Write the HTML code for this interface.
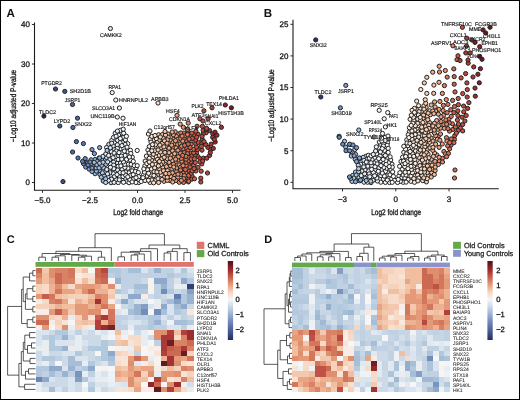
<!DOCTYPE html>
<html><head><meta charset="utf-8"><title>Figure</title>
<style>html,body{margin:0;padding:0;background:#fff;} svg text{font-family:"Liberation Sans", sans-serif;text-rendering:geometricPrecision;}</style>
</head><body>
<svg width="520" height="400" viewBox="0 0 520 400" font-family='"Liberation Sans", sans-serif' style="display:block;will-change:transform"><rect x="0.5" y="0.5" width="519" height="399" fill="#fff" stroke="#000" stroke-width="1"/>
<text x="6.60" y="17.00" font-size="11.6" font-weight="bold" fill="#111">A</text>
<g stroke="#222" stroke-width="1.0">
<circle cx="192.1" cy="176.2" r="2.1" fill="#d2624b"/>
<circle cx="113.5" cy="162.1" r="2.1" fill="#e5eef7"/>
<circle cx="133.6" cy="179.0" r="2.1" fill="#f8f9fa"/>
<circle cx="150.5" cy="155.5" r="2.1" fill="#fae5d3"/>
<circle cx="175.2" cy="162.2" r="2.1" fill="#ea9a75"/>
<circle cx="185.9" cy="180.3" r="2.1" fill="#da7055"/>
<circle cx="191.0" cy="141.5" r="2.1" fill="#dc7659"/>
<circle cx="179.1" cy="164.9" r="2.1" fill="#ec9e78"/>
<circle cx="126.4" cy="181.3" r="2.1" fill="#f5f8fa"/>
<circle cx="120.9" cy="133.5" r="2.1" fill="#ecf2f9"/>
<circle cx="125.9" cy="172.0" r="2.1" fill="#f7f9fa"/>
<circle cx="170.6" cy="165.8" r="2.1" fill="#eea883"/>
<circle cx="198.0" cy="134.2" r="2.1" fill="#c44c3b"/>
<circle cx="138.8" cy="182.5" r="2.1" fill="#fafafa"/>
<circle cx="172.3" cy="160.7" r="2.1" fill="#f2b592"/>
<circle cx="174.7" cy="143.5" r="2.1" fill="#efaa85"/>
<circle cx="114.5" cy="142.8" r="2.1" fill="#e8f0f8"/>
<circle cx="110.3" cy="163.8" r="2.1" fill="#e3ecf7"/>
<circle cx="150.0" cy="177.7" r="2.1" fill="#fbe9da"/>
<circle cx="120.9" cy="148.8" r="2.1" fill="#ecf2f8"/>
<circle cx="146.9" cy="176.0" r="2.1" fill="#fbe7d7"/>
<circle cx="158.5" cy="134.8" r="2.1" fill="#f7d0b5"/>
<circle cx="198.0" cy="156.6" r="2.1" fill="#c44b3b"/>
<circle cx="178.2" cy="134.0" r="2.1" fill="#efa985"/>
<circle cx="168.0" cy="134.0" r="2.1" fill="#f1b390"/>
<circle cx="117.6" cy="163.0" r="2.1" fill="#ecf2f9"/>
<circle cx="95.1" cy="173.7" r="2.1" fill="#96b7e1"/>
<circle cx="103.2" cy="181.0" r="2.1" fill="#96b7e1"/>
<circle cx="196.6" cy="152.6" r="2.1" fill="#cb5642"/>
<circle cx="117.6" cy="140.4" r="2.1" fill="#ecf2f9"/>
<circle cx="186.4" cy="177.5" r="2.1" fill="#db7458"/>
<circle cx="150.1" cy="182.4" r="2.1" fill="#fbe5d5"/>
<circle cx="129.2" cy="172.7" r="2.1" fill="#f7f8fa"/>
<circle cx="183.2" cy="148.9" r="2.1" fill="#dd7a5c"/>
<circle cx="110.4" cy="175.7" r="2.1" fill="#e3edf7"/>
<circle cx="138.4" cy="179.4" r="2.1" fill="#fbf6f3"/>
<circle cx="175.2" cy="131.8" r="2.1" fill="#e89470"/>
<circle cx="105.8" cy="164.4" r="2.1" fill="#a6c5e8"/>
<circle cx="123.3" cy="142.1" r="2.1" fill="#f5f7fa"/>
<circle cx="115.2" cy="133.2" r="2.1" fill="#e9f0f8"/>
<circle cx="102.7" cy="159.3" r="2.1" fill="#c0d7f0"/>
<circle cx="166.7" cy="146.4" r="2.1" fill="#f2b694"/>
<circle cx="189.2" cy="164.2" r="2.1" fill="#d6694f"/>
<circle cx="99.5" cy="170.5" r="2.1" fill="#97b7e1"/>
<circle cx="202.2" cy="139.2" r="2.1" fill="#bd4236"/>
<circle cx="173.3" cy="138.9" r="2.1" fill="#ec9f79"/>
<circle cx="195.7" cy="143.7" r="2.1" fill="#c74f3d"/>
<circle cx="120.5" cy="163.1" r="2.1" fill="#f0f5f9"/>
<circle cx="205.7" cy="144.5" r="2.1" fill="#c14839"/>
<circle cx="209.6" cy="130.6" r="2.1" fill="#a9322e"/>
<circle cx="118.2" cy="166.3" r="2.1" fill="#eaf1f8"/>
<circle cx="195.8" cy="171.0" r="2.1" fill="#c8523f"/>
<circle cx="179.1" cy="160.0" r="2.1" fill="#eb9b75"/>
<circle cx="149.1" cy="166.0" r="2.1" fill="#fcefe4"/>
<circle cx="206.1" cy="132.8" r="2.1" fill="#c04738"/>
<circle cx="128.3" cy="164.3" r="2.1" fill="#f8f9fa"/>
<circle cx="186.2" cy="172.3" r="2.1" fill="#df7e60"/>
<circle cx="183.8" cy="133.1" r="2.1" fill="#de7a5d"/>
<circle cx="167.3" cy="170.5" r="2.1" fill="#f4c09f"/>
<circle cx="215.2" cy="142.0" r="2.1" fill="#9d2a2b"/>
<circle cx="113.7" cy="165.1" r="2.1" fill="#e6eef8"/>
<circle cx="189.0" cy="178.5" r="2.1" fill="#d1614a"/>
<circle cx="155.4" cy="180.2" r="2.1" fill="#f9d8bf"/>
<circle cx="176.4" cy="136.4" r="2.1" fill="#eea57f"/>
<circle cx="177.5" cy="144.5" r="2.1" fill="#e89471"/>
<circle cx="123.7" cy="148.4" r="2.1" fill="#f4f7fa"/>
<circle cx="183.1" cy="173.1" r="2.1" fill="#e07f60"/>
<circle cx="95.0" cy="159.5" r="2.1" fill="#90b1de"/>
<circle cx="123.4" cy="137.5" r="2.1" fill="#f3f6f9"/>
<circle cx="91.2" cy="164.2" r="2.1" fill="#93b4df"/>
<circle cx="144.9" cy="165.8" r="2.1" fill="#fbf4ed"/>
<circle cx="116.2" cy="179.7" r="2.1" fill="#e8f0f8"/>
<circle cx="133.0" cy="168.1" r="2.1" fill="#f9f9fa"/>
<circle cx="127.9" cy="168.2" r="2.1" fill="#f3f6fa"/>
<circle cx="180.8" cy="174.5" r="2.1" fill="#e28666"/>
<circle cx="166.0" cy="161.4" r="2.1" fill="#f5c6a6"/>
<circle cx="122.1" cy="169.2" r="2.1" fill="#f6f8fa"/>
<circle cx="100.0" cy="174.5" r="2.1" fill="#94b5e0"/>
<circle cx="210.7" cy="149.6" r="2.1" fill="#b73b33"/>
<circle cx="120.1" cy="142.7" r="2.1" fill="#ecf2f9"/>
<circle cx="163.9" cy="177.1" r="2.1" fill="#f6c9aa"/>
<circle cx="129.0" cy="182.7" r="2.1" fill="#f4f7fa"/>
<circle cx="149.3" cy="146.6" r="2.1" fill="#fcf2ea"/>
<circle cx="158.8" cy="155.4" r="2.1" fill="#fae0cb"/>
<circle cx="141.2" cy="181.5" r="2.1" fill="#faf9f7"/>
<circle cx="107.9" cy="176.8" r="2.1" fill="#e2ecf7"/>
<circle cx="186.3" cy="165.6" r="2.1" fill="#dc7559"/>
<circle cx="171.9" cy="169.1" r="2.1" fill="#ec9d77"/>
<circle cx="209.6" cy="155.4" r="2.1" fill="#b33831"/>
<circle cx="105.4" cy="160.1" r="2.1" fill="#abc9eb"/>
<circle cx="213.3" cy="148.4" r="2.1" fill="#a32e2d"/>
<circle cx="153.8" cy="140.1" r="2.1" fill="#fbe5d4"/>
<circle cx="203.2" cy="133.6" r="2.1" fill="#ba3f35"/>
<circle cx="169.1" cy="162.4" r="2.1" fill="#efa985"/>
<circle cx="164.9" cy="164.3" r="2.1" fill="#f5c5a5"/>
<circle cx="162.3" cy="154.8" r="2.1" fill="#f6c7a8"/>
<circle cx="190.4" cy="153.3" r="2.1" fill="#cf5d47"/>
<circle cx="106.6" cy="157.5" r="2.1" fill="#c3d9f0"/>
<circle cx="162.8" cy="167.6" r="2.1" fill="#f5c3a3"/>
<circle cx="191.0" cy="161.9" r="2.1" fill="#d16049"/>
<circle cx="125.1" cy="155.4" r="2.1" fill="#f3f6fa"/>
<circle cx="131.2" cy="164.4" r="2.1" fill="#f8f9fa"/>
<circle cx="191.0" cy="135.8" r="2.1" fill="#d66950"/>
<circle cx="174.4" cy="174.8" r="2.1" fill="#ec9f79"/>
<circle cx="186.8" cy="148.1" r="2.1" fill="#dd785b"/>
<circle cx="143.6" cy="174.8" r="2.1" fill="#fbf6f2"/>
<circle cx="194.3" cy="135.7" r="2.1" fill="#cb5743"/>
<circle cx="158.1" cy="178.7" r="2.1" fill="#fadec9"/>
<circle cx="145.0" cy="180.5" r="2.1" fill="#fcf2e9"/>
<circle cx="109.7" cy="159.7" r="2.1" fill="#d0e1f3"/>
<circle cx="198.3" cy="142.4" r="2.1" fill="#c54c3b"/>
<circle cx="186.2" cy="162.3" r="2.1" fill="#d66950"/>
<circle cx="172.1" cy="142.1" r="2.1" fill="#ec9f79"/>
<circle cx="212.8" cy="133.9" r="2.1" fill="#a62f2d"/>
<circle cx="188.8" cy="160.4" r="2.1" fill="#db7357"/>
<circle cx="159.3" cy="140.2" r="2.1" fill="#f7cdb0"/>
<circle cx="118.6" cy="135.1" r="2.1" fill="#eff4f9"/>
<circle cx="156.3" cy="138.7" r="2.1" fill="#fadfcb"/>
<circle cx="181.8" cy="161.2" r="2.1" fill="#e48a68"/>
<circle cx="203.1" cy="130.2" r="2.1" fill="#c54c3b"/>
<circle cx="161.7" cy="158.9" r="2.1" fill="#f6c8aa"/>
<circle cx="124.9" cy="167.4" r="2.1" fill="#f5f8fa"/>
<circle cx="200.0" cy="158.7" r="2.1" fill="#c44b3b"/>
<circle cx="162.2" cy="134.7" r="2.1" fill="#f4c09e"/>
<circle cx="161.2" cy="147.9" r="2.1" fill="#f4bf9e"/>
<circle cx="109.7" cy="170.0" r="2.1" fill="#d5e4f4"/>
<circle cx="170.1" cy="139.9" r="2.1" fill="#f3ba98"/>
<circle cx="124.6" cy="164.4" r="2.1" fill="#f4f7fa"/>
<circle cx="126.5" cy="159.4" r="2.1" fill="#f2f6f9"/>
<circle cx="163.1" cy="138.2" r="2.1" fill="#f7ceb2"/>
<circle cx="180.2" cy="143.8" r="2.1" fill="#e28565"/>
<circle cx="136.3" cy="174.6" r="2.1" fill="#f9fafa"/>
<circle cx="159.6" cy="169.7" r="2.1" fill="#f7d1b6"/>
<circle cx="138.7" cy="176.6" r="2.1" fill="#fbf5f1"/>
<circle cx="151.8" cy="180.0" r="2.1" fill="#fbe6d5"/>
<circle cx="171.0" cy="136.9" r="2.1" fill="#efa883"/>
<circle cx="116.0" cy="156.7" r="2.1" fill="#eaf1f8"/>
<circle cx="173.4" cy="134.8" r="2.1" fill="#eb9b76"/>
<circle cx="119.4" cy="176.9" r="2.1" fill="#f0f5f9"/>
<circle cx="158.6" cy="174.3" r="2.1" fill="#f8d6bd"/>
<circle cx="105.7" cy="154.0" r="2.1" fill="#dbe7f5"/>
<circle cx="162.7" cy="162.4" r="2.1" fill="#f4bf9e"/>
<circle cx="127.8" cy="151.8" r="2.1" fill="#f8f9fa"/>
<circle cx="168.2" cy="137.2" r="2.1" fill="#f3bb99"/>
<circle cx="111.0" cy="182.7" r="2.1" fill="#c9dcf1"/>
<circle cx="117.3" cy="144.8" r="2.1" fill="#ebf2f8"/>
<circle cx="184.4" cy="152.5" r="2.1" fill="#d76a50"/>
<circle cx="160.4" cy="152.0" r="2.1" fill="#f8d5bb"/>
<circle cx="122.6" cy="179.6" r="2.1" fill="#f1f5f9"/>
<circle cx="111.8" cy="140.4" r="2.1" fill="#e8eff8"/>
<circle cx="206.3" cy="129.6" r="2.1" fill="#c44b3b"/>
<circle cx="188.7" cy="175.4" r="2.1" fill="#d76b51"/>
<circle cx="186.3" cy="140.7" r="2.1" fill="#d6684f"/>
<circle cx="181.3" cy="158.4" r="2.1" fill="#dd795c"/>
<circle cx="93.1" cy="166.9" r="2.1" fill="#92b3df"/>
<circle cx="178.3" cy="156.7" r="2.1" fill="#ea9a75"/>
<circle cx="135.9" cy="182.5" r="2.1" fill="#f7f9fa"/>
<circle cx="114.3" cy="149.2" r="2.1" fill="#e3edf7"/>
<circle cx="161.3" cy="174.9" r="2.1" fill="#f9dbc3"/>
<circle cx="177.4" cy="152.9" r="2.1" fill="#ec9f79"/>
<circle cx="101.3" cy="177.1" r="2.1" fill="#aac8ea"/>
<circle cx="113.5" cy="137.4" r="2.1" fill="#ebf1f8"/>
<circle cx="118.6" cy="155.7" r="2.1" fill="#e9f0f8"/>
<circle cx="160.5" cy="172.2" r="2.1" fill="#f7ceb2"/>
<circle cx="184.3" cy="175.6" r="2.1" fill="#e18464"/>
<circle cx="178.0" cy="139.1" r="2.1" fill="#eb9b75"/>
<circle cx="177.8" cy="177.1" r="2.1" fill="#eea47f"/>
<circle cx="145.2" cy="161.1" r="2.1" fill="#fcefe5"/>
<circle cx="173.5" cy="164.3" r="2.1" fill="#ec9e78"/>
<circle cx="132.3" cy="157.2" r="2.1" fill="#f9f9fa"/>
<circle cx="195.6" cy="140.0" r="2.1" fill="#cb5743"/>
<circle cx="108.8" cy="144.3" r="2.1" fill="#c7dbf1"/>
<circle cx="125.4" cy="139.9" r="2.1" fill="#f1f5f9"/>
<circle cx="183.5" cy="182.4" r="2.1" fill="#db7458"/>
<circle cx="195.9" cy="131.1" r="2.1" fill="#ce5b45"/>
<circle cx="167.5" cy="150.5" r="2.1" fill="#f4be9c"/>
<circle cx="151.4" cy="169.0" r="2.1" fill="#fae2ce"/>
<circle cx="187.9" cy="131.2" r="2.1" fill="#d76a51"/>
<circle cx="120.9" cy="165.9" r="2.1" fill="#f0f4f9"/>
<circle cx="155.2" cy="148.0" r="2.1" fill="#fae5d3"/>
<circle cx="202.0" cy="136.4" r="2.1" fill="#bf4537"/>
<circle cx="164.0" cy="181.3" r="2.1" fill="#f3ba97"/>
<circle cx="127.8" cy="143.7" r="2.1" fill="#f6f8fa"/>
<circle cx="104.5" cy="175.4" r="2.1" fill="#abc9eb"/>
<circle cx="154.6" cy="161.9" r="2.1" fill="#f9dbc4"/>
<circle cx="125.1" cy="144.5" r="2.1" fill="#edf3f9"/>
<circle cx="207.9" cy="147.4" r="2.1" fill="#aa322f"/>
<circle cx="167.8" cy="156.1" r="2.1" fill="#f0ad89"/>
<circle cx="106.6" cy="147.5" r="2.1" fill="#dbe8f5"/>
<circle cx="180.7" cy="138.5" r="2.1" fill="#e68e6c"/>
<circle cx="175.5" cy="140.7" r="2.1" fill="#eb9b75"/>
<circle cx="191.8" cy="133.1" r="2.1" fill="#cc5944"/>
<circle cx="167.3" cy="139.9" r="2.1" fill="#f2b693"/>
<circle cx="115.2" cy="171.3" r="2.1" fill="#e9f0f8"/>
<circle cx="113.2" cy="145.9" r="2.1" fill="#e6eff8"/>
<circle cx="125.3" cy="178.1" r="2.1" fill="#f5f8fa"/>
<circle cx="169.0" cy="148.1" r="2.1" fill="#f1b28f"/>
<circle cx="176.6" cy="171.6" r="2.1" fill="#e58c6a"/>
<circle cx="170.1" cy="180.5" r="2.1" fill="#f2b794"/>
<circle cx="111.5" cy="179.2" r="2.1" fill="#e3edf7"/>
<circle cx="108.4" cy="180.5" r="2.1" fill="#dae7f5"/>
<circle cx="97.7" cy="161.0" r="2.1" fill="#a5c4e8"/>
<circle cx="83.5" cy="163.7" r="2.1" fill="#6c8dc6"/>
<circle cx="129.8" cy="179.5" r="2.1" fill="#f7f9fa"/>
<circle cx="160.3" cy="137.0" r="2.1" fill="#f8d4b9"/>
<circle cx="166.4" cy="166.6" r="2.1" fill="#f0ad89"/>
<circle cx="173.3" cy="148.0" r="2.1" fill="#eda27c"/>
<circle cx="173.4" cy="156.2" r="2.1" fill="#eda37e"/>
<circle cx="123.0" cy="176.5" r="2.1" fill="#f3f6fa"/>
<circle cx="180.6" cy="167.2" r="2.1" fill="#e48a69"/>
<circle cx="123.7" cy="133.2" r="2.1" fill="#f4f7fa"/>
<circle cx="176.1" cy="147.9" r="2.1" fill="#eda27c"/>
<circle cx="136.0" cy="177.7" r="2.1" fill="#f9fafa"/>
<circle cx="197.5" cy="149.7" r="2.1" fill="#c34a3a"/>
<circle cx="85.7" cy="167.0" r="2.1" fill="#7596cc"/>
<circle cx="155.7" cy="164.6" r="2.1" fill="#fae2cf"/>
<circle cx="117.3" cy="148.4" r="2.1" fill="#ecf2f8"/>
<circle cx="175.9" cy="180.5" r="2.1" fill="#eb9c77"/>
<circle cx="125.6" cy="175.1" r="2.1" fill="#f3f6fa"/>
<circle cx="202.0" cy="150.2" r="2.1" fill="#c04738"/>
<circle cx="171.0" cy="154.9" r="2.1" fill="#eda37e"/>
<circle cx="171.0" cy="176.6" r="2.1" fill="#f1b390"/>
<circle cx="157.0" cy="142.6" r="2.1" fill="#f9dbc3"/>
<circle cx="105.6" cy="178.8" r="2.1" fill="#a6c5e8"/>
<circle cx="105.2" cy="172.3" r="2.1" fill="#e2ecf7"/>
<circle cx="154.7" cy="167.9" r="2.1" fill="#f9ddc6"/>
<circle cx="167.4" cy="158.8" r="2.1" fill="#f2b795"/>
<circle cx="132.2" cy="170.9" r="2.1" fill="#f7f9fa"/>
<circle cx="130.4" cy="175.5" r="2.1" fill="#f8f9fa"/>
<circle cx="188.0" cy="150.6" r="2.1" fill="#d16049"/>
<circle cx="96.3" cy="171.1" r="2.1" fill="#9abae3"/>
<circle cx="150.3" cy="139.2" r="2.1" fill="#fbeadc"/>
<circle cx="189.4" cy="171.1" r="2.1" fill="#cf5c47"/>
<circle cx="130.4" cy="150.3" r="2.1" fill="#f8f9fa"/>
<circle cx="130.8" cy="153.5" r="2.1" fill="#f6f8fa"/>
<circle cx="155.8" cy="156.7" r="2.1" fill="#f9ddc8"/>
<circle cx="111.4" cy="151.7" r="2.1" fill="#e6eff8"/>
<circle cx="146.8" cy="163.5" r="2.1" fill="#fcf2e9"/>
<circle cx="130.5" cy="160.0" r="2.1" fill="#f7f9fa"/>
<circle cx="113.1" cy="157.7" r="2.1" fill="#eef3f9"/>
<circle cx="95.9" cy="167.9" r="2.1" fill="#92b3df"/>
<circle cx="164.8" cy="149.6" r="2.1" fill="#f5c1a1"/>
<circle cx="98.9" cy="158.1" r="2.1" fill="#a6c4e8"/>
<circle cx="178.0" cy="174.2" r="2.1" fill="#e99773"/>
<circle cx="183.6" cy="178.7" r="2.1" fill="#e28666"/>
<circle cx="156.6" cy="152.6" r="2.1" fill="#f9dbc3"/>
<circle cx="117.6" cy="170.0" r="2.1" fill="#eaf1f8"/>
<circle cx="96.8" cy="164.8" r="2.1" fill="#9bbbe3"/>
<circle cx="162.3" cy="143.3" r="2.1" fill="#f6c7a8"/>
<circle cx="143.0" cy="177.7" r="2.1" fill="#fbf6f3"/>
<circle cx="153.6" cy="182.8" r="2.1" fill="#fae3d0"/>
<circle cx="191.2" cy="144.2" r="2.1" fill="#d6684f"/>
<circle cx="191.8" cy="156.0" r="2.1" fill="#ce5b46"/>
<circle cx="146.4" cy="156.1" r="2.1" fill="#fcf1e8"/>
<circle cx="120.3" cy="130.3" r="2.1" fill="#eff4f9"/>
<circle cx="171.7" cy="145.2" r="2.1" fill="#ec9e78"/>
<circle cx="147.9" cy="150.0" r="2.1" fill="#fbf5f0"/>
<circle cx="107.6" cy="161.9" r="2.1" fill="#d3e3f4"/>
<circle cx="188.4" cy="157.5" r="2.1" fill="#d96f54"/>
<circle cx="180.0" cy="148.3" r="2.1" fill="#dd795c"/>
<circle cx="118.2" cy="159.5" r="2.1" fill="#e7eff8"/>
<circle cx="187.5" cy="153.7" r="2.1" fill="#d76a51"/>
<circle cx="164.5" cy="140.9" r="2.1" fill="#f4c1a0"/>
<circle cx="129.4" cy="157.0" r="2.1" fill="#f7f8fa"/>
<circle cx="136.1" cy="167.8" r="2.1" fill="#fafafa"/>
<circle cx="215.0" cy="132.2" r="2.1" fill="#972529"/>
<circle cx="123.2" cy="129.2" r="2.1" fill="#eff4f9"/>
<circle cx="99.1" cy="167.9" r="2.1" fill="#a3c2e7"/>
<circle cx="201.8" cy="143.7" r="2.1" fill="#bf4538"/>
<circle cx="193.6" cy="165.5" r="2.1" fill="#d16049"/>
<circle cx="158.6" cy="182.5" r="2.1" fill="#f6cbae"/>
<circle cx="195.1" cy="155.3" r="2.1" fill="#c2493a"/>
<circle cx="114.1" cy="182.4" r="2.1" fill="#e7eff8"/>
<circle cx="107.1" cy="150.4" r="2.1" fill="#a6c5e8"/>
<circle cx="89.1" cy="169.1" r="2.1" fill="#7e9fd2"/>
<circle cx="191.2" cy="159.1" r="2.1" fill="#d2634b"/>
<circle cx="179.3" cy="182.3" r="2.1" fill="#e68f6d"/>
<circle cx="169.0" cy="152.7" r="2.1" fill="#f2b491"/>
<circle cx="91.0" cy="159.8" r="2.1" fill="#8baddb"/>
<circle cx="203.4" cy="158.2" r="2.1" fill="#be4537"/>
<circle cx="151.8" cy="136.3" r="2.1" fill="#fceee3"/>
<circle cx="173.8" cy="178.4" r="2.1" fill="#eea580"/>
<circle cx="126.4" cy="136.3" r="2.1" fill="#f6f8fa"/>
<circle cx="172.4" cy="172.8" r="2.1" fill="#efaa85"/>
<circle cx="201.8" cy="163.9" r="2.1" fill="#c95340"/>
<circle cx="119.9" cy="172.6" r="2.1" fill="#f0f5f9"/>
<circle cx="110.2" cy="172.8" r="2.1" fill="#e3edf7"/>
<circle cx="167.3" cy="180.4" r="2.1" fill="#f1b08d"/>
<circle cx="180.8" cy="132.9" r="2.1" fill="#da7257"/>
<circle cx="175.6" cy="159.2" r="2.1" fill="#ea9873"/>
<circle cx="132.1" cy="181.9" r="2.1" fill="#f9fafa"/>
<circle cx="148.4" cy="180.3" r="2.1" fill="#fbe7d7"/>
<circle cx="152.4" cy="157.6" r="2.1" fill="#fae3d1"/>
<circle cx="111.7" cy="143.2" r="2.1" fill="#d2e2f3"/>
<circle cx="193.7" cy="152.8" r="2.1" fill="#ce5c46"/>
<circle cx="186.0" cy="159.2" r="2.1" fill="#db7257"/>
<circle cx="134.3" cy="165.6" r="2.1" fill="#f8f9fa"/>
<circle cx="160.8" cy="164.6" r="2.1" fill="#f7ceb2"/>
<circle cx="176.5" cy="167.9" r="2.1" fill="#ea9a75"/>
<circle cx="127.0" cy="147.1" r="2.1" fill="#f2f5f9"/>
<circle cx="172.6" cy="150.8" r="2.1" fill="#eea782"/>
<circle cx="113.5" cy="173.7" r="2.1" fill="#e4edf7"/>
<circle cx="158.4" cy="165.9" r="2.1" fill="#f9d8bf"/>
<circle cx="151.4" cy="160.2" r="2.1" fill="#fae3d1"/>
<circle cx="120.3" cy="138.5" r="2.1" fill="#edf3f9"/>
<circle cx="105.7" cy="182.5" r="2.1" fill="#bdd5ef"/>
<circle cx="113.8" cy="168.7" r="2.1" fill="#e7eff8"/>
<circle cx="170.3" cy="158.2" r="2.1" fill="#f0ad89"/>
<circle cx="181.3" cy="180.4" r="2.1" fill="#e7926f"/>
<circle cx="92.0" cy="171.5" r="2.1" fill="#8eafdd"/>
<circle cx="149.3" cy="158.3" r="2.1" fill="#fbe9db"/>
<circle cx="155.0" cy="135.5" r="2.1" fill="#fae1cd"/>
<circle cx="206.8" cy="158.2" r="2.1" fill="#b73c33"/>
<circle cx="204.0" cy="141.6" r="2.1" fill="#c44c3b"/>
<circle cx="135.4" cy="171.5" r="2.1" fill="#f9fafa"/>
<circle cx="193.6" cy="149.2" r="2.1" fill="#cf5d47"/>
<circle cx="183.1" cy="165.6" r="2.1" fill="#e38867"/>
<circle cx="165.5" cy="135.0" r="2.1" fill="#f5c5a6"/>
<circle cx="162.0" cy="179.4" r="2.1" fill="#f5c6a6"/>
<circle cx="191.2" cy="173.2" r="2.1" fill="#cc5743"/>
<circle cx="169.0" cy="173.5" r="2.1" fill="#f1b08c"/>
<circle cx="102.9" cy="156.4" r="2.1" fill="#caddf2"/>
<circle cx="117.4" cy="131.1" r="2.1" fill="#eaf1f8"/>
<circle cx="163.5" cy="170.7" r="2.1" fill="#f5c4a5"/>
<circle cx="180.4" cy="153.2" r="2.1" fill="#e48b69"/>
<circle cx="144.4" cy="172.1" r="2.1" fill="#fbf3ec"/>
<circle cx="114.5" cy="176.5" r="2.1" fill="#e6eef8"/>
<circle cx="192.3" cy="138.3" r="2.1" fill="#ca5440"/>
<circle cx="133.3" cy="161.4" r="2.1" fill="#f8f9fa"/>
<circle cx="108.6" cy="155.5" r="2.1" fill="#e4edf7"/>
<circle cx="123.4" cy="161.9" r="2.1" fill="#eef3f9"/>
<circle cx="180.6" cy="170.0" r="2.1" fill="#dc765a"/>
<circle cx="216.9" cy="135.3" r="2.1" fill="#9d292b"/>
<circle cx="118.3" cy="182.6" r="2.1" fill="#edf2f9"/>
<circle cx="167.1" cy="143.2" r="2.1" fill="#f1b28e"/>
<circle cx="199.9" cy="161.8" r="2.1" fill="#c34a3a"/>
<circle cx="192.2" cy="170.7" r="2.1" fill="#d4654d"/>
<circle cx="185.4" cy="169.6" r="2.1" fill="#d76a51"/>
<circle cx="190.0" cy="167.0" r="2.1" fill="#d2614a"/>
<circle cx="94.2" cy="162.4" r="2.1" fill="#9ebde4"/>
<circle cx="133.2" cy="174.6" r="2.1" fill="#f9fafa"/>
<circle cx="152.3" cy="164.4" r="2.1" fill="#f9dcc6"/>
<circle cx="147.5" cy="169.7" r="2.1" fill="#fcede1"/>
<circle cx="151.0" cy="175.0" r="2.1" fill="#fbe6d5"/>
<circle cx="102.4" cy="172.8" r="2.1" fill="#a5c4e8"/>
<circle cx="173.8" cy="167.0" r="2.1" fill="#efaa85"/>
<circle cx="154.1" cy="171.8" r="2.1" fill="#fadec9"/>
<circle cx="191.7" cy="179.2" r="2.1" fill="#cc5743"/>
<circle cx="195.3" cy="162.5" r="2.1" fill="#ce5b46"/>
<circle cx="177.9" cy="150.3" r="2.1" fill="#e89370"/>
<circle cx="181.6" cy="146.2" r="2.1" fill="#e08162"/>
<circle cx="185.9" cy="156.4" r="2.1" fill="#db7458"/>
<circle cx="103.4" cy="167.5" r="2.1" fill="#afccec"/>
<circle cx="119.3" cy="179.8" r="2.1" fill="#e7eff8"/>
<circle cx="189.1" cy="139.1" r="2.1" fill="#d86d52"/>
<circle cx="155.4" cy="144.8" r="2.1" fill="#f9ddc6"/>
<circle cx="172.7" cy="182.0" r="2.1" fill="#f0ac88"/>
<circle cx="184.7" cy="145.3" r="2.1" fill="#d86d53"/>
<circle cx="110.4" cy="167.3" r="2.1" fill="#e9f0f8"/>
<circle cx="143.8" cy="168.9" r="2.1" fill="#fbf6f1"/>
<circle cx="182.6" cy="155.4" r="2.1" fill="#db7358"/>
<circle cx="85.0" cy="161.1" r="2.1" fill="#7798cd"/>
<circle cx="188.4" cy="181.9" r="2.1" fill="#df7d5f"/>
<circle cx="116.3" cy="151.1" r="2.1" fill="#e9f0f8"/>
<circle cx="151.0" cy="142.1" r="2.1" fill="#fbe8d9"/>
<circle cx="123.5" cy="182.3" r="2.1" fill="#f6f8fa"/>
<circle cx="114.1" cy="153.0" r="2.1" fill="#e8f0f8"/>
<circle cx="153.3" cy="154.2" r="2.1" fill="#f8d3b8"/>
<circle cx="156.9" cy="172.0" r="2.1" fill="#f8d6bd"/>
<circle cx="138.3" cy="172.5" r="2.1" fill="#faf9f9"/>
<circle cx="152.4" cy="147.9" r="2.1" fill="#fae1ce"/>
<circle cx="119.0" cy="152.6" r="2.1" fill="#e9f0f8"/>
<circle cx="174.6" cy="153.7" r="2.1" fill="#eea883"/>
<circle cx="194.3" cy="158.8" r="2.1" fill="#cf5d47"/>
<circle cx="107.5" cy="173.9" r="2.1" fill="#d8e6f5"/>
<circle cx="211.1" cy="144.2" r="2.1" fill="#af3630"/>
<circle cx="157.5" cy="159.4" r="2.1" fill="#f9dcc5"/>
<circle cx="110.3" cy="147.8" r="2.1" fill="#d5e4f4"/>
<circle cx="121.9" cy="145.6" r="2.1" fill="#f2f6f9"/>
<circle cx="167.2" cy="177.2" r="2.1" fill="#f4bf9d"/>
<circle cx="202.7" cy="161.0" r="2.1" fill="#c24939"/>
<circle cx="154.6" cy="150.7" r="2.1" fill="#f9dbc4"/>
<circle cx="87.5" cy="162.9" r="2.1" fill="#7495cb"/>
<circle cx="184.1" cy="138.6" r="2.1" fill="#de7b5d"/>
<circle cx="101.7" cy="165.2" r="2.1" fill="#a7c5e9"/>
<circle cx="182.8" cy="141.1" r="2.1" fill="#e99773"/>
<circle cx="121.3" cy="156.1" r="2.1" fill="#ebf1f8"/>
<circle cx="159.9" cy="145.1" r="2.1" fill="#f8d3b9"/>
<circle cx="165.8" cy="173.5" r="2.1" fill="#f4bc9a"/>
<circle cx="149.2" cy="153.0" r="2.1" fill="#fbeadc"/>
<circle cx="149.2" cy="162.0" r="2.1" fill="#fcede1"/>
<circle cx="201.4" cy="146.4" r="2.1" fill="#c54d3c"/>
<circle cx="190.1" cy="147.5" r="2.1" fill="#d2624b"/>
<circle cx="99.7" cy="163.1" r="2.1" fill="#b1cdec"/>
<circle cx="196.6" cy="147.1" r="2.1" fill="#c64e3c"/>
<circle cx="196.7" cy="137.2" r="2.1" fill="#c44b3b"/>
<circle cx="212.7" cy="137.3" r="2.1" fill="#a9322e"/>
<circle cx="116.1" cy="136.2" r="2.1" fill="#e9f0f8"/>
<circle cx="184.9" cy="135.8" r="2.1" fill="#dd795c"/>
<circle cx="163.9" cy="146.9" r="2.1" fill="#f5c5a5"/>
<circle cx="106.7" cy="169.5" r="2.1" fill="#d5e4f4"/>
<circle cx="121.8" cy="159.1" r="2.1" fill="#f0f4f9"/>
<circle cx="103.1" cy="162.2" r="2.1" fill="#afccec"/>
<circle cx="198.0" cy="167.3" r="2.1" fill="#c64d3c"/>
<circle cx="153.9" cy="175.5" r="2.1" fill="#fbe9db"/>
<circle cx="117.0" cy="174.6" r="2.1" fill="#e7eff8"/>
<circle cx="151.8" cy="150.8" r="2.1" fill="#fadfca"/>
<circle cx="187.5" cy="134.5" r="2.1" fill="#de7b5e"/>
<circle cx="123.1" cy="172.8" r="2.1" fill="#eff4f9"/>
<circle cx="148.6" cy="173.3" r="2.1" fill="#fbf3eb"/>
<circle cx="158.1" cy="149.9" r="2.1" fill="#f7ceb1"/>
<circle cx="159.4" cy="161.5" r="2.1" fill="#f6ccaf"/>
<circle cx="214.4" cy="139.4" r="2.1" fill="#b13731"/>
<circle cx="182.1" cy="136.1" r="2.1" fill="#e38867"/>
<circle cx="164.9" cy="152.4" r="2.1" fill="#f4bf9d"/>
<circle cx="127.8" cy="176.9" r="2.1" fill="#f7f9fa"/>
<circle cx="164.2" cy="157.3" r="2.1" fill="#f5c6a7"/>
<circle cx="152.5" cy="144.6" r="2.1" fill="#fbe7d8"/>
<circle cx="188.2" cy="144.1" r="2.1" fill="#d66950"/>
<circle cx="124.3" cy="151.1" r="2.1" fill="#f4f7fa"/>
<circle cx="210.3" cy="152.6" r="2.1" fill="#b23731"/>
<circle cx="194.1" cy="168.6" r="2.1" fill="#cd5a45"/>
</g>
<g stroke="#222" stroke-width="1.0">
<circle cx="76.4" cy="141.6" r="2.1" fill="#4c6cad"/>
<circle cx="83.4" cy="143.6" r="2.1" fill="#5577b6"/>
<circle cx="72.6" cy="152.0" r="2.1" fill="#4a69aa"/>
<circle cx="78.0" cy="158.0" r="2.1" fill="#5274b3"/>
<circle cx="82.6" cy="161.4" r="2.1" fill="#5b7dba"/>
<circle cx="85.2" cy="158.6" r="2.1" fill="#6084bf"/>
<circle cx="92.0" cy="149.6" r="2.1" fill="#7598cc"/>
<circle cx="94.4" cy="153.6" r="2.1" fill="#7a9ccd"/>
<circle cx="99.6" cy="147.6" r="2.1" fill="#88aad5"/>
<circle cx="99.6" cy="158.0" r="2.1" fill="#84a6d3"/>
<circle cx="63.0" cy="181.6" r="2.1" fill="#3b4f95"/>
<circle cx="88.0" cy="165.0" r="2.1" fill="#6a8dc4"/>
<circle cx="92.0" cy="168.0" r="2.1" fill="#7293c8"/>
<circle cx="90.0" cy="162.0" r="2.1" fill="#6f90c6"/>
<circle cx="201.2" cy="171.2" r="2.1" fill="#c4503f"/>
<circle cx="207.5" cy="173.0" r="2.1" fill="#bb4239"/>
<circle cx="194.5" cy="178.8" r="2.1" fill="#d0603f"/>
<circle cx="200.8" cy="178.2" r="2.1" fill="#c64c3c"/>
<circle cx="200.8" cy="182.0" r="2.1" fill="#c04438"/>
<circle cx="188.8" cy="181.2" r="2.1" fill="#d46c4c"/>
<circle cx="137.2" cy="150.5" r="2.1" fill="#fafafa"/>
<circle cx="137.2" cy="165.6" r="2.1" fill="#fafafa"/>
<circle cx="148.4" cy="134.0" r="2.1" fill="#fbe8dc"/>
<circle cx="212.0" cy="107.8" r="2.1" fill="#b83a35"/>
<circle cx="225.3" cy="105.0" r="2.1" fill="#9a2030"/>
<circle cx="231.4" cy="107.8" r="2.1" fill="#7a1520"/>
<circle cx="221.4" cy="127.3" r="2.1" fill="#a8283a"/>
<circle cx="203.9" cy="110.8" r="2.1" fill="#c0483c"/>
<circle cx="177.0" cy="115.3" r="2.1" fill="#eaa07a"/>
<circle cx="158.0" cy="103.0" r="2.1" fill="#fbe0cc"/>
<circle cx="180.2" cy="124.1" r="2.1" fill="#eda680"/>
<circle cx="188.2" cy="123.1" r="2.1" fill="#e08a66"/>
<circle cx="199.9" cy="118.8" r="2.1" fill="#c8543f"/>
<circle cx="203.0" cy="121.0" r="2.1" fill="#c24c3c"/>
<circle cx="208.1" cy="118.8" r="2.1" fill="#b8403a"/>
<circle cx="197.1" cy="126.3" r="2.1" fill="#cf5e46"/>
<circle cx="202.4" cy="126.3" r="2.1" fill="#c4503f"/>
<circle cx="206.6" cy="128.4" r="2.1" fill="#bd463c"/>
<circle cx="183.4" cy="127.3" r="2.1" fill="#e49270"/>
<circle cx="187.6" cy="129.4" r="2.1" fill="#df8664"/>
<circle cx="172.2" cy="132.0" r="2.1" fill="#f0b08c"/>
<circle cx="165.0" cy="131.5" r="2.1" fill="#f3c0a0"/>
<circle cx="150.0" cy="131.0" r="2.1" fill="#fbe6d8"/>
<circle cx="110.4" cy="28.5" r="2.1" fill="#d2e4f3"/>
<circle cx="55.5" cy="89.0" r="2.1" fill="#34478a"/>
<circle cx="64.8" cy="91.4" r="2.1" fill="#3e5595"/>
<circle cx="72.5" cy="104.5" r="2.1" fill="#4563a3"/>
<circle cx="43.9" cy="116.1" r="2.1" fill="#1d264c"/>
<circle cx="59.8" cy="126.0" r="2.1" fill="#3a5598"/>
<circle cx="77.5" cy="118.2" r="2.1" fill="#4b6aaa"/>
<circle cx="72.9" cy="127.5" r="2.1" fill="#4b6aaa"/>
<circle cx="112.2" cy="92.6" r="2.1" fill="#eef4fa"/>
<circle cx="115.8" cy="100.0" r="2.1" fill="#f4f7fa"/>
<circle cx="119.4" cy="108.0" r="2.1" fill="#f4f7fa"/>
<circle cx="117.3" cy="117.0" r="2.1" fill="#f6f8fa"/>
<circle cx="123.0" cy="118.2" r="2.1" fill="#f6f8fa"/>
</g>
<path d="M34.5 22.5 V190.3 H240.5" fill="none" stroke="#1a1a1a" stroke-width="1.1"/>
<line x1="31.9" y1="182.50" x2="34.5" y2="182.50" stroke="#1a1a1a" stroke-width="0.9"/>
<text x="29.90" y="185.35" font-size="8.0" text-anchor="end" fill="#111" stroke="#111" stroke-width="0.28">0</text>
<line x1="31.9" y1="143.00" x2="34.5" y2="143.00" stroke="#1a1a1a" stroke-width="0.9"/>
<text x="29.90" y="145.85" font-size="8.0" text-anchor="end" fill="#111" stroke="#111" stroke-width="0.28">10</text>
<line x1="31.9" y1="103.50" x2="34.5" y2="103.50" stroke="#1a1a1a" stroke-width="0.9"/>
<text x="29.90" y="106.35" font-size="8.0" text-anchor="end" fill="#111" stroke="#111" stroke-width="0.28">20</text>
<line x1="31.9" y1="64.00" x2="34.5" y2="64.00" stroke="#1a1a1a" stroke-width="0.9"/>
<text x="29.90" y="66.85" font-size="8.0" text-anchor="end" fill="#111" stroke="#111" stroke-width="0.28">30</text>
<line x1="31.9" y1="24.50" x2="34.5" y2="24.50" stroke="#1a1a1a" stroke-width="0.9"/>
<text x="29.90" y="27.35" font-size="8.0" text-anchor="end" fill="#111" stroke="#111" stroke-width="0.28">40</text>
<line x1="42.50" y1="190.3" x2="42.50" y2="192.9" stroke="#1a1a1a" stroke-width="0.9"/>
<text x="42.50" y="203.10" font-size="8.0" text-anchor="middle" fill="#111" stroke="#111" stroke-width="0.28">−5.0</text>
<line x1="90.00" y1="190.3" x2="90.00" y2="192.9" stroke="#1a1a1a" stroke-width="0.9"/>
<text x="90.00" y="203.10" font-size="8.0" text-anchor="middle" fill="#111" stroke="#111" stroke-width="0.28">−2.5</text>
<line x1="137.50" y1="190.3" x2="137.50" y2="192.9" stroke="#1a1a1a" stroke-width="0.9"/>
<text x="137.50" y="203.10" font-size="8.0" text-anchor="middle" fill="#111" stroke="#111" stroke-width="0.28">0.0</text>
<line x1="185.00" y1="190.3" x2="185.00" y2="192.9" stroke="#1a1a1a" stroke-width="0.9"/>
<text x="185.00" y="203.10" font-size="8.0" text-anchor="middle" fill="#111" stroke="#111" stroke-width="0.28">2.5</text>
<line x1="232.50" y1="190.3" x2="232.50" y2="192.9" stroke="#1a1a1a" stroke-width="0.9"/>
<text x="232.50" y="203.10" font-size="8.0" text-anchor="middle" fill="#111" stroke="#111" stroke-width="0.28">5.0</text>
<text x="138.20" y="215.20" font-size="8.2" text-anchor="middle" textLength="50.0" lengthAdjust="spacingAndGlyphs" fill="#111" stroke="#111" stroke-width="0.3">Log2 fold change</text>
<text transform="translate(16,106) rotate(-90)" x="0" y="0" font-size="8.2" text-anchor="middle" textLength="72.5" lengthAdjust="spacingAndGlyphs" fill="#111" stroke="#111" stroke-width="0.3">−Log10 adjusted P-value</text>
<text x="99.90" y="37.27" font-size="5.4" textLength="21.9" lengthAdjust="spacingAndGlyphs" fill="#222" stroke="#222" stroke-width="0.189">CAMKK2</text>
<text x="41.20" y="84.97" font-size="5.4" textLength="20.7" lengthAdjust="spacingAndGlyphs" fill="#222" stroke="#222" stroke-width="0.189">PTGDR2</text>
<text x="69.70" y="93.37" font-size="5.4" textLength="21.2" lengthAdjust="spacingAndGlyphs" fill="#222" stroke="#222" stroke-width="0.189">SH2D1B</text>
<text x="64.80" y="102.17" font-size="5.4" textLength="15.5" lengthAdjust="spacingAndGlyphs" fill="#222" stroke="#222" stroke-width="0.189">JSRP1</text>
<text x="39.00" y="113.67" font-size="5.4" textLength="17.0" lengthAdjust="spacingAndGlyphs" fill="#222" stroke="#222" stroke-width="0.189">TLDC2</text>
<text x="53.80" y="122.77" font-size="5.4" textLength="16.3" lengthAdjust="spacingAndGlyphs" fill="#222" stroke="#222" stroke-width="0.189">LYPD2</text>
<text x="74.60" y="125.97" font-size="5.4" textLength="17.3" lengthAdjust="spacingAndGlyphs" fill="#222" stroke="#222" stroke-width="0.189">SNX22</text>
<text x="108.40" y="88.97" font-size="5.4" textLength="12.7" lengthAdjust="spacingAndGlyphs" fill="#222" stroke="#222" stroke-width="0.189">RPA1</text>
<text x="119.00" y="101.97" font-size="5.4" textLength="29.0" lengthAdjust="spacingAndGlyphs" fill="#222" stroke="#222" stroke-width="0.189">HNRNPUL2</text>
<text x="92.00" y="109.97" font-size="5.4" textLength="23.2" lengthAdjust="spacingAndGlyphs" fill="#222" stroke="#222" stroke-width="0.189">SLCO3A1</text>
<text x="90.40" y="117.87" font-size="5.4" textLength="24.2" lengthAdjust="spacingAndGlyphs" fill="#222" stroke="#222" stroke-width="0.189">UNC119B</text>
<text x="118.80" y="125.57" font-size="5.4" textLength="17.5" lengthAdjust="spacingAndGlyphs" fill="#222" stroke="#222" stroke-width="0.189">HIF1AN</text>
<text x="151.00" y="101.37" font-size="5.4" textLength="17.6" lengthAdjust="spacingAndGlyphs" fill="#222" stroke="#222" stroke-width="0.189">APBB3</text>
<text x="218.70" y="100.27" font-size="5.4" textLength="20.1" lengthAdjust="spacingAndGlyphs" fill="#222" stroke="#222" stroke-width="0.189">PHLDA1</text>
<text x="206.20" y="105.57" font-size="5.4" textLength="15.8" lengthAdjust="spacingAndGlyphs" fill="#222" stroke="#222" stroke-width="0.189">TEX14</text>
<text x="218.30" y="114.87" font-size="5.4" textLength="25.4" lengthAdjust="spacingAndGlyphs" fill="#222" stroke="#222" stroke-width="0.189">HIST1H3B</text>
<text x="191.40" y="107.67" font-size="5.4" textLength="12.1" lengthAdjust="spacingAndGlyphs" fill="#222" stroke="#222" stroke-width="0.189">PLK2</text>
<text x="166.00" y="112.97" font-size="5.4" textLength="13.6" lengthAdjust="spacingAndGlyphs" fill="#222" stroke="#222" stroke-width="0.189">HSF4</text>
<text x="191.40" y="117.27" font-size="5.4" textLength="13.1" lengthAdjust="spacingAndGlyphs" fill="#222" stroke="#222" stroke-width="0.189">ATF3</text>
<text x="204.50" y="118.27" font-size="5.4" textLength="13.8" lengthAdjust="spacingAndGlyphs" fill="#222" stroke="#222" stroke-width="0.189">SNAI1</text>
<text x="169.00" y="121.47" font-size="5.4" textLength="21.0" lengthAdjust="spacingAndGlyphs" fill="#222" stroke="#222" stroke-width="0.189">CDKN1A</text>
<text x="205.00" y="124.97" font-size="5.4" textLength="16.4" lengthAdjust="spacingAndGlyphs" fill="#222" stroke="#222" stroke-width="0.189">CXCL2</text>
<text x="153.80" y="129.27" font-size="5.4" textLength="21.2" lengthAdjust="spacingAndGlyphs" fill="#222" stroke="#222" stroke-width="0.189">C12orf57</text>
<text x="184.40" y="129.97" font-size="5.4" textLength="13.6" lengthAdjust="spacingAndGlyphs" fill="#222" stroke="#222" stroke-width="0.189">KLF4</text>
<text x="263.80" y="17.00" font-size="11.6" font-weight="bold" fill="#111">B</text>
<g stroke="#222" stroke-width="1.0">
<circle cx="410.9" cy="181.3" r="2.1" fill="#fceee2"/>
<circle cx="438.0" cy="129.3" r="2.1" fill="#efa985"/>
<circle cx="464.9" cy="121.0" r="2.1" fill="#c44b3b"/>
<circle cx="374.7" cy="162.5" r="2.1" fill="#edf3f9"/>
<circle cx="368.4" cy="171.0" r="2.1" fill="#eaf1f8"/>
<circle cx="443.9" cy="151.5" r="2.1" fill="#e48b69"/>
<circle cx="428.5" cy="175.6" r="2.1" fill="#f6cbae"/>
<circle cx="466.9" cy="82.9" r="2.1" fill="#bf4638"/>
<circle cx="427.4" cy="116.3" r="2.1" fill="#f6c9ab"/>
<circle cx="410.0" cy="156.0" r="2.1" fill="#fbf7f4"/>
<circle cx="428.2" cy="131.7" r="2.1" fill="#f5c5a5"/>
<circle cx="410.1" cy="119.3" r="2.1" fill="#fcefe4"/>
<circle cx="409.3" cy="131.9" r="2.1" fill="#fcf0e6"/>
<circle cx="417.6" cy="167.7" r="2.1" fill="#fadec9"/>
<circle cx="417.6" cy="131.0" r="2.1" fill="#fbe8da"/>
<circle cx="467.3" cy="89.6" r="2.1" fill="#c14839"/>
<circle cx="367.8" cy="166.2" r="2.1" fill="#e7eff8"/>
<circle cx="383.1" cy="179.4" r="2.1" fill="#f0f4f9"/>
<circle cx="421.8" cy="111.2" r="2.1" fill="#f8d2b7"/>
<circle cx="352.7" cy="175.5" r="2.1" fill="#a2c1e6"/>
<circle cx="463.7" cy="111.8" r="2.1" fill="#c34b3a"/>
<circle cx="430.1" cy="161.7" r="2.1" fill="#f2b794"/>
<circle cx="401.0" cy="161.5" r="2.1" fill="#faf9f8"/>
<circle cx="433.7" cy="93.3" r="2.1" fill="#f3b895"/>
<circle cx="454.7" cy="135.7" r="2.1" fill="#cc5843"/>
<circle cx="452.4" cy="123.8" r="2.1" fill="#d86b51"/>
<circle cx="462.0" cy="117.2" r="2.1" fill="#c24939"/>
<circle cx="430.4" cy="114.7" r="2.1" fill="#f3bc99"/>
<circle cx="467.6" cy="108.4" r="2.1" fill="#b63b32"/>
<circle cx="381.8" cy="169.7" r="2.1" fill="#f1f5f9"/>
<circle cx="445.5" cy="153.8" r="2.1" fill="#e48a69"/>
<circle cx="446.5" cy="137.7" r="2.1" fill="#df7d5f"/>
<circle cx="429.7" cy="110.8" r="2.1" fill="#f6cbae"/>
<circle cx="427.4" cy="149.7" r="2.1" fill="#f6c8a9"/>
<circle cx="436.7" cy="154.9" r="2.1" fill="#eda27d"/>
<circle cx="454.4" cy="139.5" r="2.1" fill="#d16049"/>
<circle cx="410.4" cy="162.5" r="2.1" fill="#fbf4ef"/>
<circle cx="423.6" cy="115.1" r="2.1" fill="#f6cbad"/>
<circle cx="413.5" cy="149.2" r="2.1" fill="#fbe7d7"/>
<circle cx="376.7" cy="153.7" r="2.1" fill="#f6f8fa"/>
<circle cx="427.1" cy="161.5" r="2.1" fill="#f6cbad"/>
<circle cx="416.7" cy="101.1" r="2.1" fill="#fbe5d4"/>
<circle cx="421.2" cy="138.8" r="2.1" fill="#f9d9c1"/>
<circle cx="365.0" cy="169.9" r="2.1" fill="#eaf1f8"/>
<circle cx="438.4" cy="114.2" r="2.1" fill="#eda37e"/>
<circle cx="438.5" cy="135.8" r="2.1" fill="#ea9974"/>
<circle cx="414.8" cy="171.5" r="2.1" fill="#fcefe4"/>
<circle cx="387.8" cy="139.3" r="2.1" fill="#f8f9fa"/>
<circle cx="398.9" cy="175.9" r="2.1" fill="#fbf4ed"/>
<circle cx="431.3" cy="159.2" r="2.1" fill="#f5c6a6"/>
<circle cx="417.7" cy="148.8" r="2.1" fill="#f9dac1"/>
<circle cx="415.3" cy="137.4" r="2.1" fill="#fae0cb"/>
<circle cx="387.9" cy="172.8" r="2.1" fill="#f8f9fa"/>
<circle cx="442.4" cy="158.3" r="2.1" fill="#de7b5d"/>
<circle cx="355.5" cy="172.1" r="2.1" fill="#abc9ea"/>
<circle cx="366.8" cy="176.0" r="2.1" fill="#e6eef8"/>
<circle cx="431.6" cy="172.4" r="2.1" fill="#f3bb99"/>
<circle cx="439.0" cy="109.3" r="2.1" fill="#eea57f"/>
<circle cx="417.2" cy="128.3" r="2.1" fill="#fae3d0"/>
<circle cx="402.6" cy="157.2" r="2.1" fill="#faf8f7"/>
<circle cx="435.7" cy="111.0" r="2.1" fill="#efaa86"/>
<circle cx="418.9" cy="125.8" r="2.1" fill="#fae4d2"/>
<circle cx="417.6" cy="123.4" r="2.1" fill="#fae2cf"/>
<circle cx="387.2" cy="175.8" r="2.1" fill="#f8f9fa"/>
<circle cx="389.5" cy="182.5" r="2.1" fill="#f7f9fa"/>
<circle cx="448.8" cy="119.4" r="2.1" fill="#df7e60"/>
<circle cx="443.8" cy="124.7" r="2.1" fill="#e28666"/>
<circle cx="475.3" cy="96.2" r="2.1" fill="#a22d2c"/>
<circle cx="401.9" cy="177.6" r="2.1" fill="#fbf3ec"/>
<circle cx="454.2" cy="76.6" r="2.1" fill="#d2614a"/>
<circle cx="425.5" cy="111.5" r="2.1" fill="#f6c8aa"/>
<circle cx="403.8" cy="152.3" r="2.1" fill="#fbf3eb"/>
<circle cx="380.2" cy="145.4" r="2.1" fill="#eff4f9"/>
<circle cx="378.6" cy="174.0" r="2.1" fill="#f5f7fa"/>
<circle cx="477.9" cy="74.3" r="2.1" fill="#952429"/>
<circle cx="385.5" cy="171.3" r="2.1" fill="#f7f9fa"/>
<circle cx="389.2" cy="177.9" r="2.1" fill="#f8f9fa"/>
<circle cx="387.1" cy="158.3" r="2.1" fill="#f8f9fa"/>
<circle cx="390.7" cy="160.0" r="2.1" fill="#fafafa"/>
<circle cx="380.7" cy="176.0" r="2.1" fill="#eff4f9"/>
<circle cx="387.5" cy="142.6" r="2.1" fill="#f7f8fa"/>
<circle cx="385.4" cy="182.4" r="2.1" fill="#f7f8fa"/>
<circle cx="437.4" cy="139.2" r="2.1" fill="#efa884"/>
<circle cx="435.6" cy="135.6" r="2.1" fill="#eea580"/>
<circle cx="457.8" cy="110.8" r="2.1" fill="#c64e3c"/>
<circle cx="360.8" cy="167.1" r="2.1" fill="#cddff2"/>
<circle cx="444.4" cy="85.6" r="2.1" fill="#de7b5d"/>
<circle cx="452.9" cy="129.4" r="2.1" fill="#d3644c"/>
<circle cx="417.6" cy="170.6" r="2.1" fill="#fbe7d8"/>
<circle cx="416.6" cy="143.6" r="2.1" fill="#fae5d4"/>
<circle cx="407.0" cy="158.9" r="2.1" fill="#fbf7f4"/>
<circle cx="379.0" cy="147.9" r="2.1" fill="#f1f5f9"/>
<circle cx="383.3" cy="153.2" r="2.1" fill="#f4f7fa"/>
<circle cx="385.3" cy="137.3" r="2.1" fill="#f7f9fa"/>
<circle cx="432.6" cy="169.3" r="2.1" fill="#f0ad89"/>
<circle cx="392.0" cy="164.2" r="2.1" fill="#f9fafa"/>
<circle cx="410.9" cy="147.4" r="2.1" fill="#fbeadd"/>
<circle cx="356.7" cy="180.6" r="2.1" fill="#bdd4ef"/>
<circle cx="417.3" cy="109.3" r="2.1" fill="#fbe8da"/>
<circle cx="379.6" cy="179.3" r="2.1" fill="#f5f8fa"/>
<circle cx="413.9" cy="120.1" r="2.1" fill="#fbf3eb"/>
<circle cx="426.8" cy="93.4" r="2.1" fill="#f7cdb0"/>
<circle cx="359.0" cy="177.7" r="2.1" fill="#c8dcf1"/>
<circle cx="374.8" cy="158.2" r="2.1" fill="#f1f5f9"/>
<circle cx="371.7" cy="165.7" r="2.1" fill="#ecf2f8"/>
<circle cx="424.3" cy="165.0" r="2.1" fill="#f7cdb0"/>
<circle cx="423.3" cy="119.1" r="2.1" fill="#f9dac1"/>
<circle cx="458.2" cy="98.5" r="2.1" fill="#cc5844"/>
<circle cx="376.9" cy="160.6" r="2.1" fill="#f4f7fa"/>
<circle cx="376.1" cy="172.9" r="2.1" fill="#edf3f9"/>
<circle cx="387.3" cy="180.0" r="2.1" fill="#f9f9fa"/>
<circle cx="387.2" cy="145.3" r="2.1" fill="#f8f9fa"/>
<circle cx="435.5" cy="127.3" r="2.1" fill="#f4c09f"/>
<circle cx="440.7" cy="128.1" r="2.1" fill="#ea9874"/>
<circle cx="378.9" cy="167.9" r="2.1" fill="#f1f5f9"/>
<circle cx="384.6" cy="150.4" r="2.1" fill="#f7f9fa"/>
<circle cx="430.8" cy="130.6" r="2.1" fill="#f3b996"/>
<circle cx="408.1" cy="179.4" r="2.1" fill="#fbebdd"/>
<circle cx="377.1" cy="163.9" r="2.1" fill="#eff4f9"/>
<circle cx="426.1" cy="107.4" r="2.1" fill="#f5c4a5"/>
<circle cx="361.3" cy="175.6" r="2.1" fill="#e2ecf7"/>
<circle cx="442.4" cy="93.4" r="2.1" fill="#e7926f"/>
<circle cx="364.6" cy="173.8" r="2.1" fill="#e3ecf7"/>
<circle cx="428.1" cy="154.2" r="2.1" fill="#f5c6a6"/>
<circle cx="468.9" cy="102.6" r="2.1" fill="#bd4337"/>
<circle cx="424.3" cy="162.2" r="2.1" fill="#f7d0b4"/>
<circle cx="450.7" cy="109.7" r="2.1" fill="#d66950"/>
<circle cx="433.9" cy="85.1" r="2.1" fill="#f5c2a1"/>
<circle cx="421.9" cy="146.5" r="2.1" fill="#f6cbae"/>
<circle cx="439.1" cy="157.3" r="2.1" fill="#ec9f79"/>
<circle cx="414.9" cy="175.8" r="2.1" fill="#fae3d1"/>
<circle cx="375.2" cy="169.9" r="2.1" fill="#edf3f9"/>
<circle cx="462.6" cy="124.6" r="2.1" fill="#c04738"/>
<circle cx="383.3" cy="146.0" r="2.1" fill="#f7f8fa"/>
<circle cx="446.9" cy="141.0" r="2.1" fill="#e38766"/>
<circle cx="388.2" cy="148.4" r="2.1" fill="#f7f8fa"/>
<circle cx="419.7" cy="162.7" r="2.1" fill="#f8d6bc"/>
<circle cx="457.4" cy="120.0" r="2.1" fill="#c95440"/>
<circle cx="415.5" cy="147.1" r="2.1" fill="#fcf2ea"/>
<circle cx="414.4" cy="108.4" r="2.1" fill="#fae4d2"/>
<circle cx="421.6" cy="135.6" r="2.1" fill="#f9dec8"/>
<circle cx="417.6" cy="175.2" r="2.1" fill="#fae4d3"/>
<circle cx="391.7" cy="178.8" r="2.1" fill="#f9fafa"/>
<circle cx="434.3" cy="174.5" r="2.1" fill="#f3ba97"/>
<circle cx="415.5" cy="151.0" r="2.1" fill="#fbebde"/>
<circle cx="413.5" cy="127.7" r="2.1" fill="#fcf1e7"/>
<circle cx="419.3" cy="144.7" r="2.1" fill="#f9ddc7"/>
<circle cx="420.0" cy="165.7" r="2.1" fill="#f9ddc7"/>
<circle cx="365.8" cy="156.3" r="2.1" fill="#dfeaf6"/>
<circle cx="379.3" cy="142.0" r="2.1" fill="#f1f5f9"/>
<circle cx="403.2" cy="182.3" r="2.1" fill="#fbf7f5"/>
<circle cx="406.8" cy="139.8" r="2.1" fill="#fbf4ed"/>
<circle cx="408.6" cy="148.9" r="2.1" fill="#fbf3ed"/>
<circle cx="400.3" cy="181.4" r="2.1" fill="#fafafa"/>
<circle cx="427.5" cy="144.3" r="2.1" fill="#f4bd9b"/>
<circle cx="404.8" cy="177.9" r="2.1" fill="#fbf4ee"/>
<circle cx="412.7" cy="153.8" r="2.1" fill="#fcede0"/>
<circle cx="411.0" cy="176.0" r="2.1" fill="#fcefe4"/>
<circle cx="414.9" cy="130.0" r="2.1" fill="#fbeadc"/>
<circle cx="386.6" cy="168.2" r="2.1" fill="#f7f9fa"/>
<circle cx="426.4" cy="141.5" r="2.1" fill="#f4bf9d"/>
<circle cx="415.3" cy="125.7" r="2.1" fill="#fae5d3"/>
<circle cx="445.8" cy="119.9" r="2.1" fill="#de7c5e"/>
<circle cx="475.0" cy="88.1" r="2.1" fill="#a42e2d"/>
<circle cx="413.9" cy="178.6" r="2.1" fill="#fbeadc"/>
<circle cx="432.1" cy="165.2" r="2.1" fill="#f4bd9b"/>
<circle cx="412.1" cy="110.3" r="2.1" fill="#fbe7d7"/>
<circle cx="425.5" cy="126.5" r="2.1" fill="#f5c3a3"/>
<circle cx="422.0" cy="175.7" r="2.1" fill="#f9dcc5"/>
<circle cx="382.2" cy="148.6" r="2.1" fill="#f6f8fa"/>
<circle cx="428.9" cy="157.8" r="2.1" fill="#f5c6a7"/>
<circle cx="457.9" cy="115.5" r="2.1" fill="#c8513e"/>
<circle cx="448.4" cy="153.4" r="2.1" fill="#d76b51"/>
<circle cx="383.5" cy="162.5" r="2.1" fill="#f7f8fa"/>
<circle cx="390.9" cy="169.4" r="2.1" fill="#f9f9fa"/>
<circle cx="406.4" cy="153.8" r="2.1" fill="#fbeadc"/>
<circle cx="473.0" cy="77.0" r="2.1" fill="#b23731"/>
<circle cx="429.5" cy="122.5" r="2.1" fill="#f4bc9a"/>
<circle cx="363.7" cy="163.5" r="2.1" fill="#e7eff8"/>
<circle cx="407.8" cy="145.7" r="2.1" fill="#faf8f7"/>
<circle cx="420.1" cy="108.7" r="2.1" fill="#f9dbc3"/>
<circle cx="375.0" cy="166.8" r="2.1" fill="#f3f6fa"/>
<circle cx="425.4" cy="121.2" r="2.1" fill="#f9ddc7"/>
<circle cx="421.3" cy="154.1" r="2.1" fill="#f9d9c1"/>
<circle cx="424.9" cy="146.9" r="2.1" fill="#f9d9c1"/>
<circle cx="451.2" cy="116.4" r="2.1" fill="#da7055"/>
<circle cx="413.3" cy="141.6" r="2.1" fill="#fcf1e8"/>
<circle cx="439.9" cy="101.4" r="2.1" fill="#e7916e"/>
<circle cx="390.0" cy="174.8" r="2.1" fill="#f8f9fa"/>
<circle cx="409.4" cy="127.7" r="2.1" fill="#fbf6f2"/>
<circle cx="460.4" cy="128.2" r="2.1" fill="#ce5b45"/>
<circle cx="439.9" cy="140.2" r="2.1" fill="#ec9f7a"/>
<circle cx="415.6" cy="115.0" r="2.1" fill="#fbece0"/>
<circle cx="394.6" cy="180.3" r="2.1" fill="#fafafa"/>
<circle cx="447.9" cy="104.4" r="2.1" fill="#de7b5d"/>
<circle cx="436.7" cy="120.5" r="2.1" fill="#eda27c"/>
<circle cx="411.9" cy="131.0" r="2.1" fill="#fcefe5"/>
<circle cx="380.1" cy="155.9" r="2.1" fill="#f5f7fa"/>
<circle cx="424.3" cy="82.9" r="2.1" fill="#f7ccaf"/>
<circle cx="465.6" cy="73.6" r="2.1" fill="#c04638"/>
<circle cx="418.9" cy="134.1" r="2.1" fill="#fae3d1"/>
<circle cx="424.4" cy="143.4" r="2.1" fill="#f7ccaf"/>
<circle cx="455.4" cy="127.0" r="2.1" fill="#d1614a"/>
<circle cx="383.8" cy="167.4" r="2.1" fill="#f4f7fa"/>
<circle cx="402.2" cy="169.1" r="2.1" fill="#faf8f6"/>
<circle cx="414.9" cy="159.7" r="2.1" fill="#fadec9"/>
<circle cx="417.7" cy="119.0" r="2.1" fill="#fae2cf"/>
<circle cx="414.5" cy="182.3" r="2.1" fill="#fcede0"/>
<circle cx="446.3" cy="99.6" r="2.1" fill="#e48a69"/>
<circle cx="423.9" cy="105.8" r="2.1" fill="#f9dac2"/>
<circle cx="420.8" cy="120.4" r="2.1" fill="#fae3d1"/>
<circle cx="361.0" cy="161.2" r="2.1" fill="#e2ecf7"/>
<circle cx="418.6" cy="152.2" r="2.1" fill="#fadfca"/>
<circle cx="355.6" cy="154.4" r="2.1" fill="#c5daf1"/>
<circle cx="431.2" cy="138.2" r="2.1" fill="#f2b895"/>
<circle cx="361.9" cy="171.0" r="2.1" fill="#d5e4f4"/>
<circle cx="405.7" cy="156.5" r="2.1" fill="#fbf4ee"/>
<circle cx="412.4" cy="172.7" r="2.1" fill="#fcede1"/>
<circle cx="380.8" cy="182.2" r="2.1" fill="#f7f8fa"/>
<circle cx="424.4" cy="135.6" r="2.1" fill="#f9ddc7"/>
<circle cx="419.1" cy="111.7" r="2.1" fill="#f9d9c1"/>
<circle cx="392.2" cy="182.3" r="2.1" fill="#f9fafa"/>
<circle cx="439.4" cy="161.2" r="2.1" fill="#e38767"/>
<circle cx="380.4" cy="152.0" r="2.1" fill="#f5f7fa"/>
<circle cx="422.7" cy="180.6" r="2.1" fill="#f8d6bc"/>
<circle cx="445.3" cy="70.5" r="2.1" fill="#e7926f"/>
<circle cx="411.3" cy="169.5" r="2.1" fill="#fcf1e7"/>
<circle cx="412.0" cy="139.1" r="2.1" fill="#fbece0"/>
<circle cx="461.1" cy="77.9" r="2.1" fill="#c64e3c"/>
<circle cx="373.3" cy="172.5" r="2.1" fill="#e8f0f8"/>
<circle cx="402.2" cy="164.8" r="2.1" fill="#faf8f7"/>
<circle cx="352.0" cy="181.4" r="2.1" fill="#a7c6e9"/>
<circle cx="438.5" cy="125.7" r="2.1" fill="#f0ad89"/>
<circle cx="368.3" cy="155.3" r="2.1" fill="#e9f0f8"/>
<circle cx="384.3" cy="176.1" r="2.1" fill="#f6f8fa"/>
<circle cx="381.0" cy="165.6" r="2.1" fill="#f4f7fa"/>
<circle cx="431.2" cy="105.0" r="2.1" fill="#f1b18e"/>
<circle cx="449.5" cy="131.1" r="2.1" fill="#d86d53"/>
<circle cx="421.3" cy="169.0" r="2.1" fill="#fae1cd"/>
<circle cx="426.4" cy="181.9" r="2.1" fill="#f5c5a6"/>
<circle cx="417.1" cy="140.3" r="2.1" fill="#fbe5d4"/>
<circle cx="443.5" cy="115.4" r="2.1" fill="#e99672"/>
<circle cx="458.5" cy="124.0" r="2.1" fill="#cb5642"/>
<circle cx="368.9" cy="179.4" r="2.1" fill="#e9f0f8"/>
<circle cx="376.3" cy="146.9" r="2.1" fill="#f2f6f9"/>
<circle cx="435.1" cy="170.5" r="2.1" fill="#efaa85"/>
<circle cx="413.8" cy="156.3" r="2.1" fill="#fcf2e9"/>
<circle cx="435.0" cy="161.3" r="2.1" fill="#ec9e78"/>
<circle cx="451.2" cy="138.9" r="2.1" fill="#d66950"/>
<circle cx="369.1" cy="173.9" r="2.1" fill="#e6eef8"/>
<circle cx="388.5" cy="162.7" r="2.1" fill="#f8f9fa"/>
<circle cx="432.8" cy="111.0" r="2.1" fill="#f0ae8b"/>
<circle cx="358.6" cy="171.6" r="2.1" fill="#b7d1ed"/>
<circle cx="458.2" cy="130.5" r="2.1" fill="#c95340"/>
<circle cx="371.0" cy="182.6" r="2.1" fill="#ecf2f8"/>
<circle cx="429.7" cy="142.2" r="2.1" fill="#f5c5a5"/>
<circle cx="388.2" cy="152.4" r="2.1" fill="#f7f9fa"/>
<circle cx="428.7" cy="125.2" r="2.1" fill="#f5c4a5"/>
<circle cx="422.5" cy="157.3" r="2.1" fill="#f8d2b7"/>
<circle cx="408.2" cy="134.8" r="2.1" fill="#fbf7f3"/>
<circle cx="407.4" cy="165.2" r="2.1" fill="#fbf4ee"/>
<circle cx="412.9" cy="123.2" r="2.1" fill="#fcf1e8"/>
<circle cx="473.7" cy="66.9" r="2.1" fill="#ad342f"/>
<circle cx="365.1" cy="178.2" r="2.1" fill="#bdd5ef"/>
<circle cx="351.3" cy="156.0" r="2.1" fill="#a3c2e7"/>
<circle cx="403.0" cy="175.0" r="2.1" fill="#fbf6f2"/>
<circle cx="427.3" cy="172.7" r="2.1" fill="#f5c5a5"/>
<circle cx="359.9" cy="158.4" r="2.1" fill="#caddf2"/>
<circle cx="425.2" cy="132.4" r="2.1" fill="#f7d1b6"/>
<circle cx="407.0" cy="143.0" r="2.1" fill="#faf8f5"/>
<circle cx="385.2" cy="140.6" r="2.1" fill="#f7f9fa"/>
<circle cx="415.2" cy="134.5" r="2.1" fill="#fbe7d8"/>
<circle cx="434.3" cy="123.3" r="2.1" fill="#f3b997"/>
<circle cx="392.3" cy="167.1" r="2.1" fill="#f8f9fa"/>
<circle cx="356.1" cy="175.0" r="2.1" fill="#a9c7e9"/>
<circle cx="479.3" cy="82.8" r="2.1" fill="#891d25"/>
<circle cx="426.1" cy="152.4" r="2.1" fill="#f5c2a2"/>
<circle cx="380.8" cy="160.8" r="2.1" fill="#f1f5f9"/>
<circle cx="434.5" cy="153.0" r="2.1" fill="#f2b794"/>
<circle cx="410.1" cy="151.5" r="2.1" fill="#fbf5f0"/>
<circle cx="360.7" cy="164.2" r="2.1" fill="#dbe8f5"/>
<circle cx="353.8" cy="178.1" r="2.1" fill="#b0ccec"/>
<circle cx="423.7" cy="150.0" r="2.1" fill="#f9d9c1"/>
<circle cx="439.1" cy="147.4" r="2.1" fill="#e99773"/>
<circle cx="419.1" cy="157.4" r="2.1" fill="#fadec8"/>
<circle cx="358.2" cy="165.3" r="2.1" fill="#bbd3ee"/>
<circle cx="427.8" cy="119.7" r="2.1" fill="#f4be9d"/>
<circle cx="422.1" cy="130.7" r="2.1" fill="#f7d0b5"/>
<circle cx="414.5" cy="112.4" r="2.1" fill="#fcede1"/>
<circle cx="427.2" cy="178.6" r="2.1" fill="#f9d9c0"/>
<circle cx="458.4" cy="104.7" r="2.1" fill="#c9523f"/>
<circle cx="425.7" cy="103.3" r="2.1" fill="#f7cdb0"/>
<circle cx="434.4" cy="132.9" r="2.1" fill="#f0ac88"/>
<circle cx="418.4" cy="115.0" r="2.1" fill="#fcede0"/>
<circle cx="438.4" cy="164.5" r="2.1" fill="#e99773"/>
<circle cx="366.7" cy="159.4" r="2.1" fill="#e8f0f8"/>
<circle cx="420.2" cy="117.4" r="2.1" fill="#fadfcb"/>
<circle cx="447.1" cy="112.7" r="2.1" fill="#dc7559"/>
<circle cx="362.4" cy="180.0" r="2.1" fill="#cbdef2"/>
<circle cx="411.8" cy="135.6" r="2.1" fill="#fbeadd"/>
<circle cx="451.0" cy="145.1" r="2.1" fill="#d4654d"/>
<circle cx="446.6" cy="156.6" r="2.1" fill="#da7156"/>
<circle cx="399.9" cy="172.7" r="2.1" fill="#fbf6f1"/>
<circle cx="358.6" cy="168.7" r="2.1" fill="#b2ceec"/>
<circle cx="439.5" cy="72.0" r="2.1" fill="#e68e6c"/>
<circle cx="434.6" cy="101.9" r="2.1" fill="#f0ae8a"/>
<circle cx="385.9" cy="160.8" r="2.1" fill="#f7f9fa"/>
<circle cx="449.6" cy="148.8" r="2.1" fill="#d86b52"/>
<circle cx="372.0" cy="159.7" r="2.1" fill="#ecf2f8"/>
<circle cx="404.8" cy="166.6" r="2.1" fill="#fbf6f2"/>
<circle cx="428.5" cy="139.7" r="2.1" fill="#f4bf9e"/>
<circle cx="421.7" cy="127.1" r="2.1" fill="#f9dbc4"/>
<circle cx="413.7" cy="165.9" r="2.1" fill="#fcf0e7"/>
<circle cx="418.8" cy="178.1" r="2.1" fill="#fadec9"/>
<circle cx="378.3" cy="171.3" r="2.1" fill="#f2f6f9"/>
<circle cx="440.5" cy="134.0" r="2.1" fill="#e6906e"/>
<circle cx="371.0" cy="162.8" r="2.1" fill="#e9f0f8"/>
<circle cx="405.6" cy="149.2" r="2.1" fill="#fbf5f0"/>
<circle cx="377.4" cy="181.0" r="2.1" fill="#eff4f9"/>
<circle cx="423.4" cy="140.7" r="2.1" fill="#f8d7be"/>
<circle cx="439.0" cy="82.3" r="2.1" fill="#f0ad89"/>
<circle cx="406.0" cy="175.0" r="2.1" fill="#fbf7f3"/>
<circle cx="383.1" cy="159.4" r="2.1" fill="#f7f8fa"/>
<circle cx="424.0" cy="109.1" r="2.1" fill="#f8d6bd"/>
<circle cx="364.0" cy="182.2" r="2.1" fill="#e3ecf7"/>
<circle cx="425.3" cy="158.7" r="2.1" fill="#f7cfb3"/>
<circle cx="369.3" cy="158.2" r="2.1" fill="#eaf1f8"/>
<circle cx="413.4" cy="117.3" r="2.1" fill="#fcede1"/>
<circle cx="376.9" cy="178.0" r="2.1" fill="#f2f5f9"/>
<circle cx="432.9" cy="126.0" r="2.1" fill="#f4bf9e"/>
<circle cx="430.0" cy="147.9" r="2.1" fill="#f6c7a8"/>
<circle cx="345.7" cy="147.1" r="2.1" fill="#8eb0dd"/>
<circle cx="454.2" cy="84.2" r="2.1" fill="#d05f49"/>
<circle cx="367.5" cy="182.2" r="2.1" fill="#eef3f9"/>
<circle cx="425.9" cy="138.7" r="2.1" fill="#f7cfb3"/>
<circle cx="423.8" cy="177.9" r="2.1" fill="#f7cdb0"/>
<circle cx="453.9" cy="142.7" r="2.1" fill="#d66950"/>
<circle cx="441.0" cy="116.8" r="2.1" fill="#ec9e78"/>
<circle cx="443.4" cy="105.4" r="2.1" fill="#dd785b"/>
<circle cx="389.2" cy="166.6" r="2.1" fill="#f8f9fa"/>
<circle cx="452.6" cy="100.4" r="2.1" fill="#d76a51"/>
<circle cx="429.0" cy="128.4" r="2.1" fill="#f4be9c"/>
<circle cx="392.7" cy="171.9" r="2.1" fill="#fafafa"/>
<circle cx="434.2" cy="130.1" r="2.1" fill="#eea883"/>
<circle cx="371.0" cy="155.9" r="2.1" fill="#ecf2f8"/>
<circle cx="397.6" cy="182.5" r="2.1" fill="#faf8f6"/>
<circle cx="447.7" cy="145.9" r="2.1" fill="#db7257"/>
<circle cx="435.1" cy="106.9" r="2.1" fill="#eea883"/>
<circle cx="426.8" cy="77.3" r="2.1" fill="#f5c6a7"/>
<circle cx="463.6" cy="106.1" r="2.1" fill="#c24939"/>
<circle cx="398.2" cy="179.4" r="2.1" fill="#fafaf9"/>
<circle cx="467.2" cy="97.0" r="2.1" fill="#be4437"/>
<circle cx="375.6" cy="151.0" r="2.1" fill="#edf3f9"/>
<circle cx="432.8" cy="150.3" r="2.1" fill="#efaa85"/>
<circle cx="393.4" cy="176.4" r="2.1" fill="#f9fafa"/>
<circle cx="420.3" cy="150.0" r="2.1" fill="#f9d9c1"/>
<circle cx="424.1" cy="154.9" r="2.1" fill="#f8d3b9"/>
<circle cx="433.0" cy="141.0" r="2.1" fill="#efac87"/>
<circle cx="363.8" cy="166.9" r="2.1" fill="#dfeaf6"/>
<circle cx="386.1" cy="164.4" r="2.1" fill="#f8f9fa"/>
<circle cx="371.6" cy="169.4" r="2.1" fill="#eff4f9"/>
<circle cx="354.8" cy="149.6" r="2.1" fill="#a5c4e8"/>
<circle cx="403.8" cy="146.3" r="2.1" fill="#fbf5f0"/>
<circle cx="449.2" cy="122.9" r="2.1" fill="#de7a5d"/>
<circle cx="350.0" cy="144.6" r="2.1" fill="#a5c4e8"/>
<circle cx="355.2" cy="159.3" r="2.1" fill="#abc9eb"/>
<circle cx="413.4" cy="145.3" r="2.1" fill="#fbf4ed"/>
<circle cx="403.6" cy="161.1" r="2.1" fill="#fbf7f4"/>
<circle cx="453.9" cy="112.6" r="2.1" fill="#cd5a45"/>
<circle cx="424.5" cy="172.0" r="2.1" fill="#f9d8bf"/>
<circle cx="382.3" cy="173.1" r="2.1" fill="#f2f6f9"/>
<circle cx="447.2" cy="77.1" r="2.1" fill="#db7357"/>
<circle cx="408.6" cy="172.2" r="2.1" fill="#fcf0e6"/>
<circle cx="435.2" cy="167.1" r="2.1" fill="#f0ae8a"/>
<circle cx="424.5" cy="168.9" r="2.1" fill="#f8d4bb"/>
<circle cx="363.2" cy="157.4" r="2.1" fill="#bad3ee"/>
<circle cx="420.9" cy="172.2" r="2.1" fill="#fae4d2"/>
<circle cx="444.3" cy="128.4" r="2.1" fill="#e89370"/>
<circle cx="418.7" cy="137.0" r="2.1" fill="#fadec9"/>
<circle cx="468.2" cy="63.2" r="2.1" fill="#ba3f34"/>
<circle cx="420.8" cy="89.5" r="2.1" fill="#fadfcb"/>
<circle cx="439.2" cy="66.3" r="2.1" fill="#eda27c"/>
<circle cx="344.5" cy="141.3" r="2.1" fill="#a0c0e5"/>
<circle cx="454.5" cy="106.5" r="2.1" fill="#d2614a"/>
<circle cx="369.8" cy="176.7" r="2.1" fill="#e9f0f8"/>
<circle cx="457.0" cy="59.6" r="2.1" fill="#cb5642"/>
<circle cx="433.4" cy="156.4" r="2.1" fill="#f3ba97"/>
<circle cx="408.9" cy="137.6" r="2.1" fill="#fbf4ee"/>
<circle cx="425.2" cy="99.7" r="2.1" fill="#f7ceb1"/>
<circle cx="411.3" cy="115.2" r="2.1" fill="#fcefe5"/>
<circle cx="406.1" cy="182.1" r="2.1" fill="#fbf4ef"/>
<circle cx="462.7" cy="130.9" r="2.1" fill="#c7503e"/>
<circle cx="381.8" cy="140.9" r="2.1" fill="#f3f6f9"/>
<circle cx="407.2" cy="161.8" r="2.1" fill="#fcf1e9"/>
<circle cx="449.7" cy="142.6" r="2.1" fill="#dc7559"/>
<circle cx="363.9" cy="160.4" r="2.1" fill="#d8e6f5"/>
<circle cx="411.0" cy="166.4" r="2.1" fill="#fbf4ed"/>
<circle cx="417.4" cy="155.0" r="2.1" fill="#fae1ce"/>
<circle cx="433.0" cy="147.3" r="2.1" fill="#f3ba97"/>
<circle cx="422.4" cy="160.1" r="2.1" fill="#f9ddc6"/>
<circle cx="466.2" cy="115.5" r="2.1" fill="#c04638"/>
<circle cx="435.6" cy="144.2" r="2.1" fill="#efab87"/>
<circle cx="429.6" cy="169.4" r="2.1" fill="#f3ba98"/>
<circle cx="351.1" cy="151.7" r="2.1" fill="#9fbee5"/>
<circle cx="428.1" cy="113.1" r="2.1" fill="#f5c3a3"/>
<circle cx="405.1" cy="163.6" r="2.1" fill="#fbf6f2"/>
<circle cx="350.7" cy="178.5" r="2.1" fill="#a1c1e6"/>
<circle cx="418.6" cy="105.7" r="2.1" fill="#fae5d3"/>
<circle cx="359.7" cy="180.8" r="2.1" fill="#c4d9f0"/>
<circle cx="366.3" cy="162.1" r="2.1" fill="#e1ebf7"/>
<circle cx="443.1" cy="110.5" r="2.1" fill="#e58e6b"/>
<circle cx="422.9" cy="122.5" r="2.1" fill="#f8d5bc"/>
<circle cx="429.0" cy="135.8" r="2.1" fill="#f5c6a7"/>
<circle cx="409.9" cy="143.4" r="2.1" fill="#fae1cd"/>
<circle cx="480.4" cy="68.7" r="2.1" fill="#8f2027"/>
<circle cx="426.4" cy="129.6" r="2.1" fill="#f7cdb1"/>
<circle cx="405.2" cy="172.2" r="2.1" fill="#fbf5ef"/>
<circle cx="448.0" cy="128.6" r="2.1" fill="#d97055"/>
<circle cx="417.9" cy="180.9" r="2.1" fill="#fae0cc"/>
<circle cx="373.0" cy="180.3" r="2.1" fill="#e8f0f8"/>
<circle cx="441.0" cy="121.5" r="2.1" fill="#e38766"/>
<circle cx="410.5" cy="159.5" r="2.1" fill="#fbebde"/>
<circle cx="399.6" cy="166.3" r="2.1" fill="#fafafa"/>
<circle cx="453.8" cy="68.9" r="2.1" fill="#d3644c"/>
<circle cx="427.4" cy="165.9" r="2.1" fill="#f4c09f"/>
<circle cx="431.2" cy="177.0" r="2.1" fill="#f4bd9b"/>
<circle cx="415.3" cy="163.4" r="2.1" fill="#fbe9da"/>
<circle cx="378.7" cy="158.6" r="2.1" fill="#f6f8fa"/>
<circle cx="462.7" cy="93.6" r="2.1" fill="#c8513e"/>
<circle cx="390.1" cy="156.8" r="2.1" fill="#fafafa"/>
<circle cx="433.9" cy="113.7" r="2.1" fill="#f1b18e"/>
<circle cx="456.4" cy="133.1" r="2.1" fill="#cf5c47"/>
<circle cx="446.7" cy="124.2" r="2.1" fill="#e07f60"/>
<circle cx="374.7" cy="175.8" r="2.1" fill="#f1f5f9"/>
<circle cx="408.0" cy="168.6" r="2.1" fill="#fbf3ec"/>
<circle cx="381.6" cy="138.2" r="2.1" fill="#f5f7fa"/>
<circle cx="339.1" cy="136.3" r="2.1" fill="#7b9cd0"/>
<circle cx="432.7" cy="72.2" r="2.1" fill="#efa985"/>
<circle cx="385.3" cy="155.5" r="2.1" fill="#f4f7fa"/>
<circle cx="442.3" cy="144.0" r="2.1" fill="#ea9874"/>
<circle cx="373.3" cy="154.4" r="2.1" fill="#ebf1f8"/>
<circle cx="421.0" cy="142.4" r="2.1" fill="#f7d1b6"/>
<circle cx="411.2" cy="125.4" r="2.1" fill="#fcf0e6"/>
<circle cx="455.0" cy="91.9" r="2.1" fill="#d3644c"/>
</g>
<g stroke="#222" stroke-width="1.0">
<circle cx="339.2" cy="137.3" r="2.1" fill="#5b80c0"/>
<circle cx="342.7" cy="144.2" r="2.1" fill="#6389c6"/>
<circle cx="349.6" cy="144.2" r="2.1" fill="#6a8fca"/>
<circle cx="353.0" cy="145.0" r="2.1" fill="#6e93cc"/>
<circle cx="356.5" cy="147.7" r="2.1" fill="#7599cf"/>
<circle cx="346.0" cy="150.7" r="2.1" fill="#6a8fca"/>
<circle cx="349.6" cy="150.7" r="2.1" fill="#6e93cc"/>
<circle cx="354.2" cy="155.8" r="2.1" fill="#7a9ed2"/>
<circle cx="359.5" cy="158.0" r="2.1" fill="#84a6d6"/>
<circle cx="356.5" cy="161.5" r="2.1" fill="#7fa2d4"/>
<circle cx="349.5" cy="177.0" r="2.1" fill="#7092c8"/>
<circle cx="355.5" cy="181.7" r="2.1" fill="#86a8d6"/>
<circle cx="360.5" cy="180.0" r="2.1" fill="#8aaad8"/>
<circle cx="366.2" cy="180.5" r="2.1" fill="#9dbce0"/>
<circle cx="370.7" cy="181.2" r="2.1" fill="#a9c6e4"/>
<circle cx="315.7" cy="39.9" r="2.1" fill="#283369"/>
<circle cx="345.8" cy="85.4" r="2.1" fill="#7a9ed2"/>
<circle cx="320.8" cy="97.0" r="2.1" fill="#2b3a78"/>
<circle cx="340.4" cy="107.8" r="2.1" fill="#6d91ca"/>
<circle cx="379.2" cy="110.3" r="2.1" fill="#f6f8fa"/>
<circle cx="387.7" cy="112.6" r="2.1" fill="#f6f8fa"/>
<circle cx="384.2" cy="118.8" r="2.1" fill="#f6f8fa"/>
<circle cx="385.4" cy="126.9" r="2.1" fill="#f6f8fa"/>
<circle cx="358.8" cy="130.0" r="2.1" fill="#9cc0e4"/>
<circle cx="382.5" cy="133.5" r="2.1" fill="#f4f7fa"/>
<circle cx="388.0" cy="136.0" r="2.1" fill="#f4f7fa"/>
<circle cx="374.0" cy="137.0" r="2.1" fill="#eef4fa"/>
<circle cx="462.4" cy="27.3" r="2.1" fill="#c8483c"/>
<circle cx="490.0" cy="27.3" r="2.1" fill="#6a1420"/>
<circle cx="483.1" cy="29.9" r="2.1" fill="#7a1a22"/>
<circle cx="485.7" cy="33.0" r="2.1" fill="#6a1420"/>
<circle cx="466.7" cy="38.2" r="2.1" fill="#b43a34"/>
<circle cx="452.9" cy="45.8" r="2.1" fill="#e08060"/>
<circle cx="475.0" cy="42.4" r="2.1" fill="#7a1a24"/>
<circle cx="479.7" cy="46.7" r="2.1" fill="#8a2028"/>
<circle cx="465.8" cy="52.9" r="2.1" fill="#b03630"/>
<circle cx="470.2" cy="52.9" r="2.1" fill="#b03630"/>
<circle cx="458.0" cy="55.8" r="2.1" fill="#c8503e"/>
<circle cx="460.0" cy="60.5" r="2.1" fill="#b84034"/>
<circle cx="468.0" cy="60.0" r="2.1" fill="#b03a30"/>
<circle cx="479.7" cy="56.4" r="2.1" fill="#5a1018"/>
<circle cx="482.0" cy="59.3" r="2.1" fill="#6a1420"/>
<circle cx="466.5" cy="46.0" r="2.1" fill="#a83030"/>
<circle cx="472.0" cy="40.0" r="2.1" fill="#9a2830"/>
<circle cx="455.0" cy="170.0" r="2.1" fill="#d46a4c"/>
<circle cx="442.5" cy="162.0" r="2.1" fill="#e0845e"/>
<circle cx="454.5" cy="178.0" r="2.1" fill="#d8704e"/>
</g>
<path d="M293 19.8 V188.8 H498.8" fill="none" stroke="#1a1a1a" stroke-width="1.1"/>
<line x1="290.4" y1="182.30" x2="293" y2="182.30" stroke="#1a1a1a" stroke-width="0.9"/>
<text x="288.40" y="185.15" font-size="8.0" text-anchor="end" fill="#111" stroke="#111" stroke-width="0.28">0</text>
<line x1="290.4" y1="150.70" x2="293" y2="150.70" stroke="#1a1a1a" stroke-width="0.9"/>
<text x="288.40" y="153.55" font-size="8.0" text-anchor="end" fill="#111" stroke="#111" stroke-width="0.28">5</text>
<line x1="290.4" y1="119.10" x2="293" y2="119.10" stroke="#1a1a1a" stroke-width="0.9"/>
<text x="288.40" y="121.95" font-size="8.0" text-anchor="end" fill="#111" stroke="#111" stroke-width="0.28">10</text>
<line x1="290.4" y1="87.50" x2="293" y2="87.50" stroke="#1a1a1a" stroke-width="0.9"/>
<text x="288.40" y="90.35" font-size="8.0" text-anchor="end" fill="#111" stroke="#111" stroke-width="0.28">15</text>
<line x1="290.4" y1="55.90" x2="293" y2="55.90" stroke="#1a1a1a" stroke-width="0.9"/>
<text x="288.40" y="58.75" font-size="8.0" text-anchor="end" fill="#111" stroke="#111" stroke-width="0.28">20</text>
<line x1="290.4" y1="24.30" x2="293" y2="24.30" stroke="#1a1a1a" stroke-width="0.9"/>
<text x="288.40" y="27.15" font-size="8.0" text-anchor="end" fill="#111" stroke="#111" stroke-width="0.28">25</text>
<line x1="342.50" y1="188.8" x2="342.50" y2="191.4" stroke="#1a1a1a" stroke-width="0.9"/>
<text x="342.50" y="201.60" font-size="8.0" text-anchor="middle" fill="#111" stroke="#111" stroke-width="0.28">−3</text>
<line x1="395.75" y1="188.8" x2="395.75" y2="191.4" stroke="#1a1a1a" stroke-width="0.9"/>
<text x="395.75" y="201.60" font-size="8.0" text-anchor="middle" fill="#111" stroke="#111" stroke-width="0.28">0</text>
<line x1="449.00" y1="188.8" x2="449.00" y2="191.4" stroke="#1a1a1a" stroke-width="0.9"/>
<text x="449.00" y="201.60" font-size="8.0" text-anchor="middle" fill="#111" stroke="#111" stroke-width="0.28">3</text>
<text x="396.20" y="215.20" font-size="8.2" text-anchor="middle" textLength="50.0" lengthAdjust="spacingAndGlyphs" fill="#111" stroke="#111" stroke-width="0.3">Log2 fold change</text>
<text transform="translate(273.8,105.5) rotate(-90)" x="0" y="0" font-size="8.2" text-anchor="middle" textLength="72.5" lengthAdjust="spacingAndGlyphs" fill="#111" stroke="#111" stroke-width="0.3">−Log10 adjusted P-value</text>
<text x="309.80" y="47.37" font-size="5.4" textLength="16.9" lengthAdjust="spacingAndGlyphs" fill="#222" stroke="#222" stroke-width="0.189">SNX32</text>
<text x="338.00" y="92.97" font-size="5.4" textLength="15.8" lengthAdjust="spacingAndGlyphs" fill="#222" stroke="#222" stroke-width="0.189">JSRP1</text>
<text x="314.50" y="93.97" font-size="5.4" textLength="16.9" lengthAdjust="spacingAndGlyphs" fill="#222" stroke="#222" stroke-width="0.189">TLDC2</text>
<text x="331.20" y="115.47" font-size="5.4" textLength="20.7" lengthAdjust="spacingAndGlyphs" fill="#222" stroke="#222" stroke-width="0.189">SH3D19</text>
<text x="370.40" y="106.97" font-size="5.4" textLength="17.3" lengthAdjust="spacingAndGlyphs" fill="#222" stroke="#222" stroke-width="0.189">RPS25</text>
<text x="388.80" y="117.77" font-size="5.4" textLength="9.2" lengthAdjust="spacingAndGlyphs" fill="#222" stroke="#222" stroke-width="0.189">PAF1</text>
<text x="364.20" y="124.27" font-size="5.4" textLength="17.8" lengthAdjust="spacingAndGlyphs" fill="#222" stroke="#222" stroke-width="0.189">SP140L</text>
<text x="386.50" y="126.97" font-size="5.4" textLength="10.5" lengthAdjust="spacingAndGlyphs" fill="#222" stroke="#222" stroke-width="0.189">HK1</text>
<text x="368.80" y="131.97" font-size="5.4" textLength="13.2" lengthAdjust="spacingAndGlyphs" fill="#222" stroke="#222" stroke-width="0.189">RPS24</text>
<text x="346.00" y="135.77" font-size="5.4" textLength="17.5" lengthAdjust="spacingAndGlyphs" fill="#222" stroke="#222" stroke-width="0.189">SNX22</text>
<text x="363.50" y="139.27" font-size="5.4" textLength="18.5" lengthAdjust="spacingAndGlyphs" fill="#222" stroke="#222" stroke-width="0.189">TYW1B</text>
<text x="386.50" y="141.17" font-size="5.4" textLength="12.7" lengthAdjust="spacingAndGlyphs" fill="#222" stroke="#222" stroke-width="0.189">STX18</text>
<text x="441.10" y="25.77" font-size="5.4" textLength="30.8" lengthAdjust="spacingAndGlyphs" fill="#222" stroke="#222" stroke-width="0.189">TNFRSF10C</text>
<text x="475.00" y="25.77" font-size="5.4" textLength="22.0" lengthAdjust="spacingAndGlyphs" fill="#222" stroke="#222" stroke-width="0.189">FCGR3B</text>
<text x="469.00" y="31.47" font-size="5.4" textLength="12.4" lengthAdjust="spacingAndGlyphs" fill="#222" stroke="#222" stroke-width="0.189">MME</text>
<text x="483.00" y="38.27" font-size="5.4" textLength="17.4" lengthAdjust="spacingAndGlyphs" fill="#222" stroke="#222" stroke-width="0.189">CHI3L1</text>
<text x="449.80" y="36.57" font-size="5.4" textLength="16.9" lengthAdjust="spacingAndGlyphs" fill="#222" stroke="#222" stroke-width="0.189">CXCL1</text>
<text x="468.40" y="41.37" font-size="5.4" textLength="17.0" lengthAdjust="spacingAndGlyphs" fill="#222" stroke="#222" stroke-width="0.189">CXCR2</text>
<text x="430.90" y="45.17" font-size="5.4" textLength="21.1" lengthAdjust="spacingAndGlyphs" fill="#222" stroke="#222" stroke-width="0.189">ASPRV1</text>
<text x="452.90" y="43.97" font-size="5.4" textLength="15.5" lengthAdjust="spacingAndGlyphs" fill="#222" stroke="#222" stroke-width="0.189">AOC3</text>
<text x="481.40" y="45.17" font-size="5.4" textLength="16.5" lengthAdjust="spacingAndGlyphs" fill="#222" stroke="#222" stroke-width="0.189">EPHB1</text>
<text x="454.60" y="50.37" font-size="5.4" textLength="15.6" lengthAdjust="spacingAndGlyphs" fill="#222" stroke="#222" stroke-width="0.189">BAIAP3</text>
<text x="471.90" y="52.07" font-size="5.4" textLength="29.4" lengthAdjust="spacingAndGlyphs" fill="#222" stroke="#222" stroke-width="0.189">PHOSPHO1</text>
<text x="467.60" y="58.37" font-size="5.4" textLength="10.4" lengthAdjust="spacingAndGlyphs" fill="#222" stroke="#222" stroke-width="0.189">PLIN4</text>
<defs><linearGradient id="cbgrad" x1="0" y1="0" x2="0" y2="1"><stop offset="0.000" stop-color="#4e101c"/><stop offset="0.115" stop-color="#a02a2e"/><stop offset="0.208" stop-color="#c86250"/><stop offset="0.301" stop-color="#e69e7e"/><stop offset="0.393" stop-color="#f6d4c3"/><stop offset="0.486" stop-color="#f6f6f6"/><stop offset="0.579" stop-color="#ccd8e9"/><stop offset="0.672" stop-color="#9eb2d4"/><stop offset="0.764" stop-color="#748cbe"/><stop offset="0.857" stop-color="#5268a0"/><stop offset="1.000" stop-color="#262c5c"/></linearGradient></defs>
<text x="6.80" y="243.20" font-size="11" font-weight="bold" fill="#111">C</text>
<g shape-rendering="crispEdges">
<rect x="35.50" y="268.00" width="6.89" height="5.47" fill="#cc6953"/>
<rect x="42.09" y="268.00" width="6.89" height="5.47" fill="#f4c8ae"/>
<rect x="48.69" y="268.00" width="6.89" height="5.47" fill="#df8e6e"/>
<rect x="55.28" y="268.00" width="6.89" height="5.47" fill="#d98265"/>
<rect x="61.88" y="268.00" width="6.89" height="5.47" fill="#d98265"/>
<rect x="68.47" y="268.00" width="6.89" height="5.47" fill="#d3765c"/>
<rect x="75.07" y="268.00" width="6.89" height="5.47" fill="#f7dbc9"/>
<rect x="81.66" y="268.00" width="6.89" height="5.47" fill="#f2bea0"/>
<rect x="88.26" y="268.00" width="6.89" height="5.47" fill="#f6f6f6"/>
<rect x="94.85" y="268.00" width="6.89" height="5.47" fill="#cc6953"/>
<rect x="101.45" y="268.00" width="6.89" height="5.47" fill="#b8493f"/>
<rect x="108.05" y="268.00" width="6.89" height="5.47" fill="#b2c8dc"/>
<rect x="114.64" y="268.00" width="6.89" height="5.47" fill="#b2c8dc"/>
<rect x="121.23" y="268.00" width="6.89" height="5.47" fill="#bfd1e2"/>
<rect x="127.83" y="268.00" width="6.89" height="5.47" fill="#a6bed6"/>
<rect x="134.43" y="268.00" width="6.89" height="5.47" fill="#a6bed6"/>
<rect x="141.02" y="268.00" width="6.89" height="5.47" fill="#d9e4ee"/>
<rect x="147.62" y="268.00" width="6.89" height="5.47" fill="#bfd1e2"/>
<rect x="154.21" y="268.00" width="6.89" height="5.47" fill="#9ab4d0"/>
<rect x="160.81" y="268.00" width="6.89" height="5.47" fill="#bfd1e2"/>
<rect x="167.40" y="268.00" width="6.89" height="5.47" fill="#bfd1e2"/>
<rect x="174.00" y="268.00" width="6.89" height="5.47" fill="#d9e4ee"/>
<rect x="180.59" y="268.00" width="6.89" height="5.47" fill="#b2c8dc"/>
<rect x="187.19" y="268.00" width="6.89" height="5.47" fill="#d9e4ee"/>
<rect x="35.50" y="273.17" width="6.89" height="5.47" fill="#d98265"/>
<rect x="42.09" y="273.17" width="6.89" height="5.47" fill="#f2bea0"/>
<rect x="48.69" y="273.17" width="6.89" height="5.47" fill="#df8e6e"/>
<rect x="55.28" y="273.17" width="6.89" height="5.47" fill="#cc6953"/>
<rect x="61.88" y="273.17" width="6.89" height="5.47" fill="#d98265"/>
<rect x="68.47" y="273.17" width="6.89" height="5.47" fill="#d3765c"/>
<rect x="75.07" y="273.17" width="6.89" height="5.47" fill="#f7ede6"/>
<rect x="81.66" y="273.17" width="6.89" height="5.47" fill="#f8e4d6"/>
<rect x="88.26" y="273.17" width="6.89" height="5.47" fill="#f8e4d6"/>
<rect x="94.85" y="273.17" width="6.89" height="5.47" fill="#cc6953"/>
<rect x="101.45" y="273.17" width="6.89" height="5.47" fill="#c45d4b"/>
<rect x="108.05" y="273.17" width="6.89" height="5.47" fill="#bfd1e2"/>
<rect x="114.64" y="273.17" width="6.89" height="5.47" fill="#b2c8dc"/>
<rect x="121.23" y="273.17" width="6.89" height="5.47" fill="#bfd1e2"/>
<rect x="127.83" y="273.17" width="6.89" height="5.47" fill="#bfd1e2"/>
<rect x="134.43" y="273.17" width="6.89" height="5.47" fill="#bfd1e2"/>
<rect x="141.02" y="273.17" width="6.89" height="5.47" fill="#bfd1e2"/>
<rect x="147.62" y="273.17" width="6.89" height="5.47" fill="#bfd1e2"/>
<rect x="154.21" y="273.17" width="6.89" height="5.47" fill="#bfd1e2"/>
<rect x="160.81" y="273.17" width="6.89" height="5.47" fill="#bfd1e2"/>
<rect x="167.40" y="273.17" width="6.89" height="5.47" fill="#b2c8dc"/>
<rect x="174.00" y="273.17" width="6.89" height="5.47" fill="#bfd1e2"/>
<rect x="180.59" y="273.17" width="6.89" height="5.47" fill="#bfd1e2"/>
<rect x="187.19" y="273.17" width="6.89" height="5.47" fill="#ccdae8"/>
<rect x="35.50" y="278.33" width="6.89" height="5.47" fill="#e49979"/>
<rect x="42.09" y="278.33" width="6.89" height="5.47" fill="#f2bea0"/>
<rect x="48.69" y="278.33" width="6.89" height="5.47" fill="#e9a484"/>
<rect x="55.28" y="278.33" width="6.89" height="5.47" fill="#cc6953"/>
<rect x="61.88" y="278.33" width="6.89" height="5.47" fill="#d98265"/>
<rect x="68.47" y="278.33" width="6.89" height="5.47" fill="#d98265"/>
<rect x="75.07" y="278.33" width="6.89" height="5.47" fill="#f8e4d6"/>
<rect x="81.66" y="278.33" width="6.89" height="5.47" fill="#f2bea0"/>
<rect x="88.26" y="278.33" width="6.89" height="5.47" fill="#f7dbc9"/>
<rect x="94.85" y="278.33" width="6.89" height="5.47" fill="#d3765c"/>
<rect x="101.45" y="278.33" width="6.89" height="5.47" fill="#cc6953"/>
<rect x="108.05" y="278.33" width="6.89" height="5.47" fill="#f6f6f6"/>
<rect x="114.64" y="278.33" width="6.89" height="5.47" fill="#9ab4d0"/>
<rect x="121.23" y="278.33" width="6.89" height="5.47" fill="#bfd1e2"/>
<rect x="127.83" y="278.33" width="6.89" height="5.47" fill="#bfd1e2"/>
<rect x="134.43" y="278.33" width="6.89" height="5.47" fill="#bfd1e2"/>
<rect x="141.02" y="278.33" width="6.89" height="5.47" fill="#ccdae8"/>
<rect x="147.62" y="278.33" width="6.89" height="5.47" fill="#f6f2ee"/>
<rect x="154.21" y="278.33" width="6.89" height="5.47" fill="#8ea9cb"/>
<rect x="160.81" y="278.33" width="6.89" height="5.47" fill="#8ea9cb"/>
<rect x="167.40" y="278.33" width="6.89" height="5.47" fill="#bfd1e2"/>
<rect x="174.00" y="278.33" width="6.89" height="5.47" fill="#d9e4ee"/>
<rect x="180.59" y="278.33" width="6.89" height="5.47" fill="#8ea9cb"/>
<rect x="187.19" y="278.33" width="6.89" height="5.47" fill="#b2c8dc"/>
<rect x="35.50" y="283.50" width="6.89" height="5.47" fill="#f6d2bc"/>
<rect x="42.09" y="283.50" width="6.89" height="5.47" fill="#f7dbc9"/>
<rect x="48.69" y="283.50" width="6.89" height="5.47" fill="#eeb192"/>
<rect x="55.28" y="283.50" width="6.89" height="5.47" fill="#df8e6e"/>
<rect x="61.88" y="283.50" width="6.89" height="5.47" fill="#f2bea0"/>
<rect x="68.47" y="283.50" width="6.89" height="5.47" fill="#f7dbc9"/>
<rect x="75.07" y="283.50" width="6.89" height="5.47" fill="#e9a484"/>
<rect x="81.66" y="283.50" width="6.89" height="5.47" fill="#e49979"/>
<rect x="88.26" y="283.50" width="6.89" height="5.47" fill="#e49979"/>
<rect x="94.85" y="283.50" width="6.89" height="5.47" fill="#e9a484"/>
<rect x="101.45" y="283.50" width="6.89" height="5.47" fill="#f2bea0"/>
<rect x="108.05" y="283.50" width="6.89" height="5.47" fill="#df8e6e"/>
<rect x="114.64" y="283.50" width="6.89" height="5.47" fill="#e8edf2"/>
<rect x="121.23" y="283.50" width="6.89" height="5.47" fill="#bfd1e2"/>
<rect x="127.83" y="283.50" width="6.89" height="5.47" fill="#bfd1e2"/>
<rect x="134.43" y="283.50" width="6.89" height="5.47" fill="#a6bed6"/>
<rect x="141.02" y="283.50" width="6.89" height="5.47" fill="#a6bed6"/>
<rect x="147.62" y="283.50" width="6.89" height="5.47" fill="#f6f2ee"/>
<rect x="154.21" y="283.50" width="6.89" height="5.47" fill="#bfd1e2"/>
<rect x="160.81" y="283.50" width="6.89" height="5.47" fill="#9ab4d0"/>
<rect x="167.40" y="283.50" width="6.89" height="5.47" fill="#bfd1e2"/>
<rect x="174.00" y="283.50" width="6.89" height="5.47" fill="#e8edf2"/>
<rect x="180.59" y="283.50" width="6.89" height="5.47" fill="#e8edf2"/>
<rect x="187.19" y="283.50" width="6.89" height="5.47" fill="#354077"/>
<rect x="35.50" y="288.67" width="6.89" height="5.47" fill="#f6d2bc"/>
<rect x="42.09" y="288.67" width="6.89" height="5.47" fill="#f7dbc9"/>
<rect x="48.69" y="288.67" width="6.89" height="5.47" fill="#eeb192"/>
<rect x="55.28" y="288.67" width="6.89" height="5.47" fill="#d3765c"/>
<rect x="61.88" y="288.67" width="6.89" height="5.47" fill="#e9a484"/>
<rect x="68.47" y="288.67" width="6.89" height="5.47" fill="#e9a484"/>
<rect x="75.07" y="288.67" width="6.89" height="5.47" fill="#f2bea0"/>
<rect x="81.66" y="288.67" width="6.89" height="5.47" fill="#df8e6e"/>
<rect x="88.26" y="288.67" width="6.89" height="5.47" fill="#cc6953"/>
<rect x="94.85" y="288.67" width="6.89" height="5.47" fill="#eeb192"/>
<rect x="101.45" y="288.67" width="6.89" height="5.47" fill="#eeb192"/>
<rect x="108.05" y="288.67" width="6.89" height="5.47" fill="#f6d2bc"/>
<rect x="114.64" y="288.67" width="6.89" height="5.47" fill="#b2c8dc"/>
<rect x="121.23" y="288.67" width="6.89" height="5.47" fill="#bfd1e2"/>
<rect x="127.83" y="288.67" width="6.89" height="5.47" fill="#d9e4ee"/>
<rect x="134.43" y="288.67" width="6.89" height="5.47" fill="#b2c8dc"/>
<rect x="141.02" y="288.67" width="6.89" height="5.47" fill="#b2c8dc"/>
<rect x="147.62" y="288.67" width="6.89" height="5.47" fill="#f6f2ee"/>
<rect x="154.21" y="288.67" width="6.89" height="5.47" fill="#bfd1e2"/>
<rect x="160.81" y="288.67" width="6.89" height="5.47" fill="#728cbb"/>
<rect x="167.40" y="288.67" width="6.89" height="5.47" fill="#b2c8dc"/>
<rect x="174.00" y="288.67" width="6.89" height="5.47" fill="#ccdae8"/>
<rect x="180.59" y="288.67" width="6.89" height="5.47" fill="#bfd1e2"/>
<rect x="187.19" y="288.67" width="6.89" height="5.47" fill="#849ec6"/>
<rect x="35.50" y="293.83" width="6.89" height="5.47" fill="#e49979"/>
<rect x="42.09" y="293.83" width="6.89" height="5.47" fill="#c45d4b"/>
<rect x="48.69" y="293.83" width="6.89" height="5.47" fill="#d3765c"/>
<rect x="55.28" y="293.83" width="6.89" height="5.47" fill="#f2bea0"/>
<rect x="61.88" y="293.83" width="6.89" height="5.47" fill="#f4c8ae"/>
<rect x="68.47" y="293.83" width="6.89" height="5.47" fill="#f6d2bc"/>
<rect x="75.07" y="293.83" width="6.89" height="5.47" fill="#f6d2bc"/>
<rect x="81.66" y="293.83" width="6.89" height="5.47" fill="#f6d2bc"/>
<rect x="88.26" y="293.83" width="6.89" height="5.47" fill="#f2bea0"/>
<rect x="94.85" y="293.83" width="6.89" height="5.47" fill="#d98265"/>
<rect x="101.45" y="293.83" width="6.89" height="5.47" fill="#df8e6e"/>
<rect x="108.05" y="293.83" width="6.89" height="5.47" fill="#f4c8ae"/>
<rect x="114.64" y="293.83" width="6.89" height="5.47" fill="#e8edf2"/>
<rect x="121.23" y="293.83" width="6.89" height="5.47" fill="#d9e4ee"/>
<rect x="127.83" y="293.83" width="6.89" height="5.47" fill="#8ea9cb"/>
<rect x="134.43" y="293.83" width="6.89" height="5.47" fill="#8ea9cb"/>
<rect x="141.02" y="293.83" width="6.89" height="5.47" fill="#f7ede6"/>
<rect x="147.62" y="293.83" width="6.89" height="5.47" fill="#ccdae8"/>
<rect x="154.21" y="293.83" width="6.89" height="5.47" fill="#bfd1e2"/>
<rect x="160.81" y="293.83" width="6.89" height="5.47" fill="#ccdae8"/>
<rect x="167.40" y="293.83" width="6.89" height="5.47" fill="#d9e4ee"/>
<rect x="174.00" y="293.83" width="6.89" height="5.47" fill="#627cb0"/>
<rect x="180.59" y="293.83" width="6.89" height="5.47" fill="#b2c8dc"/>
<rect x="187.19" y="293.83" width="6.89" height="5.47" fill="#9ab4d0"/>
<rect x="35.50" y="299.00" width="6.89" height="5.47" fill="#f7ede6"/>
<rect x="42.09" y="299.00" width="6.89" height="5.47" fill="#f7dbc9"/>
<rect x="48.69" y="299.00" width="6.89" height="5.47" fill="#d98265"/>
<rect x="55.28" y="299.00" width="6.89" height="5.47" fill="#d3765c"/>
<rect x="61.88" y="299.00" width="6.89" height="5.47" fill="#e9a484"/>
<rect x="68.47" y="299.00" width="6.89" height="5.47" fill="#f8e4d6"/>
<rect x="75.07" y="299.00" width="6.89" height="5.47" fill="#eeb192"/>
<rect x="81.66" y="299.00" width="6.89" height="5.47" fill="#f4c8ae"/>
<rect x="88.26" y="299.00" width="6.89" height="5.47" fill="#e9a484"/>
<rect x="94.85" y="299.00" width="6.89" height="5.47" fill="#a33332"/>
<rect x="101.45" y="299.00" width="6.89" height="5.47" fill="#df8e6e"/>
<rect x="108.05" y="299.00" width="6.89" height="5.47" fill="#f7ede6"/>
<rect x="114.64" y="299.00" width="6.89" height="5.47" fill="#ccdae8"/>
<rect x="121.23" y="299.00" width="6.89" height="5.47" fill="#8ea9cb"/>
<rect x="127.83" y="299.00" width="6.89" height="5.47" fill="#bfd1e2"/>
<rect x="134.43" y="299.00" width="6.89" height="5.47" fill="#d9e4ee"/>
<rect x="141.02" y="299.00" width="6.89" height="5.47" fill="#d9e4ee"/>
<rect x="147.62" y="299.00" width="6.89" height="5.47" fill="#f6f6f6"/>
<rect x="154.21" y="299.00" width="6.89" height="5.47" fill="#e8edf2"/>
<rect x="160.81" y="299.00" width="6.89" height="5.47" fill="#bfd1e2"/>
<rect x="167.40" y="299.00" width="6.89" height="5.47" fill="#a6bed6"/>
<rect x="174.00" y="299.00" width="6.89" height="5.47" fill="#849ec6"/>
<rect x="180.59" y="299.00" width="6.89" height="5.47" fill="#b2c8dc"/>
<rect x="187.19" y="299.00" width="6.89" height="5.47" fill="#9ab4d0"/>
<rect x="35.50" y="304.17" width="6.89" height="5.47" fill="#f6d2bc"/>
<rect x="42.09" y="304.17" width="6.89" height="5.47" fill="#f6d2bc"/>
<rect x="48.69" y="304.17" width="6.89" height="5.47" fill="#f4c8ae"/>
<rect x="55.28" y="304.17" width="6.89" height="5.47" fill="#eeb192"/>
<rect x="61.88" y="304.17" width="6.89" height="5.47" fill="#f2bea0"/>
<rect x="68.47" y="304.17" width="6.89" height="5.47" fill="#f2bea0"/>
<rect x="75.07" y="304.17" width="6.89" height="5.47" fill="#e49979"/>
<rect x="81.66" y="304.17" width="6.89" height="5.47" fill="#e49979"/>
<rect x="88.26" y="304.17" width="6.89" height="5.47" fill="#eeb192"/>
<rect x="94.85" y="304.17" width="6.89" height="5.47" fill="#e49979"/>
<rect x="101.45" y="304.17" width="6.89" height="5.47" fill="#d3765c"/>
<rect x="108.05" y="304.17" width="6.89" height="5.47" fill="#e9a484"/>
<rect x="114.64" y="304.17" width="6.89" height="5.47" fill="#f6f6f6"/>
<rect x="121.23" y="304.17" width="6.89" height="5.47" fill="#ccdae8"/>
<rect x="127.83" y="304.17" width="6.89" height="5.47" fill="#bfd1e2"/>
<rect x="134.43" y="304.17" width="6.89" height="5.47" fill="#9ab4d0"/>
<rect x="141.02" y="304.17" width="6.89" height="5.47" fill="#849ec6"/>
<rect x="147.62" y="304.17" width="6.89" height="5.47" fill="#d9e4ee"/>
<rect x="154.21" y="304.17" width="6.89" height="5.47" fill="#e8edf2"/>
<rect x="160.81" y="304.17" width="6.89" height="5.47" fill="#8ea9cb"/>
<rect x="167.40" y="304.17" width="6.89" height="5.47" fill="#d9e4ee"/>
<rect x="174.00" y="304.17" width="6.89" height="5.47" fill="#a6bed6"/>
<rect x="180.59" y="304.17" width="6.89" height="5.47" fill="#8ea9cb"/>
<rect x="187.19" y="304.17" width="6.89" height="5.47" fill="#ccdae8"/>
<rect x="35.50" y="309.34" width="6.89" height="5.47" fill="#f7ede6"/>
<rect x="42.09" y="309.34" width="6.89" height="5.47" fill="#f7ede6"/>
<rect x="48.69" y="309.34" width="6.89" height="5.47" fill="#e49979"/>
<rect x="55.28" y="309.34" width="6.89" height="5.47" fill="#c45d4b"/>
<rect x="61.88" y="309.34" width="6.89" height="5.47" fill="#e49979"/>
<rect x="68.47" y="309.34" width="6.89" height="5.47" fill="#f4c8ae"/>
<rect x="75.07" y="309.34" width="6.89" height="5.47" fill="#e49979"/>
<rect x="81.66" y="309.34" width="6.89" height="5.47" fill="#e49979"/>
<rect x="88.26" y="309.34" width="6.89" height="5.47" fill="#df8e6e"/>
<rect x="94.85" y="309.34" width="6.89" height="5.47" fill="#df8e6e"/>
<rect x="101.45" y="309.34" width="6.89" height="5.47" fill="#f8e4d6"/>
<rect x="108.05" y="309.34" width="6.89" height="5.47" fill="#d3765c"/>
<rect x="114.64" y="309.34" width="6.89" height="5.47" fill="#d9e4ee"/>
<rect x="121.23" y="309.34" width="6.89" height="5.47" fill="#e8edf2"/>
<rect x="127.83" y="309.34" width="6.89" height="5.47" fill="#a6bed6"/>
<rect x="134.43" y="309.34" width="6.89" height="5.47" fill="#9ab4d0"/>
<rect x="141.02" y="309.34" width="6.89" height="5.47" fill="#728cbb"/>
<rect x="147.62" y="309.34" width="6.89" height="5.47" fill="#f6f6f6"/>
<rect x="154.21" y="309.34" width="6.89" height="5.47" fill="#728cbb"/>
<rect x="160.81" y="309.34" width="6.89" height="5.47" fill="#a6bed6"/>
<rect x="167.40" y="309.34" width="6.89" height="5.47" fill="#d9e4ee"/>
<rect x="174.00" y="309.34" width="6.89" height="5.47" fill="#b2c8dc"/>
<rect x="180.59" y="309.34" width="6.89" height="5.47" fill="#bfd1e2"/>
<rect x="187.19" y="309.34" width="6.89" height="5.47" fill="#f8e8de"/>
<rect x="35.50" y="314.50" width="6.89" height="5.47" fill="#df8e6e"/>
<rect x="42.09" y="314.50" width="6.89" height="5.47" fill="#df8e6e"/>
<rect x="48.69" y="314.50" width="6.89" height="5.47" fill="#f6d2bc"/>
<rect x="55.28" y="314.50" width="6.89" height="5.47" fill="#f7dbc9"/>
<rect x="61.88" y="314.50" width="6.89" height="5.47" fill="#eeb192"/>
<rect x="68.47" y="314.50" width="6.89" height="5.47" fill="#e8edf2"/>
<rect x="75.07" y="314.50" width="6.89" height="5.47" fill="#f6d2bc"/>
<rect x="81.66" y="314.50" width="6.89" height="5.47" fill="#e49979"/>
<rect x="88.26" y="314.50" width="6.89" height="5.47" fill="#f8e4d6"/>
<rect x="94.85" y="314.50" width="6.89" height="5.47" fill="#c45d4b"/>
<rect x="101.45" y="314.50" width="6.89" height="5.47" fill="#ab3935"/>
<rect x="108.05" y="314.50" width="6.89" height="5.47" fill="#d3765c"/>
<rect x="114.64" y="314.50" width="6.89" height="5.47" fill="#bfd1e2"/>
<rect x="121.23" y="314.50" width="6.89" height="5.47" fill="#bfd1e2"/>
<rect x="127.83" y="314.50" width="6.89" height="5.47" fill="#ccdae8"/>
<rect x="134.43" y="314.50" width="6.89" height="5.47" fill="#bfd1e2"/>
<rect x="141.02" y="314.50" width="6.89" height="5.47" fill="#bfd1e2"/>
<rect x="147.62" y="314.50" width="6.89" height="5.47" fill="#b2c8dc"/>
<rect x="154.21" y="314.50" width="6.89" height="5.47" fill="#b2c8dc"/>
<rect x="160.81" y="314.50" width="6.89" height="5.47" fill="#d9e4ee"/>
<rect x="167.40" y="314.50" width="6.89" height="5.47" fill="#bfd1e2"/>
<rect x="174.00" y="314.50" width="6.89" height="5.47" fill="#d9e4ee"/>
<rect x="180.59" y="314.50" width="6.89" height="5.47" fill="#bfd1e2"/>
<rect x="187.19" y="314.50" width="6.89" height="5.47" fill="#ccdae8"/>
<rect x="35.50" y="319.67" width="6.89" height="5.47" fill="#cc6953"/>
<rect x="42.09" y="319.67" width="6.89" height="5.47" fill="#cc6953"/>
<rect x="48.69" y="319.67" width="6.89" height="5.47" fill="#f7ede6"/>
<rect x="55.28" y="319.67" width="6.89" height="5.47" fill="#f6d2bc"/>
<rect x="61.88" y="319.67" width="6.89" height="5.47" fill="#f8e4d6"/>
<rect x="68.47" y="319.67" width="6.89" height="5.47" fill="#f6f6f6"/>
<rect x="75.07" y="319.67" width="6.89" height="5.47" fill="#f4c8ae"/>
<rect x="81.66" y="319.67" width="6.89" height="5.47" fill="#f2bea0"/>
<rect x="88.26" y="319.67" width="6.89" height="5.47" fill="#f4c8ae"/>
<rect x="94.85" y="319.67" width="6.89" height="5.47" fill="#b23f39"/>
<rect x="101.45" y="319.67" width="6.89" height="5.47" fill="#eeb192"/>
<rect x="108.05" y="319.67" width="6.89" height="5.47" fill="#cc6953"/>
<rect x="114.64" y="319.67" width="6.89" height="5.47" fill="#bfd1e2"/>
<rect x="121.23" y="319.67" width="6.89" height="5.47" fill="#ccdae8"/>
<rect x="127.83" y="319.67" width="6.89" height="5.47" fill="#d9e4ee"/>
<rect x="134.43" y="319.67" width="6.89" height="5.47" fill="#d9e4ee"/>
<rect x="141.02" y="319.67" width="6.89" height="5.47" fill="#ccdae8"/>
<rect x="147.62" y="319.67" width="6.89" height="5.47" fill="#b2c8dc"/>
<rect x="154.21" y="319.67" width="6.89" height="5.47" fill="#9ab4d0"/>
<rect x="160.81" y="319.67" width="6.89" height="5.47" fill="#ccdae8"/>
<rect x="167.40" y="319.67" width="6.89" height="5.47" fill="#eff2f4"/>
<rect x="174.00" y="319.67" width="6.89" height="5.47" fill="#a6bed6"/>
<rect x="180.59" y="319.67" width="6.89" height="5.47" fill="#a6bed6"/>
<rect x="187.19" y="319.67" width="6.89" height="5.47" fill="#b2c8dc"/>
<rect x="35.50" y="324.84" width="6.89" height="5.47" fill="#f7ede6"/>
<rect x="42.09" y="324.84" width="6.89" height="5.47" fill="#e49979"/>
<rect x="48.69" y="324.84" width="6.89" height="5.47" fill="#f6f6f6"/>
<rect x="55.28" y="324.84" width="6.89" height="5.47" fill="#f7dbc9"/>
<rect x="61.88" y="324.84" width="6.89" height="5.47" fill="#df8e6e"/>
<rect x="68.47" y="324.84" width="6.89" height="5.47" fill="#e8edf2"/>
<rect x="75.07" y="324.84" width="6.89" height="5.47" fill="#f6d2bc"/>
<rect x="81.66" y="324.84" width="6.89" height="5.47" fill="#f8e4d6"/>
<rect x="88.26" y="324.84" width="6.89" height="5.47" fill="#e8edf2"/>
<rect x="94.85" y="324.84" width="6.89" height="5.47" fill="#b23f39"/>
<rect x="101.45" y="324.84" width="6.89" height="5.47" fill="#9c2d2e"/>
<rect x="108.05" y="324.84" width="6.89" height="5.47" fill="#792326"/>
<rect x="114.64" y="324.84" width="6.89" height="5.47" fill="#bfd1e2"/>
<rect x="121.23" y="324.84" width="6.89" height="5.47" fill="#bfd1e2"/>
<rect x="127.83" y="324.84" width="6.89" height="5.47" fill="#e8edf2"/>
<rect x="134.43" y="324.84" width="6.89" height="5.47" fill="#bfd1e2"/>
<rect x="141.02" y="324.84" width="6.89" height="5.47" fill="#bfd1e2"/>
<rect x="147.62" y="324.84" width="6.89" height="5.47" fill="#b2c8dc"/>
<rect x="154.21" y="324.84" width="6.89" height="5.47" fill="#bfd1e2"/>
<rect x="160.81" y="324.84" width="6.89" height="5.47" fill="#bfd1e2"/>
<rect x="167.40" y="324.84" width="6.89" height="5.47" fill="#d9e4ee"/>
<rect x="174.00" y="324.84" width="6.89" height="5.47" fill="#d9e4ee"/>
<rect x="180.59" y="324.84" width="6.89" height="5.47" fill="#bfd1e2"/>
<rect x="187.19" y="324.84" width="6.89" height="5.47" fill="#e8edf2"/>
<rect x="35.50" y="330.00" width="6.89" height="5.47" fill="#d9e4ee"/>
<rect x="42.09" y="330.00" width="6.89" height="5.47" fill="#d9e4ee"/>
<rect x="48.69" y="330.00" width="6.89" height="5.47" fill="#ccdae8"/>
<rect x="55.28" y="330.00" width="6.89" height="5.47" fill="#b2c8dc"/>
<rect x="61.88" y="330.00" width="6.89" height="5.47" fill="#b2c8dc"/>
<rect x="68.47" y="330.00" width="6.89" height="5.47" fill="#d9e4ee"/>
<rect x="75.07" y="330.00" width="6.89" height="5.47" fill="#bfd1e2"/>
<rect x="81.66" y="330.00" width="6.89" height="5.47" fill="#d9e4ee"/>
<rect x="88.26" y="330.00" width="6.89" height="5.47" fill="#ccdae8"/>
<rect x="94.85" y="330.00" width="6.89" height="5.47" fill="#e8edf2"/>
<rect x="101.45" y="330.00" width="6.89" height="5.47" fill="#d9e4ee"/>
<rect x="108.05" y="330.00" width="6.89" height="5.47" fill="#eff2f4"/>
<rect x="114.64" y="330.00" width="6.89" height="5.47" fill="#f2bea0"/>
<rect x="121.23" y="330.00" width="6.89" height="5.47" fill="#e8edf2"/>
<rect x="127.83" y="330.00" width="6.89" height="5.47" fill="#f6f6f6"/>
<rect x="134.43" y="330.00" width="6.89" height="5.47" fill="#ccdae8"/>
<rect x="141.02" y="330.00" width="6.89" height="5.47" fill="#e8edf2"/>
<rect x="147.62" y="330.00" width="6.89" height="5.47" fill="#f6f6f6"/>
<rect x="154.21" y="330.00" width="6.89" height="5.47" fill="#df8e6e"/>
<rect x="160.81" y="330.00" width="6.89" height="5.47" fill="#df8e6e"/>
<rect x="167.40" y="330.00" width="6.89" height="5.47" fill="#b23f39"/>
<rect x="174.00" y="330.00" width="6.89" height="5.47" fill="#f2bea0"/>
<rect x="180.59" y="330.00" width="6.89" height="5.47" fill="#b23f39"/>
<rect x="187.19" y="330.00" width="6.89" height="5.47" fill="#9c2d2e"/>
<rect x="35.50" y="335.17" width="6.89" height="5.47" fill="#d9e4ee"/>
<rect x="42.09" y="335.17" width="6.89" height="5.47" fill="#bfd1e2"/>
<rect x="48.69" y="335.17" width="6.89" height="5.47" fill="#b2c8dc"/>
<rect x="55.28" y="335.17" width="6.89" height="5.47" fill="#bfd1e2"/>
<rect x="61.88" y="335.17" width="6.89" height="5.47" fill="#9ab4d0"/>
<rect x="68.47" y="335.17" width="6.89" height="5.47" fill="#ccdae8"/>
<rect x="75.07" y="335.17" width="6.89" height="5.47" fill="#e8edf2"/>
<rect x="81.66" y="335.17" width="6.89" height="5.47" fill="#ccdae8"/>
<rect x="88.26" y="335.17" width="6.89" height="5.47" fill="#ccdae8"/>
<rect x="94.85" y="335.17" width="6.89" height="5.47" fill="#ccdae8"/>
<rect x="101.45" y="335.17" width="6.89" height="5.47" fill="#e8edf2"/>
<rect x="108.05" y="335.17" width="6.89" height="5.47" fill="#f6f6f6"/>
<rect x="114.64" y="335.17" width="6.89" height="5.47" fill="#f7dbc9"/>
<rect x="121.23" y="335.17" width="6.89" height="5.47" fill="#eff2f4"/>
<rect x="127.83" y="335.17" width="6.89" height="5.47" fill="#f7dbc9"/>
<rect x="134.43" y="335.17" width="6.89" height="5.47" fill="#f7dbc9"/>
<rect x="141.02" y="335.17" width="6.89" height="5.47" fill="#e8edf2"/>
<rect x="147.62" y="335.17" width="6.89" height="5.47" fill="#ccdae8"/>
<rect x="154.21" y="335.17" width="6.89" height="5.47" fill="#df8e6e"/>
<rect x="160.81" y="335.17" width="6.89" height="5.47" fill="#ab3935"/>
<rect x="167.40" y="335.17" width="6.89" height="5.47" fill="#ab3935"/>
<rect x="174.00" y="335.17" width="6.89" height="5.47" fill="#f7dbc9"/>
<rect x="180.59" y="335.17" width="6.89" height="5.47" fill="#d98265"/>
<rect x="187.19" y="335.17" width="6.89" height="5.47" fill="#9c2d2e"/>
<rect x="35.50" y="340.34" width="6.89" height="5.47" fill="#d9e4ee"/>
<rect x="42.09" y="340.34" width="6.89" height="5.47" fill="#e8edf2"/>
<rect x="48.69" y="340.34" width="6.89" height="5.47" fill="#b2c8dc"/>
<rect x="55.28" y="340.34" width="6.89" height="5.47" fill="#d9e4ee"/>
<rect x="61.88" y="340.34" width="6.89" height="5.47" fill="#d9e4ee"/>
<rect x="68.47" y="340.34" width="6.89" height="5.47" fill="#d9e4ee"/>
<rect x="75.07" y="340.34" width="6.89" height="5.47" fill="#e8edf2"/>
<rect x="81.66" y="340.34" width="6.89" height="5.47" fill="#d9e4ee"/>
<rect x="88.26" y="340.34" width="6.89" height="5.47" fill="#ccdae8"/>
<rect x="94.85" y="340.34" width="6.89" height="5.47" fill="#ccdae8"/>
<rect x="101.45" y="340.34" width="6.89" height="5.47" fill="#b2c8dc"/>
<rect x="108.05" y="340.34" width="6.89" height="5.47" fill="#bfd1e2"/>
<rect x="114.64" y="340.34" width="6.89" height="5.47" fill="#f4c8ae"/>
<rect x="121.23" y="340.34" width="6.89" height="5.47" fill="#f2bea0"/>
<rect x="127.83" y="340.34" width="6.89" height="5.47" fill="#f8e4d6"/>
<rect x="134.43" y="340.34" width="6.89" height="5.47" fill="#f7dbc9"/>
<rect x="141.02" y="340.34" width="6.89" height="5.47" fill="#e8edf2"/>
<rect x="147.62" y="340.34" width="6.89" height="5.47" fill="#f6f6f6"/>
<rect x="154.21" y="340.34" width="6.89" height="5.47" fill="#bfd1e2"/>
<rect x="160.81" y="340.34" width="6.89" height="5.47" fill="#ab3935"/>
<rect x="167.40" y="340.34" width="6.89" height="5.47" fill="#702024"/>
<rect x="174.00" y="340.34" width="6.89" height="5.47" fill="#d98265"/>
<rect x="180.59" y="340.34" width="6.89" height="5.47" fill="#d98265"/>
<rect x="187.19" y="340.34" width="6.89" height="5.47" fill="#cc6953"/>
<rect x="35.50" y="345.50" width="6.89" height="5.47" fill="#e8edf2"/>
<rect x="42.09" y="345.50" width="6.89" height="5.47" fill="#e8edf2"/>
<rect x="48.69" y="345.50" width="6.89" height="5.47" fill="#b2c8dc"/>
<rect x="55.28" y="345.50" width="6.89" height="5.47" fill="#b2c8dc"/>
<rect x="61.88" y="345.50" width="6.89" height="5.47" fill="#9ab4d0"/>
<rect x="68.47" y="345.50" width="6.89" height="5.47" fill="#e8edf2"/>
<rect x="75.07" y="345.50" width="6.89" height="5.47" fill="#e8edf2"/>
<rect x="81.66" y="345.50" width="6.89" height="5.47" fill="#ccdae8"/>
<rect x="88.26" y="345.50" width="6.89" height="5.47" fill="#b2c8dc"/>
<rect x="94.85" y="345.50" width="6.89" height="5.47" fill="#b2c8dc"/>
<rect x="101.45" y="345.50" width="6.89" height="5.47" fill="#b2c8dc"/>
<rect x="108.05" y="345.50" width="6.89" height="5.47" fill="#f6f6f6"/>
<rect x="114.64" y="345.50" width="6.89" height="5.47" fill="#f6f2ee"/>
<rect x="121.23" y="345.50" width="6.89" height="5.47" fill="#f7ede6"/>
<rect x="127.83" y="345.50" width="6.89" height="5.47" fill="#e8edf2"/>
<rect x="134.43" y="345.50" width="6.89" height="5.47" fill="#f4c8ae"/>
<rect x="141.02" y="345.50" width="6.89" height="5.47" fill="#f6f6f6"/>
<rect x="147.62" y="345.50" width="6.89" height="5.47" fill="#f7ede6"/>
<rect x="154.21" y="345.50" width="6.89" height="5.47" fill="#f7ede6"/>
<rect x="160.81" y="345.50" width="6.89" height="5.47" fill="#ab3935"/>
<rect x="167.40" y="345.50" width="6.89" height="5.47" fill="#c45d4b"/>
<rect x="174.00" y="345.50" width="6.89" height="5.47" fill="#cc6953"/>
<rect x="180.59" y="345.50" width="6.89" height="5.47" fill="#ab3935"/>
<rect x="187.19" y="345.50" width="6.89" height="5.47" fill="#d98265"/>
<rect x="35.50" y="350.67" width="6.89" height="5.47" fill="#ccdae8"/>
<rect x="42.09" y="350.67" width="6.89" height="5.47" fill="#e8edf2"/>
<rect x="48.69" y="350.67" width="6.89" height="5.47" fill="#ccdae8"/>
<rect x="55.28" y="350.67" width="6.89" height="5.47" fill="#ccdae8"/>
<rect x="61.88" y="350.67" width="6.89" height="5.47" fill="#d9e4ee"/>
<rect x="68.47" y="350.67" width="6.89" height="5.47" fill="#d9e4ee"/>
<rect x="75.07" y="350.67" width="6.89" height="5.47" fill="#b2c8dc"/>
<rect x="81.66" y="350.67" width="6.89" height="5.47" fill="#ccdae8"/>
<rect x="88.26" y="350.67" width="6.89" height="5.47" fill="#ccdae8"/>
<rect x="94.85" y="350.67" width="6.89" height="5.47" fill="#f6f6f6"/>
<rect x="101.45" y="350.67" width="6.89" height="5.47" fill="#b2c8dc"/>
<rect x="108.05" y="350.67" width="6.89" height="5.47" fill="#8ea9cb"/>
<rect x="114.64" y="350.67" width="6.89" height="5.47" fill="#f6d2bc"/>
<rect x="121.23" y="350.67" width="6.89" height="5.47" fill="#f7dbc9"/>
<rect x="127.83" y="350.67" width="6.89" height="5.47" fill="#f8e4d6"/>
<rect x="134.43" y="350.67" width="6.89" height="5.47" fill="#bfd1e2"/>
<rect x="141.02" y="350.67" width="6.89" height="5.47" fill="#f6f6f6"/>
<rect x="147.62" y="350.67" width="6.89" height="5.47" fill="#f6f2ee"/>
<rect x="154.21" y="350.67" width="6.89" height="5.47" fill="#f8e4d6"/>
<rect x="160.81" y="350.67" width="6.89" height="5.47" fill="#b23f39"/>
<rect x="167.40" y="350.67" width="6.89" height="5.47" fill="#cc6953"/>
<rect x="174.00" y="350.67" width="6.89" height="5.47" fill="#cc6953"/>
<rect x="180.59" y="350.67" width="6.89" height="5.47" fill="#671d22"/>
<rect x="187.19" y="350.67" width="6.89" height="5.47" fill="#f6d2bc"/>
<rect x="35.50" y="355.84" width="6.89" height="5.47" fill="#ccdae8"/>
<rect x="42.09" y="355.84" width="6.89" height="5.47" fill="#b2c8dc"/>
<rect x="48.69" y="355.84" width="6.89" height="5.47" fill="#b2c8dc"/>
<rect x="55.28" y="355.84" width="6.89" height="5.47" fill="#bfd1e2"/>
<rect x="61.88" y="355.84" width="6.89" height="5.47" fill="#ccdae8"/>
<rect x="68.47" y="355.84" width="6.89" height="5.47" fill="#a6bed6"/>
<rect x="75.07" y="355.84" width="6.89" height="5.47" fill="#d9e4ee"/>
<rect x="81.66" y="355.84" width="6.89" height="5.47" fill="#d9e4ee"/>
<rect x="88.26" y="355.84" width="6.89" height="5.47" fill="#ccdae8"/>
<rect x="94.85" y="355.84" width="6.89" height="5.47" fill="#bfd1e2"/>
<rect x="101.45" y="355.84" width="6.89" height="5.47" fill="#b2c8dc"/>
<rect x="108.05" y="355.84" width="6.89" height="5.47" fill="#a6bed6"/>
<rect x="114.64" y="355.84" width="6.89" height="5.47" fill="#f8e4d6"/>
<rect x="121.23" y="355.84" width="6.89" height="5.47" fill="#f8e4d6"/>
<rect x="127.83" y="355.84" width="6.89" height="5.47" fill="#e49979"/>
<rect x="134.43" y="355.84" width="6.89" height="5.47" fill="#cc6953"/>
<rect x="141.02" y="355.84" width="6.89" height="5.47" fill="#e49979"/>
<rect x="147.62" y="355.84" width="6.89" height="5.47" fill="#e8edf2"/>
<rect x="154.21" y="355.84" width="6.89" height="5.47" fill="#f6f2ee"/>
<rect x="160.81" y="355.84" width="6.89" height="5.47" fill="#eeb192"/>
<rect x="167.40" y="355.84" width="6.89" height="5.47" fill="#a33332"/>
<rect x="174.00" y="355.84" width="6.89" height="5.47" fill="#e49979"/>
<rect x="180.59" y="355.84" width="6.89" height="5.47" fill="#e9a484"/>
<rect x="187.19" y="355.84" width="6.89" height="5.47" fill="#d3765c"/>
<rect x="35.50" y="361.01" width="6.89" height="5.47" fill="#d9e4ee"/>
<rect x="42.09" y="361.01" width="6.89" height="5.47" fill="#e8edf2"/>
<rect x="48.69" y="361.01" width="6.89" height="5.47" fill="#bfd1e2"/>
<rect x="55.28" y="361.01" width="6.89" height="5.47" fill="#f6f6f6"/>
<rect x="61.88" y="361.01" width="6.89" height="5.47" fill="#ccdae8"/>
<rect x="68.47" y="361.01" width="6.89" height="5.47" fill="#a6bed6"/>
<rect x="75.07" y="361.01" width="6.89" height="5.47" fill="#a6bed6"/>
<rect x="81.66" y="361.01" width="6.89" height="5.47" fill="#e8edf2"/>
<rect x="88.26" y="361.01" width="6.89" height="5.47" fill="#b2c8dc"/>
<rect x="94.85" y="361.01" width="6.89" height="5.47" fill="#ccdae8"/>
<rect x="101.45" y="361.01" width="6.89" height="5.47" fill="#d9e4ee"/>
<rect x="108.05" y="361.01" width="6.89" height="5.47" fill="#b2c8dc"/>
<rect x="114.64" y="361.01" width="6.89" height="5.47" fill="#f7dbc9"/>
<rect x="121.23" y="361.01" width="6.89" height="5.47" fill="#f8e4d6"/>
<rect x="127.83" y="361.01" width="6.89" height="5.47" fill="#df8e6e"/>
<rect x="134.43" y="361.01" width="6.89" height="5.47" fill="#e0e8f0"/>
<rect x="141.02" y="361.01" width="6.89" height="5.47" fill="#f7ede6"/>
<rect x="147.62" y="361.01" width="6.89" height="5.47" fill="#f7dbc9"/>
<rect x="154.21" y="361.01" width="6.89" height="5.47" fill="#f6f2ee"/>
<rect x="160.81" y="361.01" width="6.89" height="5.47" fill="#5f1b20"/>
<rect x="167.40" y="361.01" width="6.89" height="5.47" fill="#a33332"/>
<rect x="174.00" y="361.01" width="6.89" height="5.47" fill="#df8e6e"/>
<rect x="180.59" y="361.01" width="6.89" height="5.47" fill="#f7dbc9"/>
<rect x="187.19" y="361.01" width="6.89" height="5.47" fill="#f8e4d6"/>
<rect x="35.50" y="366.17" width="6.89" height="5.47" fill="#b2c8dc"/>
<rect x="42.09" y="366.17" width="6.89" height="5.47" fill="#b2c8dc"/>
<rect x="48.69" y="366.17" width="6.89" height="5.47" fill="#8ea9cb"/>
<rect x="55.28" y="366.17" width="6.89" height="5.47" fill="#8ea9cb"/>
<rect x="61.88" y="366.17" width="6.89" height="5.47" fill="#d9e4ee"/>
<rect x="68.47" y="366.17" width="6.89" height="5.47" fill="#9ab4d0"/>
<rect x="75.07" y="366.17" width="6.89" height="5.47" fill="#bfd1e2"/>
<rect x="81.66" y="366.17" width="6.89" height="5.47" fill="#b2c8dc"/>
<rect x="88.26" y="366.17" width="6.89" height="5.47" fill="#8ea9cb"/>
<rect x="94.85" y="366.17" width="6.89" height="5.47" fill="#f6f6f6"/>
<rect x="101.45" y="366.17" width="6.89" height="5.47" fill="#f6f2ee"/>
<rect x="108.05" y="366.17" width="6.89" height="5.47" fill="#f6f6f6"/>
<rect x="114.64" y="366.17" width="6.89" height="5.47" fill="#f2bea0"/>
<rect x="121.23" y="366.17" width="6.89" height="5.47" fill="#f4c8ae"/>
<rect x="127.83" y="366.17" width="6.89" height="5.47" fill="#e49979"/>
<rect x="134.43" y="366.17" width="6.89" height="5.47" fill="#eeb192"/>
<rect x="141.02" y="366.17" width="6.89" height="5.47" fill="#e9a484"/>
<rect x="147.62" y="366.17" width="6.89" height="5.47" fill="#e9a484"/>
<rect x="154.21" y="366.17" width="6.89" height="5.47" fill="#f7ede6"/>
<rect x="160.81" y="366.17" width="6.89" height="5.47" fill="#f7dbc9"/>
<rect x="167.40" y="366.17" width="6.89" height="5.47" fill="#f2bea0"/>
<rect x="174.00" y="366.17" width="6.89" height="5.47" fill="#f6d2bc"/>
<rect x="180.59" y="366.17" width="6.89" height="5.47" fill="#d98265"/>
<rect x="187.19" y="366.17" width="6.89" height="5.47" fill="#df8e6e"/>
<rect x="35.50" y="371.34" width="6.89" height="5.47" fill="#b2c8dc"/>
<rect x="42.09" y="371.34" width="6.89" height="5.47" fill="#bfd1e2"/>
<rect x="48.69" y="371.34" width="6.89" height="5.47" fill="#a6bed6"/>
<rect x="55.28" y="371.34" width="6.89" height="5.47" fill="#bfd1e2"/>
<rect x="61.88" y="371.34" width="6.89" height="5.47" fill="#9ab4d0"/>
<rect x="68.47" y="371.34" width="6.89" height="5.47" fill="#bfd1e2"/>
<rect x="75.07" y="371.34" width="6.89" height="5.47" fill="#7a94c0"/>
<rect x="81.66" y="371.34" width="6.89" height="5.47" fill="#e8edf2"/>
<rect x="88.26" y="371.34" width="6.89" height="5.47" fill="#bfd1e2"/>
<rect x="94.85" y="371.34" width="6.89" height="5.47" fill="#e8edf2"/>
<rect x="101.45" y="371.34" width="6.89" height="5.47" fill="#d9e4ee"/>
<rect x="108.05" y="371.34" width="6.89" height="5.47" fill="#eff2f4"/>
<rect x="114.64" y="371.34" width="6.89" height="5.47" fill="#e9a484"/>
<rect x="121.23" y="371.34" width="6.89" height="5.47" fill="#eeb192"/>
<rect x="127.83" y="371.34" width="6.89" height="5.47" fill="#e9a484"/>
<rect x="134.43" y="371.34" width="6.89" height="5.47" fill="#d3765c"/>
<rect x="141.02" y="371.34" width="6.89" height="5.47" fill="#f6d2bc"/>
<rect x="147.62" y="371.34" width="6.89" height="5.47" fill="#df8e6e"/>
<rect x="154.21" y="371.34" width="6.89" height="5.47" fill="#e8edf2"/>
<rect x="160.81" y="371.34" width="6.89" height="5.47" fill="#e49979"/>
<rect x="167.40" y="371.34" width="6.89" height="5.47" fill="#e49979"/>
<rect x="174.00" y="371.34" width="6.89" height="5.47" fill="#df8e6e"/>
<rect x="180.59" y="371.34" width="6.89" height="5.47" fill="#f8e4d6"/>
<rect x="187.19" y="371.34" width="6.89" height="5.47" fill="#f6d2bc"/>
<rect x="35.50" y="376.51" width="6.89" height="5.47" fill="#6a84b5"/>
<rect x="42.09" y="376.51" width="6.89" height="5.47" fill="#8ea9cb"/>
<rect x="48.69" y="376.51" width="6.89" height="5.47" fill="#d9e4ee"/>
<rect x="55.28" y="376.51" width="6.89" height="5.47" fill="#ccdae8"/>
<rect x="61.88" y="376.51" width="6.89" height="5.47" fill="#ccdae8"/>
<rect x="68.47" y="376.51" width="6.89" height="5.47" fill="#d9e4ee"/>
<rect x="75.07" y="376.51" width="6.89" height="5.47" fill="#849ec6"/>
<rect x="81.66" y="376.51" width="6.89" height="5.47" fill="#b2c8dc"/>
<rect x="88.26" y="376.51" width="6.89" height="5.47" fill="#d9e4ee"/>
<rect x="94.85" y="376.51" width="6.89" height="5.47" fill="#e8edf2"/>
<rect x="101.45" y="376.51" width="6.89" height="5.47" fill="#e8edf2"/>
<rect x="108.05" y="376.51" width="6.89" height="5.47" fill="#eff2f4"/>
<rect x="114.64" y="376.51" width="6.89" height="5.47" fill="#f2bea0"/>
<rect x="121.23" y="376.51" width="6.89" height="5.47" fill="#f4c8ae"/>
<rect x="127.83" y="376.51" width="6.89" height="5.47" fill="#df8e6e"/>
<rect x="134.43" y="376.51" width="6.89" height="5.47" fill="#f2bea0"/>
<rect x="141.02" y="376.51" width="6.89" height="5.47" fill="#f2bea0"/>
<rect x="147.62" y="376.51" width="6.89" height="5.47" fill="#f6f6f6"/>
<rect x="154.21" y="376.51" width="6.89" height="5.47" fill="#b23f39"/>
<rect x="160.81" y="376.51" width="6.89" height="5.47" fill="#df8e6e"/>
<rect x="167.40" y="376.51" width="6.89" height="5.47" fill="#f8e4d6"/>
<rect x="174.00" y="376.51" width="6.89" height="5.47" fill="#f7dbc9"/>
<rect x="180.59" y="376.51" width="6.89" height="5.47" fill="#d98265"/>
<rect x="187.19" y="376.51" width="6.89" height="5.47" fill="#f2bea0"/>
<rect x="35.50" y="381.67" width="6.89" height="5.47" fill="#e8edf2"/>
<rect x="42.09" y="381.67" width="6.89" height="5.47" fill="#ccdae8"/>
<rect x="48.69" y="381.67" width="6.89" height="5.47" fill="#ccdae8"/>
<rect x="55.28" y="381.67" width="6.89" height="5.47" fill="#ccdae8"/>
<rect x="61.88" y="381.67" width="6.89" height="5.47" fill="#ccdae8"/>
<rect x="68.47" y="381.67" width="6.89" height="5.47" fill="#d9e4ee"/>
<rect x="75.07" y="381.67" width="6.89" height="5.47" fill="#ccdae8"/>
<rect x="81.66" y="381.67" width="6.89" height="5.47" fill="#f6f6f6"/>
<rect x="88.26" y="381.67" width="6.89" height="5.47" fill="#bfd1e2"/>
<rect x="94.85" y="381.67" width="6.89" height="5.47" fill="#d9e4ee"/>
<rect x="101.45" y="381.67" width="6.89" height="5.47" fill="#d9e4ee"/>
<rect x="108.05" y="381.67" width="6.89" height="5.47" fill="#e8edf2"/>
<rect x="114.64" y="381.67" width="6.89" height="5.47" fill="#e0e8f0"/>
<rect x="121.23" y="381.67" width="6.89" height="5.47" fill="#d9e4ee"/>
<rect x="127.83" y="381.67" width="6.89" height="5.47" fill="#df8e6e"/>
<rect x="134.43" y="381.67" width="6.89" height="5.47" fill="#eeb192"/>
<rect x="141.02" y="381.67" width="6.89" height="5.47" fill="#f6f6f6"/>
<rect x="147.62" y="381.67" width="6.89" height="5.47" fill="#8a282a"/>
<rect x="154.21" y="381.67" width="6.89" height="5.47" fill="#cc6953"/>
<rect x="160.81" y="381.67" width="6.89" height="5.47" fill="#f6f6f6"/>
<rect x="167.40" y="381.67" width="6.89" height="5.47" fill="#df8e6e"/>
<rect x="174.00" y="381.67" width="6.89" height="5.47" fill="#9c2d2e"/>
<rect x="180.59" y="381.67" width="6.89" height="5.47" fill="#eff2f4"/>
<rect x="187.19" y="381.67" width="6.89" height="5.47" fill="#d2dfeb"/>
<rect x="35.50" y="386.84" width="6.89" height="5.47" fill="#e8edf2"/>
<rect x="42.09" y="386.84" width="6.89" height="5.47" fill="#d9e4ee"/>
<rect x="48.69" y="386.84" width="6.89" height="5.47" fill="#a6bed6"/>
<rect x="55.28" y="386.84" width="6.89" height="5.47" fill="#d9e4ee"/>
<rect x="61.88" y="386.84" width="6.89" height="5.47" fill="#bfd1e2"/>
<rect x="68.47" y="386.84" width="6.89" height="5.47" fill="#d9e4ee"/>
<rect x="75.07" y="386.84" width="6.89" height="5.47" fill="#ccdae8"/>
<rect x="81.66" y="386.84" width="6.89" height="5.47" fill="#e8edf2"/>
<rect x="88.26" y="386.84" width="6.89" height="5.47" fill="#b2c8dc"/>
<rect x="94.85" y="386.84" width="6.89" height="5.47" fill="#e8edf2"/>
<rect x="101.45" y="386.84" width="6.89" height="5.47" fill="#ccdae8"/>
<rect x="108.05" y="386.84" width="6.89" height="5.47" fill="#d9e4ee"/>
<rect x="114.64" y="386.84" width="6.89" height="5.47" fill="#f8e4d6"/>
<rect x="121.23" y="386.84" width="6.89" height="5.47" fill="#f8e4d6"/>
<rect x="127.83" y="386.84" width="6.89" height="5.47" fill="#f7dbc9"/>
<rect x="134.43" y="386.84" width="6.89" height="5.47" fill="#e9a484"/>
<rect x="141.02" y="386.84" width="6.89" height="5.47" fill="#f7ede6"/>
<rect x="147.62" y="386.84" width="6.89" height="5.47" fill="#f7ede6"/>
<rect x="154.21" y="386.84" width="6.89" height="5.47" fill="#5f1b20"/>
<rect x="160.81" y="386.84" width="6.89" height="5.47" fill="#df8e6e"/>
<rect x="167.40" y="386.84" width="6.89" height="5.47" fill="#b23f39"/>
<rect x="174.00" y="386.84" width="6.89" height="5.47" fill="#e9a484"/>
<rect x="180.59" y="386.84" width="6.89" height="5.47" fill="#f7dbc9"/>
<rect x="187.19" y="386.84" width="6.89" height="5.47" fill="#e8edf2"/>
</g>
<rect x="35.5" y="262" width="79.14" height="4.8" fill="#63a94a"/>
<rect x="114.64" y="262" width="79.14" height="4.8" fill="#e0736b"/>
<rect x="196.8" y="241.8" width="7.5" height="7.1" fill="#e0736b"/>
<rect x="196.8" y="250.1" width="7.5" height="7.1" fill="#63a94a"/>
<text x="207.60" y="248.10" font-size="7.4" textLength="21.9" lengthAdjust="spacingAndGlyphs" fill="#1a1a1a" stroke="#1a1a1a" stroke-width="0.259">CMML</text>
<text x="207.60" y="256.20" font-size="7.4" textLength="41.2" lengthAdjust="spacingAndGlyphs" fill="#1a1a1a" stroke="#1a1a1a" stroke-width="0.259">Old Controls</text>
<rect x="227.8" y="261.0" width="5.3" height="79.0" fill="url(#cbgrad)"/>
<text x="235.40" y="273.15" font-size="7.6" fill="#111" stroke="#111" stroke-width="0.266">2</text>
<text x="235.40" y="287.80" font-size="7.6" fill="#111" stroke="#111" stroke-width="0.266">1</text>
<text x="235.40" y="302.45" font-size="7.6" fill="#111" stroke="#111" stroke-width="0.266">0</text>
<text x="235.40" y="317.10" font-size="7.6" fill="#111" stroke="#111" stroke-width="0.266">−1</text>
<text x="235.40" y="331.75" font-size="7.6" fill="#111" stroke="#111" stroke-width="0.266">−2</text>
<text x="196.80" y="273.02" font-size="5.0" fill="#222" stroke="#222" stroke-width="0.06">JSRP1</text>
<text x="196.80" y="278.20" font-size="5.0" fill="#222" stroke="#222" stroke-width="0.06">TLDC2</text>
<text x="196.80" y="283.37" font-size="5.0" fill="#222" stroke="#222" stroke-width="0.06">SNX22</text>
<text x="196.80" y="288.54" font-size="5.0" fill="#222" stroke="#222" stroke-width="0.06">RPA1</text>
<text x="196.80" y="293.72" font-size="5.0" fill="#222" stroke="#222" stroke-width="0.06">HNRNPUL2</text>
<text x="196.80" y="298.89" font-size="5.0" fill="#222" stroke="#222" stroke-width="0.06">UNC119B</text>
<text x="196.80" y="304.07" font-size="5.0" fill="#222" stroke="#222" stroke-width="0.06">HIF1AN</text>
<text x="196.80" y="309.24" font-size="5.0" fill="#222" stroke="#222" stroke-width="0.06">CAMKK2</text>
<text x="196.80" y="314.41" font-size="5.0" fill="#222" stroke="#222" stroke-width="0.06">SLCO3A1</text>
<text x="196.80" y="319.59" font-size="5.0" fill="#222" stroke="#222" stroke-width="0.06">PTGDR2</text>
<text x="196.80" y="324.76" font-size="5.0" fill="#222" stroke="#222" stroke-width="0.06">SH2D1B</text>
<text x="196.80" y="329.94" font-size="5.0" fill="#222" stroke="#222" stroke-width="0.06">LYPD2</text>
<text x="196.80" y="335.11" font-size="5.0" fill="#222" stroke="#222" stroke-width="0.06">SNAI1</text>
<text x="196.80" y="340.28" font-size="5.0" fill="#222" stroke="#222" stroke-width="0.06">CDKN1A</text>
<text x="196.80" y="345.46" font-size="5.0" fill="#222" stroke="#222" stroke-width="0.06">PHLDA1</text>
<text x="196.80" y="350.63" font-size="5.0" fill="#222" stroke="#222" stroke-width="0.06">ATF3</text>
<text x="196.80" y="355.81" font-size="5.0" fill="#222" stroke="#222" stroke-width="0.06">CXCL2</text>
<text x="196.80" y="360.98" font-size="5.0" fill="#222" stroke="#222" stroke-width="0.06">TEX14</text>
<text x="196.80" y="366.15" font-size="5.0" fill="#222" stroke="#222" stroke-width="0.06">OLR1</text>
<text x="196.80" y="371.33" font-size="5.0" fill="#222" stroke="#222" stroke-width="0.06">APBB3</text>
<text x="196.80" y="376.50" font-size="5.0" fill="#222" stroke="#222" stroke-width="0.06">C12orf57</text>
<text x="196.80" y="381.68" font-size="5.0" fill="#222" stroke="#222" stroke-width="0.06">HSF4</text>
<text x="196.80" y="386.85" font-size="5.0" fill="#222" stroke="#222" stroke-width="0.06">HIST1H3B</text>
<text x="196.80" y="392.02" font-size="5.0" fill="#222" stroke="#222" stroke-width="0.06">PLK2</text>
<path d="M38.80 261.00V257.20H45.39V261.00M51.99 261.00V257.20H58.58V261.00M55.28 257.20V255.80H65.18V261.00M78.37 261.00V257.20H84.96V261.00M81.67 257.20V256.20H91.56V261.00M71.77 261.00V255.20H86.61V256.20M60.23 255.80V254.50H79.19V255.20M42.09 257.20V253.50H69.71V254.50M98.15 261.00V257.20H104.75V261.00M55.90 253.50V251.30H101.45V257.20M78.68 251.30V247.70H111.34V261.00M117.94 261.00V256.80H124.53V261.00M131.13 261.00V255.00H137.72V261.00M134.43 255.00V254.00H144.32V261.00M121.23 256.80V252.20H139.37V254.00M130.30 252.20V251.40H150.91V261.00M140.61 251.40V248.70H157.51V261.00M164.10 261.00V253.00H170.70V261.00M167.40 253.00V251.40H177.29V261.00M183.89 261.00V252.60H190.48V261.00M172.35 251.40V248.70H187.19V252.60M149.06 248.70V245.00H179.77V248.70M95.01 247.70V233.70H164.41V245.00" fill="none" stroke="#222" stroke-width="0.75"/>
<path d="M35.50 270.58H32.80V275.75H35.50M32.80 273.17H29.60V280.92H35.50M35.50 286.08H32.80V291.25H35.50M35.50 296.42H32.80V301.59H35.50M32.80 288.67H27.00V299.00H32.80M35.50 306.75H32.80V311.92H35.50M27.00 293.84H25.40V309.34H32.80M29.60 277.04H23.20V301.59H25.40M35.50 317.09H32.80V322.25H35.50M32.80 319.67H27.20V327.42H35.50M23.20 289.31H21.60V323.55H27.20M35.50 332.59H29.60V337.75H35.50M35.50 342.92H31.50V348.09H35.50M31.50 345.50H27.50V353.26H35.50M29.60 335.17H24.80V349.38H27.50M35.50 358.42H30.00V363.59H35.50M24.80 342.28H23.30V361.01H30.00M35.50 368.76H28.50V373.92H35.50M28.50 371.34H25.50V379.09H35.50M23.30 351.64H21.30V375.22H25.50M35.50 384.26H24.60V389.42H35.50M21.30 363.43H18.90V386.84H24.60M21.60 306.43H7.60V375.13H18.90" fill="none" stroke="#222" stroke-width="0.75"/>
<text x="264.30" y="243.20" font-size="11" font-weight="bold" fill="#111">D</text>
<g shape-rendering="crispEdges">
<rect x="292.00" y="268.40" width="5.94" height="5.45" fill="#a6bed6"/>
<rect x="297.64" y="268.40" width="5.94" height="5.45" fill="#a6bed6"/>
<rect x="303.28" y="268.40" width="5.94" height="5.45" fill="#bfd1e2"/>
<rect x="308.92" y="268.40" width="5.94" height="5.45" fill="#e0e8f0"/>
<rect x="314.56" y="268.40" width="5.94" height="5.45" fill="#c6d6e5"/>
<rect x="320.20" y="268.40" width="5.94" height="5.45" fill="#c6d6e5"/>
<rect x="325.84" y="268.40" width="5.94" height="5.45" fill="#b9ccdf"/>
<rect x="331.48" y="268.40" width="5.94" height="5.45" fill="#d9e4ee"/>
<rect x="337.12" y="268.40" width="5.94" height="5.45" fill="#849ec6"/>
<rect x="342.76" y="268.40" width="5.94" height="5.45" fill="#c6d6e5"/>
<rect x="348.40" y="268.40" width="5.94" height="5.45" fill="#ccdae8"/>
<rect x="354.04" y="268.40" width="5.94" height="5.45" fill="#bfd1e2"/>
<rect x="359.68" y="268.40" width="5.94" height="5.45" fill="#ccdae8"/>
<rect x="365.32" y="268.40" width="5.94" height="5.45" fill="#b2c8dc"/>
<rect x="370.96" y="268.40" width="5.94" height="5.45" fill="#a6bed6"/>
<rect x="376.60" y="268.40" width="5.94" height="5.45" fill="#f2bea0"/>
<rect x="382.24" y="268.40" width="5.94" height="5.45" fill="#f6d2bc"/>
<rect x="387.88" y="268.40" width="5.94" height="5.45" fill="#f6d2bc"/>
<rect x="393.52" y="268.40" width="5.94" height="5.45" fill="#f7dbc9"/>
<rect x="399.16" y="268.40" width="5.94" height="5.45" fill="#f7dbc9"/>
<rect x="404.80" y="268.40" width="5.94" height="5.45" fill="#f2bea0"/>
<rect x="410.44" y="268.40" width="5.94" height="5.45" fill="#f2bea0"/>
<rect x="416.08" y="268.40" width="5.94" height="5.45" fill="#f2bea0"/>
<rect x="421.72" y="268.40" width="5.94" height="5.45" fill="#cc6953"/>
<rect x="427.36" y="268.40" width="5.94" height="5.45" fill="#df8e6e"/>
<rect x="433.00" y="268.40" width="5.94" height="5.45" fill="#df8e6e"/>
<rect x="438.64" y="268.40" width="5.94" height="5.45" fill="#d98265"/>
<rect x="444.28" y="268.40" width="5.94" height="5.45" fill="#eeb192"/>
<rect x="292.00" y="273.55" width="5.94" height="5.45" fill="#a6bed6"/>
<rect x="297.64" y="273.55" width="5.94" height="5.45" fill="#a6bed6"/>
<rect x="303.28" y="273.55" width="5.94" height="5.45" fill="#bfd1e2"/>
<rect x="308.92" y="273.55" width="5.94" height="5.45" fill="#ccdae8"/>
<rect x="314.56" y="273.55" width="5.94" height="5.45" fill="#ccdae8"/>
<rect x="320.20" y="273.55" width="5.94" height="5.45" fill="#ccdae8"/>
<rect x="325.84" y="273.55" width="5.94" height="5.45" fill="#bfd1e2"/>
<rect x="331.48" y="273.55" width="5.94" height="5.45" fill="#bfd1e2"/>
<rect x="337.12" y="273.55" width="5.94" height="5.45" fill="#b9ccdf"/>
<rect x="342.76" y="273.55" width="5.94" height="5.45" fill="#acc3d9"/>
<rect x="348.40" y="273.55" width="5.94" height="5.45" fill="#c6d6e5"/>
<rect x="354.04" y="273.55" width="5.94" height="5.45" fill="#bfd1e2"/>
<rect x="359.68" y="273.55" width="5.94" height="5.45" fill="#c6d6e5"/>
<rect x="365.32" y="273.55" width="5.94" height="5.45" fill="#c6d6e5"/>
<rect x="370.96" y="273.55" width="5.94" height="5.45" fill="#b9ccdf"/>
<rect x="376.60" y="273.55" width="5.94" height="5.45" fill="#f2bea0"/>
<rect x="382.24" y="273.55" width="5.94" height="5.45" fill="#f4c8ae"/>
<rect x="387.88" y="273.55" width="5.94" height="5.45" fill="#f7dbc9"/>
<rect x="393.52" y="273.55" width="5.94" height="5.45" fill="#f7dbc9"/>
<rect x="399.16" y="273.55" width="5.94" height="5.45" fill="#f8e4d6"/>
<rect x="404.80" y="273.55" width="5.94" height="5.45" fill="#f2bea0"/>
<rect x="410.44" y="273.55" width="5.94" height="5.45" fill="#f2bea0"/>
<rect x="416.08" y="273.55" width="5.94" height="5.45" fill="#f2bea0"/>
<rect x="421.72" y="273.55" width="5.94" height="5.45" fill="#cc6953"/>
<rect x="427.36" y="273.55" width="5.94" height="5.45" fill="#cc6953"/>
<rect x="433.00" y="273.55" width="5.94" height="5.45" fill="#df8e6e"/>
<rect x="438.64" y="273.55" width="5.94" height="5.45" fill="#d3765c"/>
<rect x="444.28" y="273.55" width="5.94" height="5.45" fill="#e9a484"/>
<rect x="292.00" y="278.70" width="5.94" height="5.45" fill="#acc3d9"/>
<rect x="297.64" y="278.70" width="5.94" height="5.45" fill="#b2c8dc"/>
<rect x="303.28" y="278.70" width="5.94" height="5.45" fill="#bfd1e2"/>
<rect x="308.92" y="278.70" width="5.94" height="5.45" fill="#ccdae8"/>
<rect x="314.56" y="278.70" width="5.94" height="5.45" fill="#b9ccdf"/>
<rect x="320.20" y="278.70" width="5.94" height="5.45" fill="#b9ccdf"/>
<rect x="325.84" y="278.70" width="5.94" height="5.45" fill="#a6bed6"/>
<rect x="331.48" y="278.70" width="5.94" height="5.45" fill="#b2c8dc"/>
<rect x="337.12" y="278.70" width="5.94" height="5.45" fill="#bfd1e2"/>
<rect x="342.76" y="278.70" width="5.94" height="5.45" fill="#b2c8dc"/>
<rect x="348.40" y="278.70" width="5.94" height="5.45" fill="#ccdae8"/>
<rect x="354.04" y="278.70" width="5.94" height="5.45" fill="#bfd1e2"/>
<rect x="359.68" y="278.70" width="5.94" height="5.45" fill="#c6d6e5"/>
<rect x="365.32" y="278.70" width="5.94" height="5.45" fill="#d9e4ee"/>
<rect x="370.96" y="278.70" width="5.94" height="5.45" fill="#c6d6e5"/>
<rect x="376.60" y="278.70" width="5.94" height="5.45" fill="#f6d2bc"/>
<rect x="382.24" y="278.70" width="5.94" height="5.45" fill="#f4c8ae"/>
<rect x="387.88" y="278.70" width="5.94" height="5.45" fill="#f7dbc9"/>
<rect x="393.52" y="278.70" width="5.94" height="5.45" fill="#f7dbc9"/>
<rect x="399.16" y="278.70" width="5.94" height="5.45" fill="#f7dbc9"/>
<rect x="404.80" y="278.70" width="5.94" height="5.45" fill="#e9a484"/>
<rect x="410.44" y="278.70" width="5.94" height="5.45" fill="#f2bea0"/>
<rect x="416.08" y="278.70" width="5.94" height="5.45" fill="#f2bea0"/>
<rect x="421.72" y="278.70" width="5.94" height="5.45" fill="#cc6953"/>
<rect x="427.36" y="278.70" width="5.94" height="5.45" fill="#cc6953"/>
<rect x="433.00" y="278.70" width="5.94" height="5.45" fill="#d98265"/>
<rect x="438.64" y="278.70" width="5.94" height="5.45" fill="#d3765c"/>
<rect x="444.28" y="278.70" width="5.94" height="5.45" fill="#e49979"/>
<rect x="292.00" y="283.85" width="5.94" height="5.45" fill="#b9ccdf"/>
<rect x="297.64" y="283.85" width="5.94" height="5.45" fill="#a6bed6"/>
<rect x="303.28" y="283.85" width="5.94" height="5.45" fill="#bfd1e2"/>
<rect x="308.92" y="283.85" width="5.94" height="5.45" fill="#eff2f4"/>
<rect x="314.56" y="283.85" width="5.94" height="5.45" fill="#d9e4ee"/>
<rect x="320.20" y="283.85" width="5.94" height="5.45" fill="#d9e4ee"/>
<rect x="325.84" y="283.85" width="5.94" height="5.45" fill="#b2c8dc"/>
<rect x="331.48" y="283.85" width="5.94" height="5.45" fill="#b2c8dc"/>
<rect x="337.12" y="283.85" width="5.94" height="5.45" fill="#bfd1e2"/>
<rect x="342.76" y="283.85" width="5.94" height="5.45" fill="#bfd1e2"/>
<rect x="348.40" y="283.85" width="5.94" height="5.45" fill="#a6bed6"/>
<rect x="354.04" y="283.85" width="5.94" height="5.45" fill="#c6d6e5"/>
<rect x="359.68" y="283.85" width="5.94" height="5.45" fill="#ccdae8"/>
<rect x="365.32" y="283.85" width="5.94" height="5.45" fill="#ccdae8"/>
<rect x="370.96" y="283.85" width="5.94" height="5.45" fill="#bfd1e2"/>
<rect x="376.60" y="283.85" width="5.94" height="5.45" fill="#f2bea0"/>
<rect x="382.24" y="283.85" width="5.94" height="5.45" fill="#f7dbc9"/>
<rect x="387.88" y="283.85" width="5.94" height="5.45" fill="#f6d2bc"/>
<rect x="393.52" y="283.85" width="5.94" height="5.45" fill="#f6d2bc"/>
<rect x="399.16" y="283.85" width="5.94" height="5.45" fill="#f7dbc9"/>
<rect x="404.80" y="283.85" width="5.94" height="5.45" fill="#f4c8ae"/>
<rect x="410.44" y="283.85" width="5.94" height="5.45" fill="#f2bea0"/>
<rect x="416.08" y="283.85" width="5.94" height="5.45" fill="#f7ede6"/>
<rect x="421.72" y="283.85" width="5.94" height="5.45" fill="#cc6953"/>
<rect x="427.36" y="283.85" width="5.94" height="5.45" fill="#cc6953"/>
<rect x="433.00" y="283.85" width="5.94" height="5.45" fill="#be5345"/>
<rect x="438.64" y="283.85" width="5.94" height="5.45" fill="#d3765c"/>
<rect x="444.28" y="283.85" width="5.94" height="5.45" fill="#e49979"/>
<rect x="292.00" y="289.00" width="5.94" height="5.45" fill="#a6bed6"/>
<rect x="297.64" y="289.00" width="5.94" height="5.45" fill="#bfd1e2"/>
<rect x="303.28" y="289.00" width="5.94" height="5.45" fill="#c6d6e5"/>
<rect x="308.92" y="289.00" width="5.94" height="5.45" fill="#c6d6e5"/>
<rect x="314.56" y="289.00" width="5.94" height="5.45" fill="#b9ccdf"/>
<rect x="320.20" y="289.00" width="5.94" height="5.45" fill="#d9e4ee"/>
<rect x="325.84" y="289.00" width="5.94" height="5.45" fill="#eff2f4"/>
<rect x="331.48" y="289.00" width="5.94" height="5.45" fill="#d9e4ee"/>
<rect x="337.12" y="289.00" width="5.94" height="5.45" fill="#7a94c0"/>
<rect x="342.76" y="289.00" width="5.94" height="5.45" fill="#acc3d9"/>
<rect x="348.40" y="289.00" width="5.94" height="5.45" fill="#c6d6e5"/>
<rect x="354.04" y="289.00" width="5.94" height="5.45" fill="#b2c8dc"/>
<rect x="359.68" y="289.00" width="5.94" height="5.45" fill="#c6d6e5"/>
<rect x="365.32" y="289.00" width="5.94" height="5.45" fill="#d9e4ee"/>
<rect x="370.96" y="289.00" width="5.94" height="5.45" fill="#b2c8dc"/>
<rect x="376.60" y="289.00" width="5.94" height="5.45" fill="#f2bea0"/>
<rect x="382.24" y="289.00" width="5.94" height="5.45" fill="#f7ede6"/>
<rect x="387.88" y="289.00" width="5.94" height="5.45" fill="#f2bea0"/>
<rect x="393.52" y="289.00" width="5.94" height="5.45" fill="#f2bea0"/>
<rect x="399.16" y="289.00" width="5.94" height="5.45" fill="#f6d2bc"/>
<rect x="404.80" y="289.00" width="5.94" height="5.45" fill="#f2bea0"/>
<rect x="410.44" y="289.00" width="5.94" height="5.45" fill="#e49979"/>
<rect x="416.08" y="289.00" width="5.94" height="5.45" fill="#f4c8ae"/>
<rect x="421.72" y="289.00" width="5.94" height="5.45" fill="#d3765c"/>
<rect x="427.36" y="289.00" width="5.94" height="5.45" fill="#d98265"/>
<rect x="433.00" y="289.00" width="5.94" height="5.45" fill="#d3765c"/>
<rect x="438.64" y="289.00" width="5.94" height="5.45" fill="#e49979"/>
<rect x="444.28" y="289.00" width="5.94" height="5.45" fill="#eeb192"/>
<rect x="292.00" y="294.15" width="5.94" height="5.45" fill="#b9ccdf"/>
<rect x="297.64" y="294.15" width="5.94" height="5.45" fill="#b9ccdf"/>
<rect x="303.28" y="294.15" width="5.94" height="5.45" fill="#b9ccdf"/>
<rect x="308.92" y="294.15" width="5.94" height="5.45" fill="#eff2f4"/>
<rect x="314.56" y="294.15" width="5.94" height="5.45" fill="#b9ccdf"/>
<rect x="320.20" y="294.15" width="5.94" height="5.45" fill="#b2c8dc"/>
<rect x="325.84" y="294.15" width="5.94" height="5.45" fill="#94aece"/>
<rect x="331.48" y="294.15" width="5.94" height="5.45" fill="#b9ccdf"/>
<rect x="337.12" y="294.15" width="5.94" height="5.45" fill="#b9ccdf"/>
<rect x="342.76" y="294.15" width="5.94" height="5.45" fill="#c6d6e5"/>
<rect x="348.40" y="294.15" width="5.94" height="5.45" fill="#9ab4d0"/>
<rect x="354.04" y="294.15" width="5.94" height="5.45" fill="#f6f6f6"/>
<rect x="359.68" y="294.15" width="5.94" height="5.45" fill="#bfd1e2"/>
<rect x="365.32" y="294.15" width="5.94" height="5.45" fill="#f6f6f6"/>
<rect x="370.96" y="294.15" width="5.94" height="5.45" fill="#a6bed6"/>
<rect x="376.60" y="294.15" width="5.94" height="5.45" fill="#f2bea0"/>
<rect x="382.24" y="294.15" width="5.94" height="5.45" fill="#f6d2bc"/>
<rect x="387.88" y="294.15" width="5.94" height="5.45" fill="#f7dbc9"/>
<rect x="393.52" y="294.15" width="5.94" height="5.45" fill="#f7dbc9"/>
<rect x="399.16" y="294.15" width="5.94" height="5.45" fill="#f4c8ae"/>
<rect x="404.80" y="294.15" width="5.94" height="5.45" fill="#e49979"/>
<rect x="410.44" y="294.15" width="5.94" height="5.45" fill="#e49979"/>
<rect x="416.08" y="294.15" width="5.94" height="5.45" fill="#e9a484"/>
<rect x="421.72" y="294.15" width="5.94" height="5.45" fill="#d3765c"/>
<rect x="427.36" y="294.15" width="5.94" height="5.45" fill="#eeb192"/>
<rect x="433.00" y="294.15" width="5.94" height="5.45" fill="#e49979"/>
<rect x="438.64" y="294.15" width="5.94" height="5.45" fill="#df8e6e"/>
<rect x="444.28" y="294.15" width="5.94" height="5.45" fill="#eeb192"/>
<rect x="292.00" y="299.30" width="5.94" height="5.45" fill="#b2c8dc"/>
<rect x="297.64" y="299.30" width="5.94" height="5.45" fill="#b2c8dc"/>
<rect x="303.28" y="299.30" width="5.94" height="5.45" fill="#b2c8dc"/>
<rect x="308.92" y="299.30" width="5.94" height="5.45" fill="#eff2f4"/>
<rect x="314.56" y="299.30" width="5.94" height="5.45" fill="#bfd1e2"/>
<rect x="320.20" y="299.30" width="5.94" height="5.45" fill="#bfd1e2"/>
<rect x="325.84" y="299.30" width="5.94" height="5.45" fill="#b9ccdf"/>
<rect x="331.48" y="299.30" width="5.94" height="5.45" fill="#b9ccdf"/>
<rect x="337.12" y="299.30" width="5.94" height="5.45" fill="#bfd1e2"/>
<rect x="342.76" y="299.30" width="5.94" height="5.45" fill="#b2c8dc"/>
<rect x="348.40" y="299.30" width="5.94" height="5.45" fill="#a6bed6"/>
<rect x="354.04" y="299.30" width="5.94" height="5.45" fill="#e8edf2"/>
<rect x="359.68" y="299.30" width="5.94" height="5.45" fill="#bfd1e2"/>
<rect x="365.32" y="299.30" width="5.94" height="5.45" fill="#f6f6f6"/>
<rect x="370.96" y="299.30" width="5.94" height="5.45" fill="#bfd1e2"/>
<rect x="376.60" y="299.30" width="5.94" height="5.45" fill="#f2bea0"/>
<rect x="382.24" y="299.30" width="5.94" height="5.45" fill="#f4c8ae"/>
<rect x="387.88" y="299.30" width="5.94" height="5.45" fill="#f7dbc9"/>
<rect x="393.52" y="299.30" width="5.94" height="5.45" fill="#f7dbc9"/>
<rect x="399.16" y="299.30" width="5.94" height="5.45" fill="#f6d2bc"/>
<rect x="404.80" y="299.30" width="5.94" height="5.45" fill="#e49979"/>
<rect x="410.44" y="299.30" width="5.94" height="5.45" fill="#e49979"/>
<rect x="416.08" y="299.30" width="5.94" height="5.45" fill="#e49979"/>
<rect x="421.72" y="299.30" width="5.94" height="5.45" fill="#d3765c"/>
<rect x="427.36" y="299.30" width="5.94" height="5.45" fill="#e49979"/>
<rect x="433.00" y="299.30" width="5.94" height="5.45" fill="#e49979"/>
<rect x="438.64" y="299.30" width="5.94" height="5.45" fill="#f4c8ae"/>
<rect x="444.28" y="299.30" width="5.94" height="5.45" fill="#e49979"/>
<rect x="292.00" y="304.45" width="5.94" height="5.45" fill="#b9ccdf"/>
<rect x="297.64" y="304.45" width="5.94" height="5.45" fill="#bfd1e2"/>
<rect x="303.28" y="304.45" width="5.94" height="5.45" fill="#ccdae8"/>
<rect x="308.92" y="304.45" width="5.94" height="5.45" fill="#e0e8f0"/>
<rect x="314.56" y="304.45" width="5.94" height="5.45" fill="#bfd1e2"/>
<rect x="320.20" y="304.45" width="5.94" height="5.45" fill="#ccdae8"/>
<rect x="325.84" y="304.45" width="5.94" height="5.45" fill="#94aece"/>
<rect x="331.48" y="304.45" width="5.94" height="5.45" fill="#b9ccdf"/>
<rect x="337.12" y="304.45" width="5.94" height="5.45" fill="#b2c8dc"/>
<rect x="342.76" y="304.45" width="5.94" height="5.45" fill="#b9ccdf"/>
<rect x="348.40" y="304.45" width="5.94" height="5.45" fill="#bfd1e2"/>
<rect x="354.04" y="304.45" width="5.94" height="5.45" fill="#c6d6e5"/>
<rect x="359.68" y="304.45" width="5.94" height="5.45" fill="#bfd1e2"/>
<rect x="365.32" y="304.45" width="5.94" height="5.45" fill="#e0e8f0"/>
<rect x="370.96" y="304.45" width="5.94" height="5.45" fill="#b9ccdf"/>
<rect x="376.60" y="304.45" width="5.94" height="5.45" fill="#e9a484"/>
<rect x="382.24" y="304.45" width="5.94" height="5.45" fill="#f2bea0"/>
<rect x="387.88" y="304.45" width="5.94" height="5.45" fill="#f4c8ae"/>
<rect x="393.52" y="304.45" width="5.94" height="5.45" fill="#f4c8ae"/>
<rect x="399.16" y="304.45" width="5.94" height="5.45" fill="#f7ede6"/>
<rect x="404.80" y="304.45" width="5.94" height="5.45" fill="#d3765c"/>
<rect x="410.44" y="304.45" width="5.94" height="5.45" fill="#f4c8ae"/>
<rect x="416.08" y="304.45" width="5.94" height="5.45" fill="#e9a484"/>
<rect x="421.72" y="304.45" width="5.94" height="5.45" fill="#df8e6e"/>
<rect x="427.36" y="304.45" width="5.94" height="5.45" fill="#d3765c"/>
<rect x="433.00" y="304.45" width="5.94" height="5.45" fill="#eeb192"/>
<rect x="438.64" y="304.45" width="5.94" height="5.45" fill="#eeb192"/>
<rect x="444.28" y="304.45" width="5.94" height="5.45" fill="#e49979"/>
<rect x="292.00" y="309.60" width="5.94" height="5.45" fill="#b2c8dc"/>
<rect x="297.64" y="309.60" width="5.94" height="5.45" fill="#b9ccdf"/>
<rect x="303.28" y="309.60" width="5.94" height="5.45" fill="#b9ccdf"/>
<rect x="308.92" y="309.60" width="5.94" height="5.45" fill="#e0e8f0"/>
<rect x="314.56" y="309.60" width="5.94" height="5.45" fill="#a6bed6"/>
<rect x="320.20" y="309.60" width="5.94" height="5.45" fill="#c6d6e5"/>
<rect x="325.84" y="309.60" width="5.94" height="5.45" fill="#c6d6e5"/>
<rect x="331.48" y="309.60" width="5.94" height="5.45" fill="#b9ccdf"/>
<rect x="337.12" y="309.60" width="5.94" height="5.45" fill="#b2c8dc"/>
<rect x="342.76" y="309.60" width="5.94" height="5.45" fill="#a6bed6"/>
<rect x="348.40" y="309.60" width="5.94" height="5.45" fill="#a0b9d3"/>
<rect x="354.04" y="309.60" width="5.94" height="5.45" fill="#ccdae8"/>
<rect x="359.68" y="309.60" width="5.94" height="5.45" fill="#d9e4ee"/>
<rect x="365.32" y="309.60" width="5.94" height="5.45" fill="#f8e8de"/>
<rect x="370.96" y="309.60" width="5.94" height="5.45" fill="#e8edf2"/>
<rect x="376.60" y="309.60" width="5.94" height="5.45" fill="#eeb192"/>
<rect x="382.24" y="309.60" width="5.94" height="5.45" fill="#f4c8ae"/>
<rect x="387.88" y="309.60" width="5.94" height="5.45" fill="#f4c8ae"/>
<rect x="393.52" y="309.60" width="5.94" height="5.45" fill="#f7dbc9"/>
<rect x="399.16" y="309.60" width="5.94" height="5.45" fill="#f6f2ee"/>
<rect x="404.80" y="309.60" width="5.94" height="5.45" fill="#d3765c"/>
<rect x="410.44" y="309.60" width="5.94" height="5.45" fill="#f2bea0"/>
<rect x="416.08" y="309.60" width="5.94" height="5.45" fill="#e49979"/>
<rect x="421.72" y="309.60" width="5.94" height="5.45" fill="#df8e6e"/>
<rect x="427.36" y="309.60" width="5.94" height="5.45" fill="#f4c8ae"/>
<rect x="433.00" y="309.60" width="5.94" height="5.45" fill="#f2bea0"/>
<rect x="438.64" y="309.60" width="5.94" height="5.45" fill="#f4c8ae"/>
<rect x="444.28" y="309.60" width="5.94" height="5.45" fill="#b23f39"/>
<rect x="292.00" y="314.75" width="5.94" height="5.45" fill="#bfd1e2"/>
<rect x="297.64" y="314.75" width="5.94" height="5.45" fill="#b2c8dc"/>
<rect x="303.28" y="314.75" width="5.94" height="5.45" fill="#bfd1e2"/>
<rect x="308.92" y="314.75" width="5.94" height="5.45" fill="#d9e4ee"/>
<rect x="314.56" y="314.75" width="5.94" height="5.45" fill="#a0b9d3"/>
<rect x="320.20" y="314.75" width="5.94" height="5.45" fill="#b9ccdf"/>
<rect x="325.84" y="314.75" width="5.94" height="5.45" fill="#d2dfeb"/>
<rect x="331.48" y="314.75" width="5.94" height="5.45" fill="#bfd1e2"/>
<rect x="337.12" y="314.75" width="5.94" height="5.45" fill="#b2c8dc"/>
<rect x="342.76" y="314.75" width="5.94" height="5.45" fill="#eff2f4"/>
<rect x="348.40" y="314.75" width="5.94" height="5.45" fill="#bfd1e2"/>
<rect x="354.04" y="314.75" width="5.94" height="5.45" fill="#e8edf2"/>
<rect x="359.68" y="314.75" width="5.94" height="5.45" fill="#ccdae8"/>
<rect x="365.32" y="314.75" width="5.94" height="5.45" fill="#f6f6f6"/>
<rect x="370.96" y="314.75" width="5.94" height="5.45" fill="#acc3d9"/>
<rect x="376.60" y="314.75" width="5.94" height="5.45" fill="#e9a484"/>
<rect x="382.24" y="314.75" width="5.94" height="5.45" fill="#f2bea0"/>
<rect x="387.88" y="314.75" width="5.94" height="5.45" fill="#f8e8de"/>
<rect x="393.52" y="314.75" width="5.94" height="5.45" fill="#f7dbc9"/>
<rect x="399.16" y="314.75" width="5.94" height="5.45" fill="#f7dbc9"/>
<rect x="404.80" y="314.75" width="5.94" height="5.45" fill="#d98265"/>
<rect x="410.44" y="314.75" width="5.94" height="5.45" fill="#df8e6e"/>
<rect x="416.08" y="314.75" width="5.94" height="5.45" fill="#e49979"/>
<rect x="421.72" y="314.75" width="5.94" height="5.45" fill="#d3765c"/>
<rect x="427.36" y="314.75" width="5.94" height="5.45" fill="#df8e6e"/>
<rect x="433.00" y="314.75" width="5.94" height="5.45" fill="#eeb192"/>
<rect x="438.64" y="314.75" width="5.94" height="5.45" fill="#eeb192"/>
<rect x="444.28" y="314.75" width="5.94" height="5.45" fill="#e9a484"/>
<rect x="292.00" y="319.90" width="5.94" height="5.45" fill="#c6d6e5"/>
<rect x="297.64" y="319.90" width="5.94" height="5.45" fill="#b2c8dc"/>
<rect x="303.28" y="319.90" width="5.94" height="5.45" fill="#c6d6e5"/>
<rect x="308.92" y="319.90" width="5.94" height="5.45" fill="#eff2f4"/>
<rect x="314.56" y="319.90" width="5.94" height="5.45" fill="#b9ccdf"/>
<rect x="320.20" y="319.90" width="5.94" height="5.45" fill="#a0b9d3"/>
<rect x="325.84" y="319.90" width="5.94" height="5.45" fill="#c6d6e5"/>
<rect x="331.48" y="319.90" width="5.94" height="5.45" fill="#d2dfeb"/>
<rect x="337.12" y="319.90" width="5.94" height="5.45" fill="#b2c8dc"/>
<rect x="342.76" y="319.90" width="5.94" height="5.45" fill="#c6d6e5"/>
<rect x="348.40" y="319.90" width="5.94" height="5.45" fill="#c6d6e5"/>
<rect x="354.04" y="319.90" width="5.94" height="5.45" fill="#d9e4ee"/>
<rect x="359.68" y="319.90" width="5.94" height="5.45" fill="#c6d6e5"/>
<rect x="365.32" y="319.90" width="5.94" height="5.45" fill="#f6f6f6"/>
<rect x="370.96" y="319.90" width="5.94" height="5.45" fill="#a6bed6"/>
<rect x="376.60" y="319.90" width="5.94" height="5.45" fill="#f2bea0"/>
<rect x="382.24" y="319.90" width="5.94" height="5.45" fill="#f4c8ae"/>
<rect x="387.88" y="319.90" width="5.94" height="5.45" fill="#f6d2bc"/>
<rect x="393.52" y="319.90" width="5.94" height="5.45" fill="#f4c8ae"/>
<rect x="399.16" y="319.90" width="5.94" height="5.45" fill="#f8e8de"/>
<rect x="404.80" y="319.90" width="5.94" height="5.45" fill="#eeb192"/>
<rect x="410.44" y="319.90" width="5.94" height="5.45" fill="#eeb192"/>
<rect x="416.08" y="319.90" width="5.94" height="5.45" fill="#e9a484"/>
<rect x="421.72" y="319.90" width="5.94" height="5.45" fill="#b8493f"/>
<rect x="427.36" y="319.90" width="5.94" height="5.45" fill="#e49979"/>
<rect x="433.00" y="319.90" width="5.94" height="5.45" fill="#d98265"/>
<rect x="438.64" y="319.90" width="5.94" height="5.45" fill="#d3765c"/>
<rect x="444.28" y="319.90" width="5.94" height="5.45" fill="#e49979"/>
<rect x="292.00" y="325.05" width="5.94" height="5.45" fill="#b2c8dc"/>
<rect x="297.64" y="325.05" width="5.94" height="5.45" fill="#bfd1e2"/>
<rect x="303.28" y="325.05" width="5.94" height="5.45" fill="#a6bed6"/>
<rect x="308.92" y="325.05" width="5.94" height="5.45" fill="#eff2f4"/>
<rect x="314.56" y="325.05" width="5.94" height="5.45" fill="#b2c8dc"/>
<rect x="320.20" y="325.05" width="5.94" height="5.45" fill="#acc3d9"/>
<rect x="325.84" y="325.05" width="5.94" height="5.45" fill="#a6bed6"/>
<rect x="331.48" y="325.05" width="5.94" height="5.45" fill="#bfd1e2"/>
<rect x="337.12" y="325.05" width="5.94" height="5.45" fill="#9ab4d0"/>
<rect x="342.76" y="325.05" width="5.94" height="5.45" fill="#b9ccdf"/>
<rect x="348.40" y="325.05" width="5.94" height="5.45" fill="#bfd1e2"/>
<rect x="354.04" y="325.05" width="5.94" height="5.45" fill="#f6d6c2"/>
<rect x="359.68" y="325.05" width="5.94" height="5.45" fill="#bfd1e2"/>
<rect x="365.32" y="325.05" width="5.94" height="5.45" fill="#f6d6c2"/>
<rect x="370.96" y="325.05" width="5.94" height="5.45" fill="#bfd1e2"/>
<rect x="376.60" y="325.05" width="5.94" height="5.45" fill="#e9a484"/>
<rect x="382.24" y="325.05" width="5.94" height="5.45" fill="#f2bea0"/>
<rect x="387.88" y="325.05" width="5.94" height="5.45" fill="#f8e0d0"/>
<rect x="393.52" y="325.05" width="5.94" height="5.45" fill="#f7dbc9"/>
<rect x="399.16" y="325.05" width="5.94" height="5.45" fill="#f7dbc9"/>
<rect x="404.80" y="325.05" width="5.94" height="5.45" fill="#df8e6e"/>
<rect x="410.44" y="325.05" width="5.94" height="5.45" fill="#e49979"/>
<rect x="416.08" y="325.05" width="5.94" height="5.45" fill="#e9a484"/>
<rect x="421.72" y="325.05" width="5.94" height="5.45" fill="#df8e6e"/>
<rect x="427.36" y="325.05" width="5.94" height="5.45" fill="#e49979"/>
<rect x="433.00" y="325.05" width="5.94" height="5.45" fill="#eeb192"/>
<rect x="438.64" y="325.05" width="5.94" height="5.45" fill="#d98265"/>
<rect x="444.28" y="325.05" width="5.94" height="5.45" fill="#e9a484"/>
<rect x="292.00" y="330.20" width="5.94" height="5.45" fill="#e9a484"/>
<rect x="297.64" y="330.20" width="5.94" height="5.45" fill="#d98265"/>
<rect x="303.28" y="330.20" width="5.94" height="5.45" fill="#e49979"/>
<rect x="308.92" y="330.20" width="5.94" height="5.45" fill="#b8493f"/>
<rect x="314.56" y="330.20" width="5.94" height="5.45" fill="#df8e6e"/>
<rect x="320.20" y="330.20" width="5.94" height="5.45" fill="#f4c8ae"/>
<rect x="325.84" y="330.20" width="5.94" height="5.45" fill="#d98265"/>
<rect x="331.48" y="330.20" width="5.94" height="5.45" fill="#d98265"/>
<rect x="337.12" y="330.20" width="5.94" height="5.45" fill="#d3765c"/>
<rect x="342.76" y="330.20" width="5.94" height="5.45" fill="#f8e8de"/>
<rect x="348.40" y="330.20" width="5.94" height="5.45" fill="#f6d6c2"/>
<rect x="354.04" y="330.20" width="5.94" height="5.45" fill="#c6d6e5"/>
<rect x="359.68" y="330.20" width="5.94" height="5.45" fill="#bfd1e2"/>
<rect x="365.32" y="330.20" width="5.94" height="5.45" fill="#c6d6e5"/>
<rect x="370.96" y="330.20" width="5.94" height="5.45" fill="#e0e8f0"/>
<rect x="376.60" y="330.20" width="5.94" height="5.45" fill="#d9e4ee"/>
<rect x="382.24" y="330.20" width="5.94" height="5.45" fill="#c6d6e5"/>
<rect x="387.88" y="330.20" width="5.94" height="5.45" fill="#bfd1e2"/>
<rect x="393.52" y="330.20" width="5.94" height="5.45" fill="#bfd1e2"/>
<rect x="399.16" y="330.20" width="5.94" height="5.45" fill="#c6d6e5"/>
<rect x="404.80" y="330.20" width="5.94" height="5.45" fill="#c6d6e5"/>
<rect x="410.44" y="330.20" width="5.94" height="5.45" fill="#eff2f4"/>
<rect x="416.08" y="330.20" width="5.94" height="5.45" fill="#ccdae8"/>
<rect x="421.72" y="330.20" width="5.94" height="5.45" fill="#d9e4ee"/>
<rect x="427.36" y="330.20" width="5.94" height="5.45" fill="#c6d6e5"/>
<rect x="433.00" y="330.20" width="5.94" height="5.45" fill="#bfd1e2"/>
<rect x="438.64" y="330.20" width="5.94" height="5.45" fill="#c6d6e5"/>
<rect x="444.28" y="330.20" width="5.94" height="5.45" fill="#bfd1e2"/>
<rect x="292.00" y="335.35" width="5.94" height="5.45" fill="#e49979"/>
<rect x="297.64" y="335.35" width="5.94" height="5.45" fill="#e49979"/>
<rect x="303.28" y="335.35" width="5.94" height="5.45" fill="#f6f2ee"/>
<rect x="308.92" y="335.35" width="5.94" height="5.45" fill="#be5345"/>
<rect x="314.56" y="335.35" width="5.94" height="5.45" fill="#e49979"/>
<rect x="320.20" y="335.35" width="5.94" height="5.45" fill="#e9a484"/>
<rect x="325.84" y="335.35" width="5.94" height="5.45" fill="#d98265"/>
<rect x="331.48" y="335.35" width="5.94" height="5.45" fill="#e49979"/>
<rect x="337.12" y="335.35" width="5.94" height="5.45" fill="#b8493f"/>
<rect x="342.76" y="335.35" width="5.94" height="5.45" fill="#f7ede6"/>
<rect x="348.40" y="335.35" width="5.94" height="5.45" fill="#f7dbc9"/>
<rect x="354.04" y="335.35" width="5.94" height="5.45" fill="#ccdae8"/>
<rect x="359.68" y="335.35" width="5.94" height="5.45" fill="#bfd1e2"/>
<rect x="365.32" y="335.35" width="5.94" height="5.45" fill="#c6d6e5"/>
<rect x="370.96" y="335.35" width="5.94" height="5.45" fill="#c6d6e5"/>
<rect x="376.60" y="335.35" width="5.94" height="5.45" fill="#c6d6e5"/>
<rect x="382.24" y="335.35" width="5.94" height="5.45" fill="#f6f6f6"/>
<rect x="387.88" y="335.35" width="5.94" height="5.45" fill="#c6d6e5"/>
<rect x="393.52" y="335.35" width="5.94" height="5.45" fill="#bfd1e2"/>
<rect x="399.16" y="335.35" width="5.94" height="5.45" fill="#d2dfeb"/>
<rect x="404.80" y="335.35" width="5.94" height="5.45" fill="#c6d6e5"/>
<rect x="410.44" y="335.35" width="5.94" height="5.45" fill="#e0e8f0"/>
<rect x="416.08" y="335.35" width="5.94" height="5.45" fill="#ccdae8"/>
<rect x="421.72" y="335.35" width="5.94" height="5.45" fill="#c6d6e5"/>
<rect x="427.36" y="335.35" width="5.94" height="5.45" fill="#e0e8f0"/>
<rect x="433.00" y="335.35" width="5.94" height="5.45" fill="#c6d6e5"/>
<rect x="438.64" y="335.35" width="5.94" height="5.45" fill="#c6d6e5"/>
<rect x="444.28" y="335.35" width="5.94" height="5.45" fill="#bfd1e2"/>
<rect x="292.00" y="340.50" width="5.94" height="5.45" fill="#eeb192"/>
<rect x="297.64" y="340.50" width="5.94" height="5.45" fill="#df8e6e"/>
<rect x="303.28" y="340.50" width="5.94" height="5.45" fill="#f4c8ae"/>
<rect x="308.92" y="340.50" width="5.94" height="5.45" fill="#d3765c"/>
<rect x="314.56" y="340.50" width="5.94" height="5.45" fill="#d3765c"/>
<rect x="320.20" y="340.50" width="5.94" height="5.45" fill="#f7dbc9"/>
<rect x="325.84" y="340.50" width="5.94" height="5.45" fill="#d98265"/>
<rect x="331.48" y="340.50" width="5.94" height="5.45" fill="#df8e6e"/>
<rect x="337.12" y="340.50" width="5.94" height="5.45" fill="#d3765c"/>
<rect x="342.76" y="340.50" width="5.94" height="5.45" fill="#f8e4d6"/>
<rect x="348.40" y="340.50" width="5.94" height="5.45" fill="#f6f6f6"/>
<rect x="354.04" y="340.50" width="5.94" height="5.45" fill="#e8edf2"/>
<rect x="359.68" y="340.50" width="5.94" height="5.45" fill="#b2c8dc"/>
<rect x="365.32" y="340.50" width="5.94" height="5.45" fill="#bfd1e2"/>
<rect x="370.96" y="340.50" width="5.94" height="5.45" fill="#a6bed6"/>
<rect x="376.60" y="340.50" width="5.94" height="5.45" fill="#d9e4ee"/>
<rect x="382.24" y="340.50" width="5.94" height="5.45" fill="#c6d6e5"/>
<rect x="387.88" y="340.50" width="5.94" height="5.45" fill="#bfd1e2"/>
<rect x="393.52" y="340.50" width="5.94" height="5.45" fill="#d9e4ee"/>
<rect x="399.16" y="340.50" width="5.94" height="5.45" fill="#c6d6e5"/>
<rect x="404.80" y="340.50" width="5.94" height="5.45" fill="#b2c8dc"/>
<rect x="410.44" y="340.50" width="5.94" height="5.45" fill="#d2dfeb"/>
<rect x="416.08" y="340.50" width="5.94" height="5.45" fill="#c6d6e5"/>
<rect x="421.72" y="340.50" width="5.94" height="5.45" fill="#b2c8dc"/>
<rect x="427.36" y="340.50" width="5.94" height="5.45" fill="#e0e8f0"/>
<rect x="433.00" y="340.50" width="5.94" height="5.45" fill="#e8edf2"/>
<rect x="438.64" y="340.50" width="5.94" height="5.45" fill="#e0e8f0"/>
<rect x="444.28" y="340.50" width="5.94" height="5.45" fill="#e8edf2"/>
<rect x="292.00" y="345.65" width="5.94" height="5.45" fill="#f2bea0"/>
<rect x="297.64" y="345.65" width="5.94" height="5.45" fill="#e49979"/>
<rect x="303.28" y="345.65" width="5.94" height="5.45" fill="#e9a484"/>
<rect x="308.92" y="345.65" width="5.94" height="5.45" fill="#e49979"/>
<rect x="314.56" y="345.65" width="5.94" height="5.45" fill="#b8493f"/>
<rect x="320.20" y="345.65" width="5.94" height="5.45" fill="#e49979"/>
<rect x="325.84" y="345.65" width="5.94" height="5.45" fill="#c45d4b"/>
<rect x="331.48" y="345.65" width="5.94" height="5.45" fill="#d3765c"/>
<rect x="337.12" y="345.65" width="5.94" height="5.45" fill="#f4c8ae"/>
<rect x="342.76" y="345.65" width="5.94" height="5.45" fill="#f7ede6"/>
<rect x="348.40" y="345.65" width="5.94" height="5.45" fill="#f7ede6"/>
<rect x="354.04" y="345.65" width="5.94" height="5.45" fill="#c6d6e5"/>
<rect x="359.68" y="345.65" width="5.94" height="5.45" fill="#ccdae8"/>
<rect x="365.32" y="345.65" width="5.94" height="5.45" fill="#e8edf2"/>
<rect x="370.96" y="345.65" width="5.94" height="5.45" fill="#b9ccdf"/>
<rect x="376.60" y="345.65" width="5.94" height="5.45" fill="#bfd1e2"/>
<rect x="382.24" y="345.65" width="5.94" height="5.45" fill="#bfd1e2"/>
<rect x="387.88" y="345.65" width="5.94" height="5.45" fill="#c6d6e5"/>
<rect x="393.52" y="345.65" width="5.94" height="5.45" fill="#b9ccdf"/>
<rect x="399.16" y="345.65" width="5.94" height="5.45" fill="#d2dfeb"/>
<rect x="404.80" y="345.65" width="5.94" height="5.45" fill="#ccdae8"/>
<rect x="410.44" y="345.65" width="5.94" height="5.45" fill="#e0e8f0"/>
<rect x="416.08" y="345.65" width="5.94" height="5.45" fill="#c6d6e5"/>
<rect x="421.72" y="345.65" width="5.94" height="5.45" fill="#e0e8f0"/>
<rect x="427.36" y="345.65" width="5.94" height="5.45" fill="#bfd1e2"/>
<rect x="433.00" y="345.65" width="5.94" height="5.45" fill="#bfd1e2"/>
<rect x="438.64" y="345.65" width="5.94" height="5.45" fill="#d9e4ee"/>
<rect x="444.28" y="345.65" width="5.94" height="5.45" fill="#c6d6e5"/>
<rect x="292.00" y="350.80" width="5.94" height="5.45" fill="#f2bea0"/>
<rect x="297.64" y="350.80" width="5.94" height="5.45" fill="#df8e6e"/>
<rect x="303.28" y="350.80" width="5.94" height="5.45" fill="#f7dbc9"/>
<rect x="308.92" y="350.80" width="5.94" height="5.45" fill="#d3765c"/>
<rect x="314.56" y="350.80" width="5.94" height="5.45" fill="#f2bea0"/>
<rect x="320.20" y="350.80" width="5.94" height="5.45" fill="#f6d2bc"/>
<rect x="325.84" y="350.80" width="5.94" height="5.45" fill="#df8e6e"/>
<rect x="331.48" y="350.80" width="5.94" height="5.45" fill="#d3765c"/>
<rect x="337.12" y="350.80" width="5.94" height="5.45" fill="#cc6953"/>
<rect x="342.76" y="350.80" width="5.94" height="5.45" fill="#f7ede6"/>
<rect x="348.40" y="350.80" width="5.94" height="5.45" fill="#f7ede6"/>
<rect x="354.04" y="350.80" width="5.94" height="5.45" fill="#acc3d9"/>
<rect x="359.68" y="350.80" width="5.94" height="5.45" fill="#c6d6e5"/>
<rect x="365.32" y="350.80" width="5.94" height="5.45" fill="#a6bed6"/>
<rect x="370.96" y="350.80" width="5.94" height="5.45" fill="#e0e8f0"/>
<rect x="376.60" y="350.80" width="5.94" height="5.45" fill="#ccdae8"/>
<rect x="382.24" y="350.80" width="5.94" height="5.45" fill="#ccdae8"/>
<rect x="387.88" y="350.80" width="5.94" height="5.45" fill="#bfd1e2"/>
<rect x="393.52" y="350.80" width="5.94" height="5.45" fill="#eff2f4"/>
<rect x="399.16" y="350.80" width="5.94" height="5.45" fill="#f2bea0"/>
<rect x="404.80" y="350.80" width="5.94" height="5.45" fill="#ccdae8"/>
<rect x="410.44" y="350.80" width="5.94" height="5.45" fill="#d9e4ee"/>
<rect x="416.08" y="350.80" width="5.94" height="5.45" fill="#c6d6e5"/>
<rect x="421.72" y="350.80" width="5.94" height="5.45" fill="#d2dfeb"/>
<rect x="427.36" y="350.80" width="5.94" height="5.45" fill="#acc3d9"/>
<rect x="433.00" y="350.80" width="5.94" height="5.45" fill="#e8edf2"/>
<rect x="438.64" y="350.80" width="5.94" height="5.45" fill="#b2c8dc"/>
<rect x="444.28" y="350.80" width="5.94" height="5.45" fill="#d2dfeb"/>
<rect x="292.00" y="355.95" width="5.94" height="5.45" fill="#df8e6e"/>
<rect x="297.64" y="355.95" width="5.94" height="5.45" fill="#e49979"/>
<rect x="303.28" y="355.95" width="5.94" height="5.45" fill="#e49979"/>
<rect x="308.92" y="355.95" width="5.94" height="5.45" fill="#d3765c"/>
<rect x="314.56" y="355.95" width="5.94" height="5.45" fill="#f8e8de"/>
<rect x="320.20" y="355.95" width="5.94" height="5.45" fill="#f4c8ae"/>
<rect x="325.84" y="355.95" width="5.94" height="5.45" fill="#f4c8ae"/>
<rect x="331.48" y="355.95" width="5.94" height="5.45" fill="#e49979"/>
<rect x="337.12" y="355.95" width="5.94" height="5.45" fill="#f6f6f6"/>
<rect x="342.76" y="355.95" width="5.94" height="5.45" fill="#f4c8ae"/>
<rect x="348.40" y="355.95" width="5.94" height="5.45" fill="#df8e6e"/>
<rect x="354.04" y="355.95" width="5.94" height="5.45" fill="#a6bed6"/>
<rect x="359.68" y="355.95" width="5.94" height="5.45" fill="#bfd1e2"/>
<rect x="365.32" y="355.95" width="5.94" height="5.45" fill="#e9a484"/>
<rect x="370.96" y="355.95" width="5.94" height="5.45" fill="#f7ede6"/>
<rect x="376.60" y="355.95" width="5.94" height="5.45" fill="#ccdae8"/>
<rect x="382.24" y="355.95" width="5.94" height="5.45" fill="#ccdae8"/>
<rect x="387.88" y="355.95" width="5.94" height="5.45" fill="#bfd1e2"/>
<rect x="393.52" y="355.95" width="5.94" height="5.45" fill="#eff2f4"/>
<rect x="399.16" y="355.95" width="5.94" height="5.45" fill="#ccdae8"/>
<rect x="404.80" y="355.95" width="5.94" height="5.45" fill="#f7dbc9"/>
<rect x="410.44" y="355.95" width="5.94" height="5.45" fill="#d9e4ee"/>
<rect x="416.08" y="355.95" width="5.94" height="5.45" fill="#ccdae8"/>
<rect x="421.72" y="355.95" width="5.94" height="5.45" fill="#bfd1e2"/>
<rect x="427.36" y="355.95" width="5.94" height="5.45" fill="#728cbb"/>
<rect x="433.00" y="355.95" width="5.94" height="5.45" fill="#f6f6f6"/>
<rect x="438.64" y="355.95" width="5.94" height="5.45" fill="#a6bed6"/>
<rect x="444.28" y="355.95" width="5.94" height="5.45" fill="#acc3d9"/>
<rect x="292.00" y="361.10" width="5.94" height="5.45" fill="#eff2f4"/>
<rect x="297.64" y="361.10" width="5.94" height="5.45" fill="#f6f6f6"/>
<rect x="303.28" y="361.10" width="5.94" height="5.45" fill="#f7dbc9"/>
<rect x="308.92" y="361.10" width="5.94" height="5.45" fill="#f7dbc9"/>
<rect x="314.56" y="361.10" width="5.94" height="5.45" fill="#d3765c"/>
<rect x="320.20" y="361.10" width="5.94" height="5.45" fill="#df8e6e"/>
<rect x="325.84" y="361.10" width="5.94" height="5.45" fill="#eeb192"/>
<rect x="331.48" y="361.10" width="5.94" height="5.45" fill="#f6d2bc"/>
<rect x="337.12" y="361.10" width="5.94" height="5.45" fill="#d3765c"/>
<rect x="342.76" y="361.10" width="5.94" height="5.45" fill="#f6d2bc"/>
<rect x="348.40" y="361.10" width="5.94" height="5.45" fill="#f7dbc9"/>
<rect x="354.04" y="361.10" width="5.94" height="5.45" fill="#a6bed6"/>
<rect x="359.68" y="361.10" width="5.94" height="5.45" fill="#e0e8f0"/>
<rect x="365.32" y="361.10" width="5.94" height="5.45" fill="#e0e8f0"/>
<rect x="370.96" y="361.10" width="5.94" height="5.45" fill="#702024"/>
<rect x="376.60" y="361.10" width="5.94" height="5.45" fill="#e0e8f0"/>
<rect x="382.24" y="361.10" width="5.94" height="5.45" fill="#c6d6e5"/>
<rect x="387.88" y="361.10" width="5.94" height="5.45" fill="#e0e8f0"/>
<rect x="393.52" y="361.10" width="5.94" height="5.45" fill="#acc3d9"/>
<rect x="399.16" y="361.10" width="5.94" height="5.45" fill="#e0e8f0"/>
<rect x="404.80" y="361.10" width="5.94" height="5.45" fill="#94aece"/>
<rect x="410.44" y="361.10" width="5.94" height="5.45" fill="#a6bed6"/>
<rect x="416.08" y="361.10" width="5.94" height="5.45" fill="#e8edf2"/>
<rect x="421.72" y="361.10" width="5.94" height="5.45" fill="#c6d6e5"/>
<rect x="427.36" y="361.10" width="5.94" height="5.45" fill="#acc3d9"/>
<rect x="433.00" y="361.10" width="5.94" height="5.45" fill="#d9e4ee"/>
<rect x="438.64" y="361.10" width="5.94" height="5.45" fill="#f6f6f6"/>
<rect x="444.28" y="361.10" width="5.94" height="5.45" fill="#f6f6f6"/>
<rect x="292.00" y="366.25" width="5.94" height="5.45" fill="#f8e4d6"/>
<rect x="297.64" y="366.25" width="5.94" height="5.45" fill="#eff2f4"/>
<rect x="303.28" y="366.25" width="5.94" height="5.45" fill="#f7dbc9"/>
<rect x="308.92" y="366.25" width="5.94" height="5.45" fill="#eff2f4"/>
<rect x="314.56" y="366.25" width="5.94" height="5.45" fill="#be5345"/>
<rect x="320.20" y="366.25" width="5.94" height="5.45" fill="#be5345"/>
<rect x="325.84" y="366.25" width="5.94" height="5.45" fill="#cc6953"/>
<rect x="331.48" y="366.25" width="5.94" height="5.45" fill="#f6d2bc"/>
<rect x="337.12" y="366.25" width="5.94" height="5.45" fill="#f2bea0"/>
<rect x="342.76" y="366.25" width="5.94" height="5.45" fill="#f8e8de"/>
<rect x="348.40" y="366.25" width="5.94" height="5.45" fill="#f6d2bc"/>
<rect x="354.04" y="366.25" width="5.94" height="5.45" fill="#b9ccdf"/>
<rect x="359.68" y="366.25" width="5.94" height="5.45" fill="#e8edf2"/>
<rect x="365.32" y="366.25" width="5.94" height="5.45" fill="#f7dbc9"/>
<rect x="370.96" y="366.25" width="5.94" height="5.45" fill="#932a2c"/>
<rect x="376.60" y="366.25" width="5.94" height="5.45" fill="#e0e8f0"/>
<rect x="382.24" y="366.25" width="5.94" height="5.45" fill="#c6d6e5"/>
<rect x="387.88" y="366.25" width="5.94" height="5.45" fill="#e0e8f0"/>
<rect x="393.52" y="366.25" width="5.94" height="5.45" fill="#acc3d9"/>
<rect x="399.16" y="366.25" width="5.94" height="5.45" fill="#eff2f4"/>
<rect x="404.80" y="366.25" width="5.94" height="5.45" fill="#94aece"/>
<rect x="410.44" y="366.25" width="5.94" height="5.45" fill="#b2c8dc"/>
<rect x="416.08" y="366.25" width="5.94" height="5.45" fill="#e8edf2"/>
<rect x="421.72" y="366.25" width="5.94" height="5.45" fill="#c6d6e5"/>
<rect x="427.36" y="366.25" width="5.94" height="5.45" fill="#acc3d9"/>
<rect x="433.00" y="366.25" width="5.94" height="5.45" fill="#d9e4ee"/>
<rect x="438.64" y="366.25" width="5.94" height="5.45" fill="#f6f2ee"/>
<rect x="444.28" y="366.25" width="5.94" height="5.45" fill="#e8edf2"/>
<rect x="292.00" y="371.40" width="5.94" height="5.45" fill="#f4c8ae"/>
<rect x="297.64" y="371.40" width="5.94" height="5.45" fill="#f4c8ae"/>
<rect x="303.28" y="371.40" width="5.94" height="5.45" fill="#f4c8ae"/>
<rect x="308.92" y="371.40" width="5.94" height="5.45" fill="#f2bea0"/>
<rect x="314.56" y="371.40" width="5.94" height="5.45" fill="#be5345"/>
<rect x="320.20" y="371.40" width="5.94" height="5.45" fill="#be5345"/>
<rect x="325.84" y="371.40" width="5.94" height="5.45" fill="#df8e6e"/>
<rect x="331.48" y="371.40" width="5.94" height="5.45" fill="#df8e6e"/>
<rect x="337.12" y="371.40" width="5.94" height="5.45" fill="#f8e4d6"/>
<rect x="342.76" y="371.40" width="5.94" height="5.45" fill="#d3765c"/>
<rect x="348.40" y="371.40" width="5.94" height="5.45" fill="#f2bea0"/>
<rect x="354.04" y="371.40" width="5.94" height="5.45" fill="#d9e4ee"/>
<rect x="359.68" y="371.40" width="5.94" height="5.45" fill="#eff2f4"/>
<rect x="365.32" y="371.40" width="5.94" height="5.45" fill="#eff2f4"/>
<rect x="370.96" y="371.40" width="5.94" height="5.45" fill="#f7dbc9"/>
<rect x="376.60" y="371.40" width="5.94" height="5.45" fill="#e0e8f0"/>
<rect x="382.24" y="371.40" width="5.94" height="5.45" fill="#ccdae8"/>
<rect x="387.88" y="371.40" width="5.94" height="5.45" fill="#acc3d9"/>
<rect x="393.52" y="371.40" width="5.94" height="5.45" fill="#e0e8f0"/>
<rect x="399.16" y="371.40" width="5.94" height="5.45" fill="#e8edf2"/>
<rect x="404.80" y="371.40" width="5.94" height="5.45" fill="#e0e8f0"/>
<rect x="410.44" y="371.40" width="5.94" height="5.45" fill="#a6bed6"/>
<rect x="416.08" y="371.40" width="5.94" height="5.45" fill="#849ec6"/>
<rect x="421.72" y="371.40" width="5.94" height="5.45" fill="#c6d6e5"/>
<rect x="427.36" y="371.40" width="5.94" height="5.45" fill="#bfd1e2"/>
<rect x="433.00" y="371.40" width="5.94" height="5.45" fill="#bfd1e2"/>
<rect x="438.64" y="371.40" width="5.94" height="5.45" fill="#f6f6f6"/>
<rect x="444.28" y="371.40" width="5.94" height="5.45" fill="#eff2f4"/>
<rect x="292.00" y="376.55" width="5.94" height="5.45" fill="#f8e4d6"/>
<rect x="297.64" y="376.55" width="5.94" height="5.45" fill="#e9a484"/>
<rect x="303.28" y="376.55" width="5.94" height="5.45" fill="#e9a484"/>
<rect x="308.92" y="376.55" width="5.94" height="5.45" fill="#e49979"/>
<rect x="314.56" y="376.55" width="5.94" height="5.45" fill="#f4c8ae"/>
<rect x="320.20" y="376.55" width="5.94" height="5.45" fill="#eeb192"/>
<rect x="325.84" y="376.55" width="5.94" height="5.45" fill="#eeb192"/>
<rect x="331.48" y="376.55" width="5.94" height="5.45" fill="#e9a484"/>
<rect x="337.12" y="376.55" width="5.94" height="5.45" fill="#e9a484"/>
<rect x="342.76" y="376.55" width="5.94" height="5.45" fill="#d3765c"/>
<rect x="348.40" y="376.55" width="5.94" height="5.45" fill="#d98265"/>
<rect x="354.04" y="376.55" width="5.94" height="5.45" fill="#f8e0d0"/>
<rect x="359.68" y="376.55" width="5.94" height="5.45" fill="#d9e4ee"/>
<rect x="365.32" y="376.55" width="5.94" height="5.45" fill="#d9e4ee"/>
<rect x="370.96" y="376.55" width="5.94" height="5.45" fill="#f7dbc9"/>
<rect x="376.60" y="376.55" width="5.94" height="5.45" fill="#ccdae8"/>
<rect x="382.24" y="376.55" width="5.94" height="5.45" fill="#ccdae8"/>
<rect x="387.88" y="376.55" width="5.94" height="5.45" fill="#e0e8f0"/>
<rect x="393.52" y="376.55" width="5.94" height="5.45" fill="#a0b9d3"/>
<rect x="399.16" y="376.55" width="5.94" height="5.45" fill="#d9e4ee"/>
<rect x="404.80" y="376.55" width="5.94" height="5.45" fill="#d2dfeb"/>
<rect x="410.44" y="376.55" width="5.94" height="5.45" fill="#c6d6e5"/>
<rect x="416.08" y="376.55" width="5.94" height="5.45" fill="#eff2f4"/>
<rect x="421.72" y="376.55" width="5.94" height="5.45" fill="#a0b9d3"/>
<rect x="427.36" y="376.55" width="5.94" height="5.45" fill="#a0b9d3"/>
<rect x="433.00" y="376.55" width="5.94" height="5.45" fill="#a6bed6"/>
<rect x="438.64" y="376.55" width="5.94" height="5.45" fill="#ccdae8"/>
<rect x="444.28" y="376.55" width="5.94" height="5.45" fill="#d9e4ee"/>
<rect x="292.00" y="381.70" width="5.94" height="5.45" fill="#d3765c"/>
<rect x="297.64" y="381.70" width="5.94" height="5.45" fill="#eeb192"/>
<rect x="303.28" y="381.70" width="5.94" height="5.45" fill="#e49979"/>
<rect x="308.92" y="381.70" width="5.94" height="5.45" fill="#d98265"/>
<rect x="314.56" y="381.70" width="5.94" height="5.45" fill="#eeb192"/>
<rect x="320.20" y="381.70" width="5.94" height="5.45" fill="#e9a484"/>
<rect x="325.84" y="381.70" width="5.94" height="5.45" fill="#f8e4d6"/>
<rect x="331.48" y="381.70" width="5.94" height="5.45" fill="#f2bea0"/>
<rect x="337.12" y="381.70" width="5.94" height="5.45" fill="#e49979"/>
<rect x="342.76" y="381.70" width="5.94" height="5.45" fill="#f2bea0"/>
<rect x="348.40" y="381.70" width="5.94" height="5.45" fill="#f8e0d0"/>
<rect x="354.04" y="381.70" width="5.94" height="5.45" fill="#ccdae8"/>
<rect x="359.68" y="381.70" width="5.94" height="5.45" fill="#d9e4ee"/>
<rect x="365.32" y="381.70" width="5.94" height="5.45" fill="#ccdae8"/>
<rect x="370.96" y="381.70" width="5.94" height="5.45" fill="#f4c8ae"/>
<rect x="376.60" y="381.70" width="5.94" height="5.45" fill="#e0e8f0"/>
<rect x="382.24" y="381.70" width="5.94" height="5.45" fill="#ccdae8"/>
<rect x="387.88" y="381.70" width="5.94" height="5.45" fill="#acc3d9"/>
<rect x="393.52" y="381.70" width="5.94" height="5.45" fill="#c6d6e5"/>
<rect x="399.16" y="381.70" width="5.94" height="5.45" fill="#eff2f4"/>
<rect x="404.80" y="381.70" width="5.94" height="5.45" fill="#e0e8f0"/>
<rect x="410.44" y="381.70" width="5.94" height="5.45" fill="#f6f6f6"/>
<rect x="416.08" y="381.70" width="5.94" height="5.45" fill="#d9e4ee"/>
<rect x="421.72" y="381.70" width="5.94" height="5.45" fill="#c6d6e5"/>
<rect x="427.36" y="381.70" width="5.94" height="5.45" fill="#c6d6e5"/>
<rect x="433.00" y="381.70" width="5.94" height="5.45" fill="#7a94c0"/>
<rect x="438.64" y="381.70" width="5.94" height="5.45" fill="#d2dfeb"/>
<rect x="444.28" y="381.70" width="5.94" height="5.45" fill="#b2c8dc"/>
<rect x="292.00" y="386.85" width="5.94" height="5.45" fill="#eff2f4"/>
<rect x="297.64" y="386.85" width="5.94" height="5.45" fill="#f6d2bc"/>
<rect x="303.28" y="386.85" width="5.94" height="5.45" fill="#f2bea0"/>
<rect x="308.92" y="386.85" width="5.94" height="5.45" fill="#e49979"/>
<rect x="314.56" y="386.85" width="5.94" height="5.45" fill="#d98265"/>
<rect x="320.20" y="386.85" width="5.94" height="5.45" fill="#eeb192"/>
<rect x="325.84" y="386.85" width="5.94" height="5.45" fill="#e9a484"/>
<rect x="331.48" y="386.85" width="5.94" height="5.45" fill="#f4c8ae"/>
<rect x="337.12" y="386.85" width="5.94" height="5.45" fill="#be5345"/>
<rect x="342.76" y="386.85" width="5.94" height="5.45" fill="#eff2f4"/>
<rect x="348.40" y="386.85" width="5.94" height="5.45" fill="#f6d2bc"/>
<rect x="354.04" y="386.85" width="5.94" height="5.45" fill="#f6f2ee"/>
<rect x="359.68" y="386.85" width="5.94" height="5.45" fill="#bfd1e2"/>
<rect x="365.32" y="386.85" width="5.94" height="5.45" fill="#eff2f4"/>
<rect x="370.96" y="386.85" width="5.94" height="5.45" fill="#a33332"/>
<rect x="376.60" y="386.85" width="5.94" height="5.45" fill="#ccdae8"/>
<rect x="382.24" y="386.85" width="5.94" height="5.45" fill="#ccdae8"/>
<rect x="387.88" y="386.85" width="5.94" height="5.45" fill="#d9e4ee"/>
<rect x="393.52" y="386.85" width="5.94" height="5.45" fill="#b2c8dc"/>
<rect x="399.16" y="386.85" width="5.94" height="5.45" fill="#c6d6e5"/>
<rect x="404.80" y="386.85" width="5.94" height="5.45" fill="#d9e4ee"/>
<rect x="410.44" y="386.85" width="5.94" height="5.45" fill="#d9e4ee"/>
<rect x="416.08" y="386.85" width="5.94" height="5.45" fill="#e8edf2"/>
<rect x="421.72" y="386.85" width="5.94" height="5.45" fill="#c6d6e5"/>
<rect x="427.36" y="386.85" width="5.94" height="5.45" fill="#a6bed6"/>
<rect x="433.00" y="386.85" width="5.94" height="5.45" fill="#8ea9cb"/>
<rect x="438.64" y="386.85" width="5.94" height="5.45" fill="#eff2f4"/>
<rect x="444.28" y="386.85" width="5.94" height="5.45" fill="#ccdae8"/>
</g>
<rect x="292.00" y="262.6" width="62.04" height="4.8" fill="#63a94a"/>
<rect x="354.04" y="262.6" width="16.92" height="4.8" fill="#8b93cc"/>
<rect x="370.96" y="262.6" width="5.64" height="4.8" fill="#63a94a"/>
<rect x="376.60" y="262.6" width="73.32" height="4.8" fill="#8b93cc"/>
<rect x="453.1" y="241.8" width="7.8" height="7.0" fill="#63a94a"/>
<rect x="453.1" y="249.8" width="7.8" height="7.0" fill="#8b93cc"/>
<text x="463.90" y="247.80" font-size="7.4" textLength="40.7" lengthAdjust="spacingAndGlyphs" fill="#1a1a1a" stroke="#1a1a1a" stroke-width="0.259">Old Controls</text>
<text x="463.90" y="255.90" font-size="7.4" textLength="49.3" lengthAdjust="spacingAndGlyphs" fill="#1a1a1a" stroke="#1a1a1a" stroke-width="0.259">Young Controls</text>
<rect x="487.4" y="261.0" width="5.3" height="79.0" fill="url(#cbgrad)"/>
<text x="496.20" y="273.15" font-size="7.6" fill="#111" stroke="#111" stroke-width="0.266">2</text>
<text x="496.20" y="287.80" font-size="7.6" fill="#111" stroke="#111" stroke-width="0.266">1</text>
<text x="496.20" y="302.45" font-size="7.6" fill="#111" stroke="#111" stroke-width="0.266">0</text>
<text x="496.20" y="317.10" font-size="7.6" fill="#111" stroke="#111" stroke-width="0.266">−1</text>
<text x="496.20" y="331.75" font-size="7.6" fill="#111" stroke="#111" stroke-width="0.266">−2</text>
<text x="452.90" y="272.82" font-size="5.0" fill="#222" stroke="#222" stroke-width="0.06">MME</text>
<text x="452.90" y="278.01" font-size="5.0" fill="#222" stroke="#222" stroke-width="0.06">CXCR2</text>
<text x="452.90" y="283.20" font-size="5.0" fill="#222" stroke="#222" stroke-width="0.06">TNFRSF10C</text>
<text x="452.90" y="288.39" font-size="5.0" fill="#222" stroke="#222" stroke-width="0.06">FCGR3B</text>
<text x="452.90" y="293.58" font-size="5.0" fill="#222" stroke="#222" stroke-width="0.06">CXCL1</text>
<text x="452.90" y="298.77" font-size="5.0" fill="#222" stroke="#222" stroke-width="0.06">EPHB1</text>
<text x="452.90" y="303.96" font-size="5.0" fill="#222" stroke="#222" stroke-width="0.06">PHOSPHO1</text>
<text x="452.90" y="309.15" font-size="5.0" fill="#222" stroke="#222" stroke-width="0.06">CHI3L1</text>
<text x="452.90" y="314.34" font-size="5.0" fill="#222" stroke="#222" stroke-width="0.06">BAIAP3</text>
<text x="452.90" y="319.53" font-size="5.0" fill="#222" stroke="#222" stroke-width="0.06">AOC3</text>
<text x="452.90" y="324.72" font-size="5.0" fill="#222" stroke="#222" stroke-width="0.06">ASPRV1</text>
<text x="452.90" y="329.91" font-size="5.0" fill="#222" stroke="#222" stroke-width="0.06">PLIN4</text>
<text x="452.90" y="335.10" font-size="5.0" fill="#222" stroke="#222" stroke-width="0.06">SNX32</text>
<text x="452.90" y="340.29" font-size="5.0" fill="#222" stroke="#222" stroke-width="0.06">TLDC2</text>
<text x="452.90" y="345.48" font-size="5.0" fill="#222" stroke="#222" stroke-width="0.06">JSRP1</text>
<text x="452.90" y="350.67" font-size="5.0" fill="#222" stroke="#222" stroke-width="0.06">SH3D19</text>
<text x="452.90" y="355.86" font-size="5.0" fill="#222" stroke="#222" stroke-width="0.06">SNX22</text>
<text x="452.90" y="361.05" font-size="5.0" fill="#222" stroke="#222" stroke-width="0.06">TYW1B</text>
<text x="452.90" y="366.24" font-size="5.0" fill="#222" stroke="#222" stroke-width="0.06">RPS25</text>
<text x="452.90" y="371.43" font-size="5.0" fill="#222" stroke="#222" stroke-width="0.06">RPS24</text>
<text x="452.90" y="376.62" font-size="5.0" fill="#222" stroke="#222" stroke-width="0.06">STX18</text>
<text x="452.90" y="381.81" font-size="5.0" fill="#222" stroke="#222" stroke-width="0.06">PAF1</text>
<text x="452.90" y="387.00" font-size="5.0" fill="#222" stroke="#222" stroke-width="0.06">SP140L</text>
<text x="452.90" y="392.19" font-size="5.0" fill="#222" stroke="#222" stroke-width="0.06">HK1</text>
<path d="M294.82 261.00V257.50H300.46V261.00M297.64 257.50V256.00H306.10V261.00M301.87 256.00V254.00H311.74V261.00M317.38 261.00V256.80H323.02V261.00M328.66 261.00V256.80H334.30V261.00M320.20 256.80V254.80H331.48V256.80M325.84 254.80V253.60H339.94V261.00M306.81 254.00V252.80H332.89V253.60M345.58 261.00V257.50H351.22V261.00M319.85 252.80V251.40H348.40V257.50M356.86 261.00V256.50H362.50V261.00M359.68 256.50V253.30H368.14V261.00M363.91 253.30V247.20H373.78V261.00M334.12 251.40V244.00H368.84V247.20M379.42 261.00V258.00H385.06V261.00M390.70 261.00V257.00H396.34V261.00M382.24 258.00V256.20H393.52V257.00M387.88 256.20V255.20H401.98V261.00M407.62 261.00V258.00H413.26V261.00M410.44 258.00V256.50H418.90V261.00M394.93 255.20V253.50H414.67V256.50M424.54 261.00V258.00H430.18V261.00M427.36 258.00V256.30H435.82V261.00M441.46 261.00V256.50H447.10V261.00M431.59 256.30V255.00H444.28V256.50M404.80 253.50V251.20H437.93V255.00M351.48 244.00V233.60H421.37V251.20" fill="none" stroke="#222" stroke-width="0.75"/>
<path d="M292.00 270.97H290.80V276.12H292.00M290.80 273.55H290.00V281.27H292.00M290.00 277.41H289.30V286.42H292.00M292.00 291.57H290.40V296.72H292.00M292.00 301.88H290.60V307.02H292.00M290.40 294.15H289.50V304.45H290.60M289.50 299.30H288.50V312.17H292.00M289.30 281.92H287.00V305.74H288.50M292.00 317.32H290.50V322.47H292.00M290.50 319.90H289.00V327.62H292.00M287.00 293.83H285.20V323.76H289.00M292.00 332.77H289.80V337.92H292.00M292.00 343.07H290.00V348.22H292.00M289.80 335.35H286.50V345.65H290.00M292.00 353.38H289.50V358.52H292.00M289.50 355.95H287.50V363.67H292.00M286.50 340.50H280.20V359.81H287.50M292.00 368.82H288.50V373.97H292.00M292.00 379.12H289.50V384.27H292.00M289.50 381.70H287.30V389.42H292.00M288.50 371.40H283.00V385.56H287.30M280.20 350.16H277.70V378.48H283.00M285.20 308.80H264.00V364.32H277.70" fill="none" stroke="#222" stroke-width="0.75"/></svg>
</body></html>
